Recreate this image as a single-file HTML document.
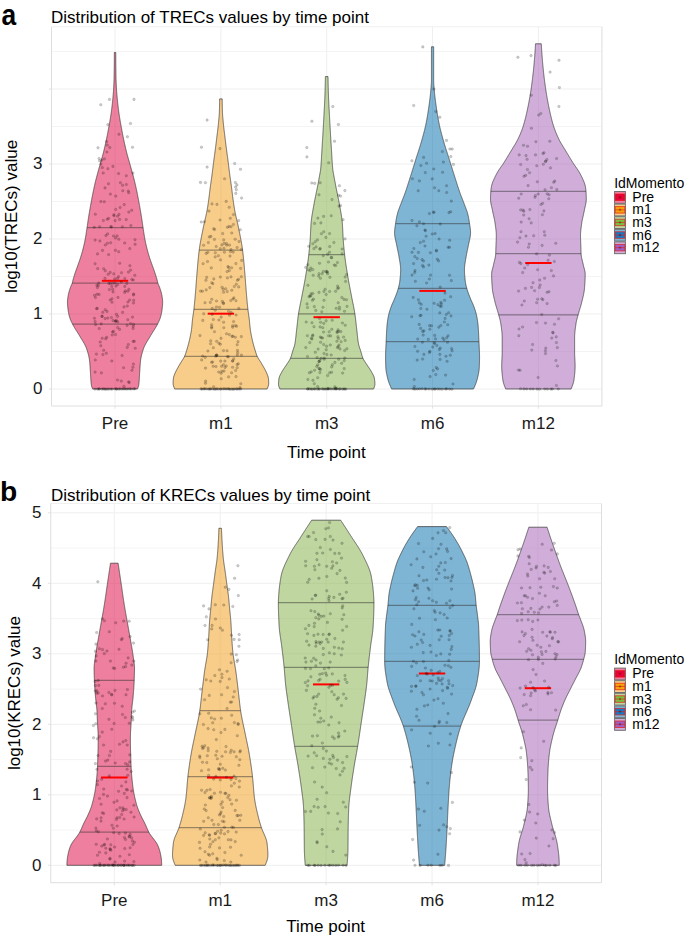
<!DOCTYPE html><html><head><meta charset="utf-8"><style>html,body{margin:0;padding:0;background:#fff;}svg{display:block;font-family:"Liberation Sans",sans-serif;}</style></head><body>
<svg width="685" height="940" viewBox="0 0 685 940">
<rect width="685" height="940" fill="#fff"/>
<line x1="51.55" y1="351.50" x2="601.95" y2="351.50" stroke="#f1f1f1" stroke-width="0.8"/>
<line x1="51.55" y1="276.50" x2="601.95" y2="276.50" stroke="#f1f1f1" stroke-width="0.8"/>
<line x1="51.55" y1="201.50" x2="601.95" y2="201.50" stroke="#f1f1f1" stroke-width="0.8"/>
<line x1="51.55" y1="126.50" x2="601.95" y2="126.50" stroke="#f1f1f1" stroke-width="0.8"/>
<line x1="51.55" y1="51.50" x2="601.95" y2="51.50" stroke="#f1f1f1" stroke-width="0.8"/>
<line x1="51.55" y1="389.00" x2="601.95" y2="389.00" stroke="#efefef" stroke-width="1"/>
<line x1="48.849999999999994" y1="389.00" x2="51.55" y2="389.00" stroke="#e2e2e2" stroke-width="1"/>
<line x1="51.55" y1="314.00" x2="601.95" y2="314.00" stroke="#efefef" stroke-width="1"/>
<line x1="48.849999999999994" y1="314.00" x2="51.55" y2="314.00" stroke="#e2e2e2" stroke-width="1"/>
<line x1="51.55" y1="239.00" x2="601.95" y2="239.00" stroke="#efefef" stroke-width="1"/>
<line x1="48.849999999999994" y1="239.00" x2="51.55" y2="239.00" stroke="#e2e2e2" stroke-width="1"/>
<line x1="51.55" y1="164.00" x2="601.95" y2="164.00" stroke="#efefef" stroke-width="1"/>
<line x1="48.849999999999994" y1="164.00" x2="51.55" y2="164.00" stroke="#e2e2e2" stroke-width="1"/>
<line x1="51.55" y1="89.00" x2="601.95" y2="89.00" stroke="#efefef" stroke-width="1"/>
<line x1="48.849999999999994" y1="89.00" x2="51.55" y2="89.00" stroke="#e2e2e2" stroke-width="1"/>
<line x1="115.05" y1="26.8" x2="115.05" y2="406.0" stroke="#efefef" stroke-width="1"/>
<line x1="115.05" y1="406.0" x2="115.05" y2="408.7" stroke="#e2e2e2" stroke-width="1"/>
<line x1="220.9" y1="26.8" x2="220.9" y2="406.0" stroke="#efefef" stroke-width="1"/>
<line x1="220.9" y1="406.0" x2="220.9" y2="408.7" stroke="#e2e2e2" stroke-width="1"/>
<line x1="326.7" y1="26.8" x2="326.7" y2="406.0" stroke="#efefef" stroke-width="1"/>
<line x1="326.7" y1="406.0" x2="326.7" y2="408.7" stroke="#e2e2e2" stroke-width="1"/>
<line x1="432.55" y1="26.8" x2="432.55" y2="406.0" stroke="#efefef" stroke-width="1"/>
<line x1="432.55" y1="406.0" x2="432.55" y2="408.7" stroke="#e2e2e2" stroke-width="1"/>
<line x1="538.4" y1="26.8" x2="538.4" y2="406.0" stroke="#efefef" stroke-width="1"/>
<line x1="538.4" y1="406.0" x2="538.4" y2="408.7" stroke="#e2e2e2" stroke-width="1"/>
<path d="M114.35,52.50 L115.75,52.50 115.75,53.00 115.75,53.50 115.75,54.00 115.75,54.50 115.75,55.00 115.75,55.50 115.76,55.99 115.76,56.49 115.76,56.99 115.76,57.49 115.76,57.99 115.77,58.49 115.77,58.99 115.77,59.49 115.77,59.99 115.78,60.49 115.78,60.99 115.78,61.49 115.79,61.99 115.79,62.49 115.80,62.98 115.80,63.48 115.80,63.98 115.81,64.48 115.81,64.98 115.82,65.48 115.82,65.98 115.83,66.48 115.83,66.98 115.84,67.48 115.85,67.98 115.85,68.48 115.86,68.98 115.86,69.47 115.87,69.97 115.88,70.47 115.88,70.97 115.89,71.47 115.90,71.97 115.90,72.47 115.91,72.97 115.92,73.47 115.92,73.97 115.93,74.47 115.94,74.97 115.95,75.47 115.95,75.97 115.96,76.46 115.97,76.96 115.99,77.46 116.00,77.96 116.01,78.46 116.03,78.96 116.04,79.46 116.06,79.96 116.08,80.46 116.10,80.96 116.12,81.46 116.14,81.96 116.16,82.46 116.19,82.95 116.21,83.45 116.24,83.95 116.26,84.45 116.29,84.95 116.31,85.45 116.34,85.95 116.37,86.45 116.39,86.95 116.42,87.45 116.45,87.95 116.48,88.45 116.51,88.95 116.54,89.45 116.56,89.94 116.59,90.44 116.63,90.94 116.66,91.44 116.69,91.94 116.73,92.44 116.77,92.94 116.81,93.44 116.85,93.94 116.89,94.44 116.93,94.94 116.97,95.44 117.01,95.94 117.06,96.43 117.10,96.93 117.15,97.43 117.20,97.93 117.24,98.43 117.29,98.93 117.34,99.43 117.39,99.93 117.44,100.43 117.49,100.93 117.54,101.43 117.59,101.93 117.64,102.43 117.69,102.93 117.75,103.42 117.80,103.92 117.85,104.42 117.91,104.92 117.97,105.42 118.02,105.92 118.08,106.42 118.14,106.92 118.20,107.42 118.26,107.92 118.33,108.42 118.39,108.92 118.45,109.42 118.52,109.91 118.58,110.41 118.65,110.91 118.72,111.41 118.79,111.91 118.85,112.41 118.92,112.91 118.99,113.41 119.06,113.91 119.14,114.41 119.21,114.91 119.28,115.41 119.35,115.91 119.43,116.41 119.51,116.90 119.59,117.40 119.67,117.90 119.75,118.40 119.83,118.90 119.91,119.40 120.00,119.90 120.08,120.40 120.17,120.90 120.25,121.40 120.34,121.90 120.43,122.40 120.52,122.90 120.61,123.39 120.70,123.89 120.79,124.39 120.88,124.89 120.97,125.39 121.06,125.89 121.16,126.39 121.25,126.89 121.34,127.39 121.43,127.89 121.52,128.39 121.61,128.89 121.70,129.39 121.80,129.89 121.89,130.38 121.98,130.88 122.08,131.38 122.17,131.88 122.26,132.38 122.36,132.88 122.45,133.38 122.55,133.88 122.65,134.38 122.74,134.88 122.84,135.38 122.94,135.88 123.04,136.38 123.14,136.87 123.24,137.37 123.34,137.87 123.44,138.37 123.55,138.87 123.65,139.37 123.75,139.87 123.86,140.37 123.96,140.87 124.07,141.37 124.18,141.87 124.29,142.37 124.40,142.87 124.51,143.36 124.62,143.86 124.73,144.36 124.84,144.86 124.96,145.36 125.07,145.86 125.19,146.36 125.30,146.86 125.42,147.36 125.54,147.86 125.65,148.36 125.77,148.86 125.89,149.36 126.01,149.86 126.14,150.35 126.26,150.85 126.38,151.35 126.51,151.85 126.63,152.35 126.76,152.85 126.89,153.35 127.01,153.85 127.14,154.35 127.28,154.85 127.41,155.35 127.55,155.85 127.69,156.35 127.83,156.84 127.97,157.34 128.11,157.84 128.26,158.34 128.40,158.84 128.54,159.34 128.69,159.84 128.83,160.34 128.98,160.84 129.12,161.34 129.27,161.84 129.41,162.34 129.56,162.84 129.70,163.34 129.84,163.83 129.98,164.33 130.11,164.83 130.25,165.33 130.39,165.83 130.53,166.33 130.67,166.83 130.81,167.33 130.95,167.83 131.09,168.33 131.23,168.83 131.36,169.33 131.50,169.83 131.64,170.32 131.78,170.82 131.92,171.32 132.06,171.82 132.20,172.32 132.34,172.82 132.48,173.32 132.61,173.82 132.75,174.32 132.89,174.82 133.02,175.32 133.16,175.82 133.29,176.32 133.43,176.82 133.56,177.31 133.69,177.81 133.82,178.31 133.95,178.81 134.08,179.31 134.21,179.81 134.33,180.31 134.46,180.81 134.58,181.31 134.70,181.81 134.82,182.31 134.94,182.81 135.06,183.31 135.17,183.80 135.29,184.30 135.40,184.80 135.52,185.30 135.63,185.80 135.74,186.30 135.85,186.80 135.96,187.30 136.07,187.80 136.17,188.30 136.28,188.80 136.39,189.30 136.49,189.80 136.60,190.30 136.70,190.79 136.80,191.29 136.91,191.79 137.01,192.29 137.11,192.79 137.21,193.29 137.31,193.79 137.41,194.29 137.51,194.79 137.61,195.29 137.70,195.79 137.80,196.29 137.90,196.79 137.99,197.28 138.09,197.78 138.19,198.28 138.28,198.78 138.37,199.28 138.47,199.78 138.56,200.28 138.66,200.78 138.75,201.28 138.84,201.78 138.93,202.28 139.03,202.78 139.12,203.28 139.21,203.78 139.30,204.27 139.39,204.77 139.48,205.27 139.57,205.77 139.66,206.27 139.75,206.77 139.84,207.27 139.93,207.77 140.02,208.27 140.10,208.77 140.19,209.27 140.28,209.77 140.36,210.27 140.45,210.76 140.53,211.26 140.62,211.76 140.70,212.26 140.78,212.76 140.87,213.26 140.95,213.76 141.03,214.26 141.12,214.76 141.20,215.26 141.28,215.76 141.36,216.26 141.44,216.76 141.52,217.26 141.60,217.75 141.68,218.25 141.76,218.75 141.83,219.25 141.91,219.75 141.99,220.25 142.06,220.75 142.14,221.25 142.21,221.75 142.28,222.25 142.35,222.75 142.42,223.25 142.49,223.75 142.57,224.24 142.64,224.74 142.71,225.24 142.78,225.74 142.85,226.24 142.92,226.74 143.00,227.24 143.07,227.74 143.15,228.24 143.22,228.74 143.30,229.24 143.37,229.74 143.45,230.24 143.52,230.74 143.60,231.23 143.67,231.73 143.75,232.23 143.82,232.73 143.90,233.23 143.98,233.73 144.06,234.23 144.14,234.73 144.22,235.23 144.30,235.73 144.38,236.23 144.46,236.73 144.55,237.23 144.64,237.72 144.72,238.22 144.81,238.72 144.90,239.22 145.00,239.72 145.09,240.22 145.19,240.72 145.29,241.22 145.39,241.72 145.50,242.22 145.60,242.72 145.71,243.22 145.82,243.72 145.94,244.22 146.05,244.71 146.17,245.21 146.28,245.71 146.40,246.21 146.52,246.71 146.65,247.21 146.77,247.71 146.89,248.21 147.02,248.71 147.15,249.21 147.27,249.71 147.40,250.21 147.53,250.71 147.67,251.20 147.80,251.70 147.94,252.20 148.08,252.70 148.23,253.20 148.37,253.70 148.52,254.20 148.67,254.70 148.82,255.20 148.97,255.70 149.12,256.20 149.28,256.70 149.44,257.20 149.59,257.70 149.76,258.19 149.92,258.69 150.09,259.19 150.26,259.69 150.43,260.19 150.60,260.69 150.78,261.19 150.96,261.69 151.13,262.19 151.31,262.69 151.49,263.19 151.67,263.69 151.85,264.19 152.02,264.68 152.20,265.18 152.38,265.68 152.56,266.18 152.74,266.68 152.92,267.18 153.11,267.68 153.29,268.18 153.47,268.68 153.66,269.18 153.84,269.68 154.02,270.18 154.19,270.68 154.37,271.18 154.54,271.67 154.71,272.17 154.87,272.67 155.04,273.17 155.20,273.67 155.36,274.17 155.52,274.67 155.68,275.17 155.84,275.67 156.00,276.17 156.15,276.67 156.30,277.17 156.45,277.67 156.60,278.16 156.74,278.66 156.88,279.16 157.01,279.66 157.14,280.16 157.26,280.66 157.37,281.16 157.48,281.66 157.60,282.16 157.72,282.66 157.87,283.16 158.04,283.66 158.24,284.16 158.45,284.66 158.68,285.15 158.91,285.65 159.13,286.15 159.34,286.65 159.53,287.15 159.71,287.65 159.88,288.15 160.06,288.65 160.23,289.15 160.40,289.65 160.56,290.15 160.72,290.65 160.88,291.15 161.03,291.64 161.17,292.14 161.30,292.64 161.43,293.14 161.54,293.64 161.65,294.14 161.74,294.64 161.83,295.14 161.91,295.64 162.00,296.14 162.08,296.64 162.17,297.14 162.25,297.64 162.32,298.14 162.39,298.63 162.45,299.13 162.51,299.63 162.56,300.13 162.60,300.63 162.63,301.13 162.64,301.63 162.65,302.13 162.65,302.63 162.63,303.13 162.61,303.63 162.59,304.13 162.56,304.63 162.52,305.12 162.48,305.62 162.43,306.12 162.38,306.62 162.33,307.12 162.28,307.62 162.22,308.12 162.16,308.62 162.11,309.12 162.05,309.62 161.99,310.12 161.92,310.62 161.84,311.12 161.76,311.61 161.68,312.11 161.58,312.61 161.49,313.11 161.38,313.61 161.27,314.11 161.16,314.61 161.04,315.11 160.92,315.61 160.79,316.11 160.66,316.61 160.52,317.11 160.37,317.61 160.21,318.11 160.03,318.60 159.84,319.10 159.64,319.60 159.43,320.10 159.22,320.60 158.99,321.10 158.76,321.60 158.52,322.10 158.28,322.60 158.04,323.10 157.80,323.60 157.55,324.10 157.30,324.60 157.04,325.09 156.77,325.59 156.50,326.09 156.21,326.59 155.92,327.09 155.62,327.59 155.32,328.09 155.02,328.59 154.71,329.09 154.39,329.59 154.08,330.09 153.76,330.59 153.44,331.09 153.12,331.59 152.81,332.08 152.49,332.58 152.17,333.08 151.86,333.58 151.55,334.08 151.25,334.58 150.95,335.08 150.65,335.58 150.36,336.08 150.07,336.58 149.78,337.08 149.48,337.58 149.18,338.08 148.87,338.57 148.57,339.07 148.26,339.57 147.95,340.07 147.64,340.57 147.33,341.07 147.03,341.57 146.73,342.07 146.44,342.57 146.15,343.07 145.86,343.57 145.58,344.07 145.32,344.57 145.06,345.07 144.81,345.56 144.57,346.06 144.34,346.56 144.12,347.06 143.92,347.56 143.73,348.06 143.56,348.56 143.39,349.06 143.22,349.56 143.06,350.06 142.89,350.56 142.73,351.06 142.58,351.56 142.42,352.05 142.27,352.55 142.13,353.05 141.99,353.55 141.85,354.05 141.72,354.55 141.59,355.05 141.47,355.55 141.35,356.05 141.24,356.55 141.13,357.05 141.03,357.55 140.93,358.05 140.84,358.55 140.76,359.04 140.69,359.54 140.62,360.04 140.56,360.54 140.50,361.04 140.45,361.54 140.40,362.04 140.35,362.54 140.31,363.04 140.27,363.54 140.23,364.04 140.19,364.54 140.15,365.04 140.12,365.53 140.08,366.03 140.05,366.53 140.02,367.03 139.99,367.53 139.96,368.03 139.93,368.53 139.90,369.03 139.87,369.53 139.83,370.03 139.80,370.53 139.77,371.03 139.74,371.53 139.71,372.03 139.67,372.52 139.63,373.02 139.60,373.52 139.57,374.02 139.54,374.52 139.51,375.02 139.48,375.52 139.45,376.02 139.42,376.52 139.40,377.02 139.37,377.52 139.34,378.02 139.31,378.52 139.29,379.01 139.26,379.51 139.22,380.01 139.19,380.51 139.15,381.01 139.12,381.51 139.07,382.01 139.03,382.51 138.98,383.01 138.93,383.51 138.87,384.01 138.81,384.51 138.75,385.01 138.66,385.51 138.54,386.00 138.39,386.50 138.23,387.00 138.04,387.50 137.85,388.00 137.65,388.50 137.45,389.00 L92.65,389.00 92.45,388.50 92.25,388.00 92.06,387.50 91.87,387.00 91.71,386.50 91.56,386.00 91.44,385.51 91.35,385.01 91.29,384.51 91.23,384.01 91.17,383.51 91.12,383.01 91.07,382.51 91.03,382.01 90.98,381.51 90.95,381.01 90.91,380.51 90.88,380.01 90.84,379.51 90.81,379.01 90.79,378.52 90.76,378.02 90.73,377.52 90.70,377.02 90.68,376.52 90.65,376.02 90.62,375.52 90.59,375.02 90.56,374.52 90.53,374.02 90.50,373.52 90.47,373.02 90.43,372.52 90.39,372.03 90.36,371.53 90.33,371.03 90.30,370.53 90.27,370.03 90.23,369.53 90.20,369.03 90.17,368.53 90.14,368.03 90.11,367.53 90.08,367.03 90.05,366.53 90.02,366.03 89.98,365.53 89.95,365.04 89.91,364.54 89.87,364.04 89.83,363.54 89.79,363.04 89.75,362.54 89.70,362.04 89.65,361.54 89.60,361.04 89.54,360.54 89.48,360.04 89.41,359.54 89.34,359.04 89.26,358.55 89.17,358.05 89.07,357.55 88.97,357.05 88.86,356.55 88.75,356.05 88.63,355.55 88.51,355.05 88.38,354.55 88.25,354.05 88.11,353.55 87.97,353.05 87.83,352.55 87.68,352.05 87.52,351.56 87.37,351.06 87.21,350.56 87.04,350.06 86.88,349.56 86.71,349.06 86.54,348.56 86.37,348.06 86.18,347.56 85.98,347.06 85.76,346.56 85.53,346.06 85.29,345.56 85.04,345.07 84.78,344.57 84.52,344.07 84.24,343.57 83.95,343.07 83.66,342.57 83.37,342.07 83.07,341.57 82.77,341.07 82.46,340.57 82.15,340.07 81.84,339.57 81.53,339.07 81.23,338.57 80.92,338.08 80.62,337.58 80.32,337.08 80.03,336.58 79.74,336.08 79.45,335.58 79.15,335.08 78.85,334.58 78.55,334.08 78.24,333.58 77.93,333.08 77.61,332.58 77.29,332.08 76.98,331.59 76.66,331.09 76.34,330.59 76.02,330.09 75.71,329.59 75.39,329.09 75.08,328.59 74.78,328.09 74.48,327.59 74.18,327.09 73.89,326.59 73.60,326.09 73.33,325.59 73.06,325.09 72.80,324.60 72.55,324.10 72.30,323.60 72.06,323.10 71.82,322.60 71.58,322.10 71.34,321.60 71.11,321.10 70.88,320.60 70.67,320.10 70.46,319.60 70.26,319.10 70.07,318.60 69.89,318.11 69.73,317.61 69.58,317.11 69.44,316.61 69.31,316.11 69.18,315.61 69.06,315.11 68.94,314.61 68.83,314.11 68.72,313.61 68.61,313.11 68.52,312.61 68.42,312.11 68.34,311.61 68.26,311.12 68.18,310.62 68.11,310.12 68.05,309.62 67.99,309.12 67.94,308.62 67.88,308.12 67.82,307.62 67.77,307.12 67.72,306.62 67.67,306.12 67.62,305.62 67.58,305.12 67.54,304.63 67.51,304.13 67.49,303.63 67.47,303.13 67.45,302.63 67.45,302.13 67.46,301.63 67.47,301.13 67.50,300.63 67.54,300.13 67.59,299.63 67.65,299.13 67.71,298.63 67.78,298.14 67.85,297.64 67.93,297.14 68.02,296.64 68.10,296.14 68.19,295.64 68.27,295.14 68.36,294.64 68.45,294.14 68.56,293.64 68.67,293.14 68.80,292.64 68.93,292.14 69.07,291.64 69.22,291.15 69.38,290.65 69.54,290.15 69.70,289.65 69.87,289.15 70.04,288.65 70.22,288.15 70.39,287.65 70.57,287.15 70.76,286.65 70.97,286.15 71.19,285.65 71.42,285.15 71.65,284.66 71.86,284.16 72.06,283.66 72.23,283.16 72.38,282.66 72.50,282.16 72.62,281.66 72.73,281.16 72.84,280.66 72.96,280.16 73.09,279.66 73.22,279.16 73.36,278.66 73.50,278.16 73.65,277.67 73.80,277.17 73.95,276.67 74.10,276.17 74.26,275.67 74.42,275.17 74.58,274.67 74.74,274.17 74.90,273.67 75.06,273.17 75.23,272.67 75.39,272.17 75.56,271.67 75.73,271.18 75.91,270.68 76.08,270.18 76.26,269.68 76.44,269.18 76.63,268.68 76.81,268.18 76.99,267.68 77.18,267.18 77.36,266.68 77.54,266.18 77.72,265.68 77.90,265.18 78.08,264.68 78.25,264.19 78.43,263.69 78.61,263.19 78.79,262.69 78.97,262.19 79.14,261.69 79.32,261.19 79.50,260.69 79.67,260.19 79.84,259.69 80.01,259.19 80.18,258.69 80.34,258.19 80.51,257.70 80.66,257.20 80.82,256.70 80.98,256.20 81.13,255.70 81.28,255.20 81.43,254.70 81.58,254.20 81.73,253.70 81.87,253.20 82.02,252.70 82.16,252.20 82.30,251.70 82.43,251.20 82.57,250.71 82.70,250.21 82.83,249.71 82.95,249.21 83.08,248.71 83.21,248.21 83.33,247.71 83.45,247.21 83.58,246.71 83.70,246.21 83.82,245.71 83.93,245.21 84.05,244.71 84.16,244.22 84.28,243.72 84.39,243.22 84.50,242.72 84.60,242.22 84.71,241.72 84.81,241.22 84.91,240.72 85.01,240.22 85.10,239.72 85.20,239.22 85.29,238.72 85.38,238.22 85.46,237.72 85.55,237.23 85.64,236.73 85.72,236.23 85.80,235.73 85.88,235.23 85.96,234.73 86.04,234.23 86.12,233.73 86.20,233.23 86.28,232.73 86.35,232.23 86.43,231.73 86.50,231.23 86.58,230.74 86.65,230.24 86.73,229.74 86.80,229.24 86.88,228.74 86.95,228.24 87.03,227.74 87.10,227.24 87.18,226.74 87.25,226.24 87.32,225.74 87.39,225.24 87.46,224.74 87.53,224.24 87.61,223.75 87.68,223.25 87.75,222.75 87.82,222.25 87.89,221.75 87.96,221.25 88.04,220.75 88.11,220.25 88.19,219.75 88.27,219.25 88.34,218.75 88.42,218.25 88.50,217.75 88.58,217.26 88.66,216.76 88.74,216.26 88.82,215.76 88.90,215.26 88.98,214.76 89.07,214.26 89.15,213.76 89.23,213.26 89.32,212.76 89.40,212.26 89.48,211.76 89.57,211.26 89.65,210.76 89.74,210.27 89.82,209.77 89.91,209.27 90.00,208.77 90.08,208.27 90.17,207.77 90.26,207.27 90.35,206.77 90.44,206.27 90.53,205.77 90.62,205.27 90.71,204.77 90.80,204.27 90.89,203.78 90.98,203.28 91.07,202.78 91.17,202.28 91.26,201.78 91.35,201.28 91.44,200.78 91.54,200.28 91.63,199.78 91.73,199.28 91.82,198.78 91.91,198.28 92.01,197.78 92.11,197.28 92.20,196.79 92.30,196.29 92.40,195.79 92.49,195.29 92.59,194.79 92.69,194.29 92.79,193.79 92.89,193.29 92.99,192.79 93.09,192.29 93.19,191.79 93.30,191.29 93.40,190.79 93.50,190.30 93.61,189.80 93.71,189.30 93.82,188.80 93.93,188.30 94.03,187.80 94.14,187.30 94.25,186.80 94.36,186.30 94.47,185.80 94.58,185.30 94.70,184.80 94.81,184.30 94.93,183.80 95.04,183.31 95.16,182.81 95.28,182.31 95.40,181.81 95.52,181.31 95.64,180.81 95.77,180.31 95.89,179.81 96.02,179.31 96.15,178.81 96.28,178.31 96.41,177.81 96.54,177.31 96.67,176.82 96.81,176.32 96.94,175.82 97.08,175.32 97.21,174.82 97.35,174.32 97.49,173.82 97.62,173.32 97.76,172.82 97.90,172.32 98.04,171.82 98.18,171.32 98.32,170.82 98.46,170.32 98.60,169.83 98.74,169.33 98.87,168.83 99.01,168.33 99.15,167.83 99.29,167.33 99.43,166.83 99.57,166.33 99.71,165.83 99.85,165.33 99.99,164.83 100.12,164.33 100.26,163.83 100.40,163.34 100.54,162.84 100.69,162.34 100.83,161.84 100.98,161.34 101.12,160.84 101.27,160.34 101.41,159.84 101.56,159.34 101.70,158.84 101.84,158.34 101.99,157.84 102.13,157.34 102.27,156.84 102.41,156.35 102.55,155.85 102.69,155.35 102.82,154.85 102.96,154.35 103.09,153.85 103.21,153.35 103.34,152.85 103.47,152.35 103.59,151.85 103.72,151.35 103.84,150.85 103.96,150.35 104.09,149.86 104.21,149.36 104.33,148.86 104.45,148.36 104.56,147.86 104.68,147.36 104.80,146.86 104.91,146.36 105.03,145.86 105.14,145.36 105.26,144.86 105.37,144.36 105.48,143.86 105.59,143.36 105.70,142.87 105.81,142.37 105.92,141.87 106.03,141.37 106.14,140.87 106.24,140.37 106.35,139.87 106.45,139.37 106.55,138.87 106.66,138.37 106.76,137.87 106.86,137.37 106.96,136.87 107.06,136.38 107.16,135.88 107.26,135.38 107.36,134.88 107.45,134.38 107.55,133.88 107.65,133.38 107.74,132.88 107.84,132.38 107.93,131.88 108.02,131.38 108.12,130.88 108.21,130.38 108.30,129.89 108.40,129.39 108.49,128.89 108.58,128.39 108.67,127.89 108.76,127.39 108.85,126.89 108.94,126.39 109.04,125.89 109.13,125.39 109.22,124.89 109.31,124.39 109.40,123.89 109.49,123.39 109.58,122.90 109.67,122.40 109.76,121.90 109.85,121.40 109.93,120.90 110.02,120.40 110.10,119.90 110.19,119.40 110.27,118.90 110.35,118.40 110.43,117.90 110.51,117.40 110.59,116.90 110.67,116.41 110.75,115.91 110.82,115.41 110.89,114.91 110.96,114.41 111.04,113.91 111.11,113.41 111.18,112.91 111.25,112.41 111.31,111.91 111.38,111.41 111.45,110.91 111.52,110.41 111.58,109.91 111.65,109.42 111.71,108.92 111.77,108.42 111.84,107.92 111.90,107.42 111.96,106.92 112.02,106.42 112.08,105.92 112.13,105.42 112.19,104.92 112.25,104.42 112.30,103.92 112.35,103.42 112.41,102.93 112.46,102.43 112.51,101.93 112.56,101.43 112.61,100.93 112.66,100.43 112.71,99.93 112.76,99.43 112.81,98.93 112.86,98.43 112.90,97.93 112.95,97.43 113.00,96.93 113.04,96.43 113.09,95.94 113.13,95.44 113.17,94.94 113.21,94.44 113.25,93.94 113.29,93.44 113.33,92.94 113.37,92.44 113.41,91.94 113.44,91.44 113.47,90.94 113.51,90.44 113.54,89.94 113.56,89.45 113.59,88.95 113.62,88.45 113.65,87.95 113.68,87.45 113.71,86.95 113.73,86.45 113.76,85.95 113.79,85.45 113.81,84.95 113.84,84.45 113.86,83.95 113.89,83.45 113.91,82.95 113.94,82.46 113.96,81.96 113.98,81.46 114.00,80.96 114.02,80.46 114.04,79.96 114.06,79.46 114.07,78.96 114.09,78.46 114.10,77.96 114.11,77.46 114.13,76.96 114.14,76.46 114.15,75.97 114.15,75.47 114.16,74.97 114.17,74.47 114.18,73.97 114.18,73.47 114.19,72.97 114.20,72.47 114.20,71.97 114.21,71.47 114.22,70.97 114.22,70.47 114.23,69.97 114.24,69.47 114.24,68.98 114.25,68.48 114.25,67.98 114.26,67.48 114.27,66.98 114.27,66.48 114.28,65.98 114.28,65.48 114.29,64.98 114.29,64.48 114.30,63.98 114.30,63.48 114.30,62.98 114.31,62.49 114.31,61.99 114.32,61.49 114.32,60.99 114.32,60.49 114.33,59.99 114.33,59.49 114.33,58.99 114.33,58.49 114.34,57.99 114.34,57.49 114.34,56.99 114.34,56.49 114.34,55.99 114.35,55.50 114.35,55.00 114.35,54.50 114.35,54.00 114.35,53.50 114.35,53.00 114.35,52.50 Z" fill="#df003d" fill-opacity="0.5" stroke="#333" stroke-width="0.7"/>
<line x1="87.05" y1="227.6" x2="143.05" y2="227.6" stroke="#333" stroke-opacity="0.48" stroke-width="1.25"/>
<line x1="72.22" y1="283.2" x2="157.88" y2="283.2" stroke="#333" stroke-opacity="0.48" stroke-width="1.25"/>
<line x1="72.55" y1="324.1" x2="157.55" y2="324.1" stroke="#333" stroke-opacity="0.48" stroke-width="1.25"/>
<path d="M219.60,98.90 L222.20,98.90 222.20,99.40 222.20,99.90 222.20,100.40 222.21,100.90 222.21,101.40 222.21,101.90 222.22,102.40 222.23,102.89 222.23,103.39 222.24,103.89 222.25,104.39 222.26,104.89 222.26,105.39 222.27,105.89 222.28,106.39 222.29,106.89 222.31,107.39 222.32,107.89 222.33,108.39 222.34,108.89 222.35,109.39 222.37,109.88 222.38,110.38 222.39,110.88 222.41,111.38 222.42,111.88 222.44,112.38 222.46,112.88 222.49,113.38 222.52,113.88 222.55,114.38 222.58,114.88 222.62,115.38 222.65,115.88 222.69,116.38 222.74,116.88 222.78,117.37 222.82,117.87 222.87,118.37 222.91,118.87 222.96,119.37 223.01,119.87 223.06,120.37 223.11,120.87 223.15,121.37 223.20,121.87 223.25,122.37 223.30,122.87 223.35,123.37 223.40,123.87 223.44,124.36 223.49,124.86 223.54,125.36 223.60,125.86 223.65,126.36 223.70,126.86 223.76,127.36 223.82,127.86 223.88,128.36 223.93,128.86 223.99,129.36 224.05,129.86 224.11,130.36 224.18,130.86 224.24,131.36 224.30,131.85 224.36,132.35 224.42,132.85 224.49,133.35 224.55,133.85 224.61,134.35 224.67,134.85 224.73,135.35 224.80,135.85 224.86,136.35 224.92,136.85 224.98,137.35 225.04,137.85 225.10,138.35 225.16,138.84 225.22,139.34 225.28,139.84 225.34,140.34 225.41,140.84 225.47,141.34 225.53,141.84 225.59,142.34 225.65,142.84 225.72,143.34 225.78,143.84 225.84,144.34 225.90,144.84 225.97,145.34 226.03,145.84 226.09,146.33 226.16,146.83 226.22,147.33 226.29,147.83 226.35,148.33 226.41,148.83 226.48,149.33 226.54,149.83 226.61,150.33 226.67,150.83 226.74,151.33 226.81,151.83 226.87,152.33 226.94,152.83 227.01,153.32 227.07,153.82 227.14,154.32 227.21,154.82 227.28,155.32 227.35,155.82 227.41,156.32 227.48,156.82 227.55,157.32 227.62,157.82 227.69,158.32 227.75,158.82 227.82,159.32 227.89,159.82 227.95,160.32 228.02,160.81 228.08,161.31 228.15,161.81 228.21,162.31 228.28,162.81 228.34,163.31 228.41,163.81 228.47,164.31 228.53,164.81 228.59,165.31 228.65,165.81 228.71,166.31 228.78,166.81 228.84,167.31 228.90,167.80 228.96,168.30 229.02,168.80 229.08,169.30 229.14,169.80 229.20,170.30 229.27,170.80 229.33,171.30 229.39,171.80 229.45,172.30 229.52,172.80 229.58,173.30 229.64,173.80 229.71,174.30 229.77,174.80 229.84,175.29 229.91,175.79 229.97,176.29 230.04,176.79 230.11,177.29 230.18,177.79 230.25,178.29 230.32,178.79 230.40,179.29 230.47,179.79 230.54,180.29 230.61,180.79 230.68,181.29 230.76,181.79 230.83,182.29 230.90,182.78 230.97,183.28 231.04,183.78 231.11,184.28 231.19,184.78 231.26,185.28 231.33,185.78 231.39,186.28 231.46,186.78 231.53,187.28 231.60,187.78 231.66,188.28 231.73,188.78 231.79,189.28 231.85,189.77 231.92,190.27 231.98,190.77 232.04,191.27 232.10,191.77 232.16,192.27 232.22,192.77 232.28,193.27 232.34,193.77 232.40,194.27 232.46,194.77 232.52,195.27 232.58,195.77 232.64,196.27 232.70,196.77 232.76,197.26 232.82,197.76 232.89,198.26 232.95,198.76 233.02,199.26 233.08,199.76 233.15,200.26 233.22,200.76 233.29,201.26 233.36,201.76 233.43,202.26 233.51,202.76 233.58,203.26 233.65,203.76 233.73,204.25 233.80,204.75 233.88,205.25 233.96,205.75 234.03,206.25 234.11,206.75 234.19,207.25 234.27,207.75 234.36,208.25 234.44,208.75 234.53,209.25 234.61,209.75 234.70,210.25 234.79,210.75 234.88,211.25 234.98,211.74 235.07,212.24 235.17,212.74 235.28,213.24 235.38,213.74 235.49,214.24 235.60,214.74 235.71,215.24 235.82,215.74 235.93,216.24 236.05,216.74 236.17,217.24 236.28,217.74 236.40,218.24 236.52,218.73 236.63,219.23 236.75,219.73 236.87,220.23 236.99,220.73 237.10,221.23 237.22,221.73 237.34,222.23 237.45,222.73 237.56,223.23 237.67,223.73 237.78,224.23 237.89,224.73 238.00,225.23 238.10,225.73 238.20,226.22 238.31,226.72 238.41,227.22 238.51,227.72 238.61,228.22 238.71,228.72 238.82,229.22 238.92,229.72 239.02,230.22 239.12,230.72 239.22,231.22 239.33,231.72 239.43,232.22 239.53,232.72 239.63,233.21 239.73,233.71 239.84,234.21 239.94,234.71 240.04,235.21 240.14,235.71 240.24,236.21 240.34,236.71 240.43,237.21 240.53,237.71 240.63,238.21 240.72,238.71 240.82,239.21 240.91,239.71 241.01,240.21 241.10,240.70 241.19,241.20 241.28,241.70 241.37,242.20 241.46,242.70 241.54,243.20 241.63,243.70 241.71,244.20 241.80,244.70 241.88,245.20 241.96,245.70 242.04,246.20 242.11,246.70 242.19,247.20 242.26,247.69 242.33,248.19 242.40,248.69 242.47,249.19 242.53,249.69 242.60,250.19 242.66,250.69 242.72,251.19 242.78,251.69 242.84,252.19 242.90,252.69 242.96,253.19 243.02,253.69 243.07,254.19 243.13,254.69 243.18,255.18 243.24,255.68 243.29,256.18 243.34,256.68 243.39,257.18 243.44,257.68 243.49,258.18 243.54,258.68 243.59,259.18 243.64,259.68 243.69,260.18 243.74,260.68 243.78,261.18 243.83,261.68 243.88,262.17 243.92,262.67 243.97,263.17 244.01,263.67 244.06,264.17 244.10,264.67 244.14,265.17 244.19,265.67 244.23,266.17 244.27,266.67 244.32,267.17 244.36,267.67 244.40,268.17 244.44,268.67 244.49,269.17 244.53,269.66 244.57,270.16 244.61,270.66 244.65,271.16 244.69,271.66 244.74,272.16 244.78,272.66 244.82,273.16 244.86,273.66 244.90,274.16 244.95,274.66 244.99,275.16 245.03,275.66 245.07,276.16 245.11,276.65 245.15,277.15 245.19,277.65 245.22,278.15 245.26,278.65 245.30,279.15 245.34,279.65 245.37,280.15 245.41,280.65 245.45,281.15 245.48,281.65 245.52,282.15 245.55,282.65 245.59,283.15 245.63,283.65 245.66,284.14 245.70,284.64 245.74,285.14 245.77,285.64 245.81,286.14 245.85,286.64 245.89,287.14 245.92,287.64 245.96,288.14 246.00,288.64 246.04,289.14 246.08,289.64 246.12,290.14 246.16,290.64 246.20,291.13 246.24,291.63 246.29,292.13 246.33,292.63 246.37,293.13 246.41,293.63 246.46,294.13 246.50,294.63 246.54,295.13 246.58,295.63 246.63,296.13 246.67,296.63 246.71,297.13 246.76,297.63 246.80,298.13 246.84,298.62 246.89,299.12 246.93,299.62 246.98,300.12 247.02,300.62 247.07,301.12 247.12,301.62 247.16,302.12 247.21,302.62 247.26,303.12 247.31,303.62 247.35,304.12 247.40,304.62 247.45,305.12 247.51,305.61 247.56,306.11 247.61,306.61 247.66,307.11 247.71,307.61 247.77,308.11 247.82,308.61 247.88,309.11 247.94,309.61 248.00,310.11 248.06,310.61 248.12,311.11 248.19,311.61 248.26,312.11 248.33,312.61 248.40,313.10 248.47,313.60 248.54,314.10 248.62,314.60 248.69,315.10 248.76,315.60 248.84,316.10 248.91,316.60 248.98,317.10 249.05,317.60 249.11,318.10 249.18,318.60 249.24,319.10 249.30,319.60 249.36,320.10 249.41,320.59 249.46,321.09 249.51,321.59 249.56,322.09 249.61,322.59 249.65,323.09 249.70,323.59 249.74,324.09 249.79,324.59 249.84,325.09 249.88,325.59 249.93,326.09 249.98,326.59 250.03,327.09 250.08,327.58 250.14,328.08 250.20,328.58 250.26,329.08 250.32,329.58 250.39,330.08 250.47,330.58 250.54,331.08 250.62,331.58 250.70,332.08 250.79,332.58 250.88,333.08 250.97,333.58 251.06,334.08 251.16,334.58 251.26,335.07 251.35,335.57 251.46,336.07 251.56,336.57 251.66,337.07 251.77,337.57 251.88,338.07 251.98,338.57 252.09,339.07 252.20,339.57 252.32,340.07 252.43,340.57 252.55,341.07 252.67,341.57 252.80,342.06 252.92,342.56 253.05,343.06 253.18,343.56 253.32,344.06 253.45,344.56 253.59,345.06 253.73,345.56 253.87,346.06 254.01,346.56 254.16,347.06 254.30,347.56 254.45,348.06 254.60,348.56 254.75,349.06 254.89,349.55 255.04,350.05 255.19,350.55 255.34,351.05 255.50,351.55 255.65,352.05 255.81,352.55 255.97,353.05 256.14,353.55 256.32,354.05 256.50,354.55 256.69,355.05 256.88,355.55 257.09,356.05 257.31,356.54 257.55,357.04 257.81,357.54 258.09,358.04 258.39,358.54 258.69,359.04 259.01,359.54 259.34,360.04 259.67,360.54 260.00,361.04 260.33,361.54 260.65,362.04 260.96,362.54 261.27,363.04 261.56,363.54 261.85,364.03 262.13,364.53 262.42,365.03 262.71,365.53 263.00,366.03 263.29,366.53 263.58,367.03 263.86,367.53 264.15,368.03 264.43,368.53 264.70,369.03 264.97,369.53 265.24,370.03 265.49,370.53 265.74,371.02 265.98,371.52 266.21,372.02 266.44,372.52 266.65,373.02 266.85,373.52 267.05,374.02 267.25,374.52 267.46,375.02 267.65,375.52 267.84,376.02 268.01,376.52 268.15,377.02 268.27,377.52 268.36,378.02 268.42,378.51 268.47,379.01 268.52,379.51 268.56,380.01 268.60,380.51 268.63,381.01 268.66,381.51 268.68,382.01 268.69,382.51 268.70,383.01 268.69,383.51 268.66,384.01 268.60,384.51 268.51,385.01 268.40,385.50 268.26,386.00 268.11,386.50 267.93,387.00 267.74,387.50 267.54,388.00 267.32,388.50 267.10,389.00 L174.70,389.00 174.48,388.50 174.26,388.00 174.06,387.50 173.87,387.00 173.69,386.50 173.54,386.00 173.40,385.50 173.29,385.01 173.20,384.51 173.14,384.01 173.11,383.51 173.10,383.01 173.11,382.51 173.12,382.01 173.14,381.51 173.17,381.01 173.20,380.51 173.24,380.01 173.28,379.51 173.33,379.01 173.38,378.51 173.44,378.02 173.53,377.52 173.65,377.02 173.79,376.52 173.96,376.02 174.15,375.52 174.34,375.02 174.55,374.52 174.75,374.02 174.95,373.52 175.15,373.02 175.36,372.52 175.59,372.02 175.82,371.52 176.06,371.02 176.31,370.53 176.56,370.03 176.83,369.53 177.10,369.03 177.37,368.53 177.65,368.03 177.94,367.53 178.22,367.03 178.51,366.53 178.80,366.03 179.09,365.53 179.38,365.03 179.67,364.53 179.95,364.03 180.24,363.54 180.53,363.04 180.84,362.54 181.15,362.04 181.47,361.54 181.80,361.04 182.13,360.54 182.46,360.04 182.79,359.54 183.11,359.04 183.41,358.54 183.71,358.04 183.99,357.54 184.25,357.04 184.49,356.54 184.71,356.05 184.92,355.55 185.11,355.05 185.30,354.55 185.48,354.05 185.66,353.55 185.83,353.05 185.99,352.55 186.15,352.05 186.30,351.55 186.46,351.05 186.61,350.55 186.76,350.05 186.91,349.55 187.05,349.06 187.20,348.56 187.35,348.06 187.50,347.56 187.64,347.06 187.79,346.56 187.93,346.06 188.07,345.56 188.21,345.06 188.35,344.56 188.48,344.06 188.62,343.56 188.75,343.06 188.88,342.56 189.00,342.06 189.13,341.57 189.25,341.07 189.37,340.57 189.48,340.07 189.60,339.57 189.71,339.07 189.82,338.57 189.92,338.07 190.03,337.57 190.14,337.07 190.24,336.57 190.34,336.07 190.45,335.57 190.54,335.07 190.64,334.58 190.74,334.08 190.83,333.58 190.92,333.08 191.01,332.58 191.10,332.08 191.18,331.58 191.26,331.08 191.33,330.58 191.41,330.08 191.48,329.58 191.54,329.08 191.60,328.58 191.66,328.08 191.72,327.58 191.77,327.09 191.82,326.59 191.87,326.09 191.92,325.59 191.96,325.09 192.01,324.59 192.06,324.09 192.10,323.59 192.15,323.09 192.19,322.59 192.24,322.09 192.29,321.59 192.34,321.09 192.39,320.59 192.44,320.10 192.50,319.60 192.56,319.10 192.62,318.60 192.69,318.10 192.75,317.60 192.82,317.10 192.89,316.60 192.96,316.10 193.04,315.60 193.11,315.10 193.18,314.60 193.26,314.10 193.33,313.60 193.40,313.10 193.47,312.61 193.54,312.11 193.61,311.61 193.68,311.11 193.74,310.61 193.80,310.11 193.86,309.61 193.92,309.11 193.98,308.61 194.03,308.11 194.09,307.61 194.14,307.11 194.19,306.61 194.24,306.11 194.29,305.61 194.35,305.12 194.40,304.62 194.45,304.12 194.49,303.62 194.54,303.12 194.59,302.62 194.64,302.12 194.68,301.62 194.73,301.12 194.78,300.62 194.82,300.12 194.87,299.62 194.91,299.12 194.96,298.62 195.00,298.13 195.04,297.63 195.09,297.13 195.13,296.63 195.17,296.13 195.22,295.63 195.26,295.13 195.30,294.63 195.34,294.13 195.39,293.63 195.43,293.13 195.47,292.63 195.51,292.13 195.56,291.63 195.60,291.13 195.64,290.64 195.68,290.14 195.72,289.64 195.76,289.14 195.80,288.64 195.84,288.14 195.88,287.64 195.91,287.14 195.95,286.64 195.99,286.14 196.03,285.64 196.06,285.14 196.10,284.64 196.14,284.14 196.17,283.65 196.21,283.15 196.25,282.65 196.28,282.15 196.32,281.65 196.35,281.15 196.39,280.65 196.43,280.15 196.46,279.65 196.50,279.15 196.54,278.65 196.58,278.15 196.61,277.65 196.65,277.15 196.69,276.65 196.73,276.16 196.77,275.66 196.81,275.16 196.85,274.66 196.90,274.16 196.94,273.66 196.98,273.16 197.02,272.66 197.06,272.16 197.11,271.66 197.15,271.16 197.19,270.66 197.23,270.16 197.27,269.66 197.31,269.17 197.36,268.67 197.40,268.17 197.44,267.67 197.48,267.17 197.53,266.67 197.57,266.17 197.61,265.67 197.66,265.17 197.70,264.67 197.74,264.17 197.79,263.67 197.83,263.17 197.88,262.67 197.92,262.17 197.97,261.68 198.02,261.18 198.06,260.68 198.11,260.18 198.16,259.68 198.21,259.18 198.26,258.68 198.31,258.18 198.36,257.68 198.41,257.18 198.46,256.68 198.51,256.18 198.56,255.68 198.62,255.18 198.67,254.69 198.73,254.19 198.78,253.69 198.84,253.19 198.90,252.69 198.96,252.19 199.02,251.69 199.08,251.19 199.14,250.69 199.20,250.19 199.27,249.69 199.33,249.19 199.40,248.69 199.47,248.19 199.54,247.69 199.61,247.20 199.69,246.70 199.76,246.20 199.84,245.70 199.92,245.20 200.00,244.70 200.09,244.20 200.17,243.70 200.26,243.20 200.34,242.70 200.43,242.20 200.52,241.70 200.61,241.20 200.70,240.70 200.79,240.21 200.89,239.71 200.98,239.21 201.08,238.71 201.17,238.21 201.27,237.71 201.37,237.21 201.46,236.71 201.56,236.21 201.66,235.71 201.76,235.21 201.86,234.71 201.96,234.21 202.07,233.71 202.17,233.21 202.27,232.72 202.37,232.22 202.47,231.72 202.58,231.22 202.68,230.72 202.78,230.22 202.88,229.72 202.98,229.22 203.09,228.72 203.19,228.22 203.29,227.72 203.39,227.22 203.49,226.72 203.60,226.22 203.70,225.73 203.80,225.23 203.91,224.73 204.02,224.23 204.13,223.73 204.24,223.23 204.35,222.73 204.46,222.23 204.58,221.73 204.70,221.23 204.81,220.73 204.93,220.23 205.05,219.73 205.17,219.23 205.28,218.73 205.40,218.24 205.52,217.74 205.63,217.24 205.75,216.74 205.87,216.24 205.98,215.74 206.09,215.24 206.20,214.74 206.31,214.24 206.42,213.74 206.52,213.24 206.63,212.74 206.73,212.24 206.82,211.74 206.92,211.25 207.01,210.75 207.10,210.25 207.19,209.75 207.27,209.25 207.36,208.75 207.44,208.25 207.53,207.75 207.61,207.25 207.69,206.75 207.77,206.25 207.84,205.75 207.92,205.25 208.00,204.75 208.07,204.25 208.15,203.76 208.22,203.26 208.29,202.76 208.37,202.26 208.44,201.76 208.51,201.26 208.58,200.76 208.65,200.26 208.72,199.76 208.78,199.26 208.85,198.76 208.91,198.26 208.98,197.76 209.04,197.26 209.10,196.77 209.16,196.27 209.22,195.77 209.28,195.27 209.34,194.77 209.40,194.27 209.46,193.77 209.52,193.27 209.58,192.77 209.64,192.27 209.70,191.77 209.76,191.27 209.82,190.77 209.88,190.27 209.95,189.77 210.01,189.28 210.07,188.78 210.14,188.28 210.20,187.78 210.27,187.28 210.34,186.78 210.41,186.28 210.47,185.78 210.54,185.28 210.61,184.78 210.69,184.28 210.76,183.78 210.83,183.28 210.90,182.78 210.97,182.29 211.04,181.79 211.12,181.29 211.19,180.79 211.26,180.29 211.33,179.79 211.40,179.29 211.48,178.79 211.55,178.29 211.62,177.79 211.69,177.29 211.76,176.79 211.83,176.29 211.89,175.79 211.96,175.29 212.03,174.80 212.09,174.30 212.16,173.80 212.22,173.30 212.28,172.80 212.35,172.30 212.41,171.80 212.47,171.30 212.53,170.80 212.60,170.30 212.66,169.80 212.72,169.30 212.78,168.80 212.84,168.30 212.90,167.80 212.96,167.31 213.02,166.81 213.09,166.31 213.15,165.81 213.21,165.31 213.27,164.81 213.33,164.31 213.39,163.81 213.46,163.31 213.52,162.81 213.59,162.31 213.65,161.81 213.72,161.31 213.78,160.81 213.85,160.32 213.91,159.82 213.98,159.32 214.05,158.82 214.11,158.32 214.18,157.82 214.25,157.32 214.32,156.82 214.39,156.32 214.45,155.82 214.52,155.32 214.59,154.82 214.66,154.32 214.73,153.82 214.79,153.32 214.86,152.83 214.93,152.33 214.99,151.83 215.06,151.33 215.13,150.83 215.19,150.33 215.26,149.83 215.32,149.33 215.39,148.83 215.45,148.33 215.51,147.83 215.58,147.33 215.64,146.83 215.71,146.33 215.77,145.84 215.83,145.34 215.90,144.84 215.96,144.34 216.02,143.84 216.08,143.34 216.15,142.84 216.21,142.34 216.27,141.84 216.33,141.34 216.39,140.84 216.46,140.34 216.52,139.84 216.58,139.34 216.64,138.84 216.70,138.35 216.76,137.85 216.82,137.35 216.88,136.85 216.94,136.35 217.00,135.85 217.07,135.35 217.13,134.85 217.19,134.35 217.25,133.85 217.31,133.35 217.38,132.85 217.44,132.35 217.50,131.85 217.56,131.36 217.62,130.86 217.69,130.36 217.75,129.86 217.81,129.36 217.87,128.86 217.92,128.36 217.98,127.86 218.04,127.36 218.10,126.86 218.15,126.36 218.20,125.86 218.26,125.36 218.31,124.86 218.36,124.36 218.40,123.87 218.45,123.37 218.50,122.87 218.55,122.37 218.60,121.87 218.65,121.37 218.69,120.87 218.74,120.37 218.79,119.87 218.84,119.37 218.89,118.87 218.93,118.37 218.98,117.87 219.02,117.37 219.06,116.88 219.11,116.38 219.15,115.88 219.18,115.38 219.22,114.88 219.25,114.38 219.28,113.88 219.31,113.38 219.34,112.88 219.36,112.38 219.38,111.88 219.39,111.38 219.41,110.88 219.42,110.38 219.43,109.88 219.45,109.39 219.46,108.89 219.47,108.39 219.48,107.89 219.49,107.39 219.51,106.89 219.52,106.39 219.53,105.89 219.54,105.39 219.54,104.89 219.55,104.39 219.56,103.89 219.57,103.39 219.57,102.89 219.58,102.40 219.59,101.90 219.59,101.40 219.59,100.90 219.60,100.40 219.60,99.90 219.60,99.40 219.60,98.90 Z" fill="#f19b15" fill-opacity="0.5" stroke="#333" stroke-width="0.7"/>
<line x1="199.20" y1="250.2" x2="242.60" y2="250.2" stroke="#333" stroke-opacity="0.48" stroke-width="1.25"/>
<line x1="193.90" y1="309.3" x2="247.90" y2="309.3" stroke="#333" stroke-opacity="0.48" stroke-width="1.25"/>
<line x1="184.60" y1="356.3" x2="257.20" y2="356.3" stroke="#333" stroke-opacity="0.48" stroke-width="1.25"/>
<path d="M325.40,76.60 L328.00,76.60 328.01,77.10 328.01,77.60 328.02,78.10 328.03,78.60 328.04,79.10 328.05,79.60 328.06,80.10 328.06,80.60 328.07,81.10 328.08,81.60 328.10,82.10 328.11,82.60 328.12,83.10 328.13,83.60 328.14,84.10 328.15,84.60 328.17,85.10 328.18,85.60 328.19,86.10 328.20,86.60 328.22,87.10 328.23,87.60 328.25,88.10 328.26,88.60 328.27,89.10 328.29,89.60 328.30,90.10 328.32,90.60 328.33,91.10 328.35,91.60 328.37,92.10 328.38,92.59 328.40,93.09 328.41,93.59 328.43,94.09 328.45,94.59 328.46,95.09 328.48,95.59 328.50,96.09 328.51,96.59 328.53,97.09 328.55,97.59 328.57,98.09 328.59,98.59 328.61,99.09 328.63,99.59 328.65,100.09 328.68,100.59 328.70,101.09 328.72,101.59 328.75,102.09 328.77,102.59 328.80,103.09 328.82,103.59 328.85,104.09 328.87,104.59 328.90,105.09 328.93,105.59 328.95,106.09 328.98,106.59 329.01,107.09 329.03,107.59 329.06,108.09 329.09,108.59 329.12,109.09 329.14,109.59 329.17,110.09 329.20,110.59 329.23,111.09 329.25,111.59 329.28,112.09 329.31,112.59 329.34,113.09 329.36,113.59 329.39,114.09 329.42,114.59 329.44,115.09 329.47,115.59 329.49,116.09 329.52,116.59 329.55,117.09 329.57,117.59 329.60,118.09 329.63,118.59 329.65,119.09 329.68,119.59 329.71,120.09 329.74,120.59 329.76,121.09 329.79,121.59 329.82,122.09 329.85,122.59 329.87,123.09 329.90,123.58 329.93,124.08 329.96,124.58 329.98,125.08 330.01,125.58 330.04,126.08 330.07,126.58 330.10,127.08 330.12,127.58 330.15,128.08 330.18,128.58 330.21,129.08 330.24,129.58 330.27,130.08 330.30,130.58 330.32,131.08 330.35,131.58 330.38,132.08 330.41,132.58 330.44,133.08 330.47,133.58 330.50,134.08 330.53,134.58 330.56,135.08 330.59,135.58 330.62,136.08 330.64,136.58 330.67,137.08 330.70,137.58 330.73,138.08 330.76,138.58 330.79,139.08 330.82,139.58 330.85,140.08 330.88,140.58 330.91,141.08 330.95,141.58 330.98,142.08 331.01,142.58 331.04,143.08 331.07,143.58 331.10,144.08 331.13,144.58 331.16,145.08 331.19,145.58 331.22,146.08 331.25,146.58 331.28,147.08 331.32,147.58 331.35,148.08 331.38,148.58 331.41,149.08 331.44,149.58 331.47,150.08 331.50,150.58 331.54,151.08 331.57,151.58 331.60,152.08 331.63,152.58 331.65,153.08 331.68,153.58 331.71,154.08 331.74,154.58 331.77,155.07 331.79,155.57 331.82,156.07 331.85,156.57 331.88,157.07 331.91,157.57 331.93,158.07 331.96,158.57 331.99,159.07 332.02,159.57 332.05,160.07 332.08,160.57 332.11,161.07 332.14,161.57 332.17,162.07 332.21,162.57 332.24,163.07 332.28,163.57 332.31,164.07 332.35,164.57 332.39,165.07 332.43,165.57 332.47,166.07 332.51,166.57 332.56,167.07 332.60,167.57 332.65,168.07 332.70,168.57 332.75,169.07 332.81,169.57 332.87,170.07 332.94,170.57 333.02,171.07 333.10,171.57 333.18,172.07 333.27,172.57 333.36,173.07 333.45,173.57 333.54,174.07 333.64,174.57 333.73,175.07 333.83,175.57 333.92,176.07 334.01,176.57 334.10,177.07 334.19,177.57 334.28,178.07 334.37,178.57 334.46,179.07 334.55,179.57 334.64,180.07 334.74,180.57 334.83,181.07 334.92,181.57 335.02,182.07 335.11,182.57 335.20,183.07 335.30,183.57 335.39,184.07 335.49,184.57 335.59,185.07 335.68,185.57 335.78,186.06 335.87,186.56 335.97,187.06 336.07,187.56 336.17,188.06 336.27,188.56 336.37,189.06 336.47,189.56 336.57,190.06 336.67,190.56 336.77,191.06 336.88,191.56 336.98,192.06 337.09,192.56 337.19,193.06 337.29,193.56 337.40,194.06 337.50,194.56 337.61,195.06 337.71,195.56 337.82,196.06 337.92,196.56 338.02,197.06 338.13,197.56 338.23,198.06 338.33,198.56 338.43,199.06 338.53,199.56 338.63,200.06 338.73,200.56 338.83,201.06 338.92,201.56 339.02,202.06 339.11,202.56 339.21,203.06 339.30,203.56 339.39,204.06 339.48,204.56 339.56,205.06 339.65,205.56 339.74,206.06 339.83,206.56 339.92,207.06 340.01,207.56 340.10,208.06 340.19,208.56 340.28,209.06 340.37,209.56 340.46,210.06 340.55,210.56 340.64,211.06 340.73,211.56 340.82,212.06 340.91,212.56 340.99,213.06 341.08,213.56 341.16,214.06 341.25,214.56 341.33,215.06 341.41,215.56 341.49,216.06 341.56,216.56 341.63,217.06 341.71,217.55 341.78,218.05 341.84,218.55 341.91,219.05 341.97,219.55 342.03,220.05 342.09,220.55 342.14,221.05 342.19,221.55 342.24,222.05 342.28,222.55 342.32,223.05 342.36,223.55 342.39,224.05 342.43,224.55 342.46,225.05 342.49,225.55 342.52,226.05 342.55,226.55 342.58,227.05 342.61,227.55 342.63,228.05 342.66,228.55 342.68,229.05 342.71,229.55 342.73,230.05 342.75,230.55 342.78,231.05 342.80,231.55 342.82,232.05 342.84,232.55 342.87,233.05 342.89,233.55 342.91,234.05 342.94,234.55 342.96,235.05 342.99,235.55 343.01,236.05 343.04,236.55 343.07,237.05 343.09,237.55 343.12,238.05 343.16,238.55 343.19,239.05 343.22,239.55 343.26,240.05 343.30,240.55 343.33,241.05 343.37,241.55 343.41,242.05 343.45,242.55 343.49,243.05 343.53,243.55 343.57,244.05 343.61,244.55 343.66,245.05 343.70,245.55 343.75,246.05 343.79,246.55 343.84,247.05 343.88,247.55 343.93,248.05 343.98,248.54 344.03,249.04 344.08,249.54 344.13,250.04 344.18,250.54 344.23,251.04 344.28,251.54 344.33,252.04 344.39,252.54 344.44,253.04 344.49,253.54 344.55,254.04 344.60,254.54 344.66,255.04 344.72,255.54 344.78,256.04 344.84,256.54 344.90,257.04 344.96,257.54 345.02,258.04 345.09,258.54 345.15,259.04 345.22,259.54 345.28,260.04 345.35,260.54 345.42,261.04 345.49,261.54 345.56,262.04 345.63,262.54 345.70,263.04 345.78,263.54 345.85,264.04 345.92,264.54 346.00,265.04 346.07,265.54 346.15,266.04 346.23,266.54 346.30,267.04 346.38,267.54 346.46,268.04 346.54,268.54 346.62,269.04 346.70,269.54 346.78,270.04 346.86,270.54 346.94,271.04 347.02,271.54 347.10,272.04 347.18,272.54 347.26,273.04 347.34,273.54 347.43,274.04 347.51,274.54 347.59,275.04 347.67,275.54 347.76,276.04 347.84,276.54 347.92,277.04 348.01,277.54 348.09,278.04 348.17,278.54 348.26,279.04 348.35,279.54 348.43,280.03 348.52,280.53 348.61,281.03 348.70,281.53 348.79,282.03 348.88,282.53 348.97,283.03 349.07,283.53 349.16,284.03 349.25,284.53 349.35,285.03 349.44,285.53 349.54,286.03 349.63,286.53 349.73,287.03 349.83,287.53 349.92,288.03 350.02,288.53 350.12,289.03 350.21,289.53 350.31,290.03 350.41,290.53 350.51,291.03 350.60,291.53 350.70,292.03 350.80,292.53 350.89,293.03 350.99,293.53 351.09,294.03 351.18,294.53 351.28,295.03 351.38,295.53 351.47,296.03 351.57,296.53 351.66,297.03 351.76,297.53 351.86,298.03 351.96,298.53 352.06,299.03 352.16,299.53 352.26,300.03 352.36,300.53 352.46,301.03 352.57,301.53 352.67,302.03 352.77,302.53 352.88,303.03 352.98,303.53 353.08,304.03 353.19,304.53 353.29,305.03 353.39,305.53 353.49,306.03 353.59,306.53 353.69,307.03 353.79,307.53 353.89,308.03 353.98,308.53 354.08,309.03 354.17,309.53 354.26,310.03 354.35,310.53 354.44,311.02 354.53,311.52 354.61,312.02 354.69,312.52 354.77,313.02 354.84,313.52 354.92,314.02 354.99,314.52 355.06,315.02 355.13,315.52 355.19,316.02 355.26,316.52 355.32,317.02 355.39,317.52 355.45,318.02 355.51,318.52 355.57,319.02 355.63,319.52 355.68,320.02 355.74,320.52 355.80,321.02 355.85,321.52 355.91,322.02 355.96,322.52 356.02,323.02 356.07,323.52 356.13,324.02 356.18,324.52 356.24,325.02 356.29,325.52 356.35,326.02 356.40,326.52 356.46,327.02 356.51,327.52 356.57,328.02 356.63,328.52 356.68,329.02 356.74,329.52 356.80,330.02 356.86,330.52 356.92,331.02 356.98,331.52 357.03,332.02 357.08,332.52 357.14,333.02 357.19,333.52 357.24,334.02 357.29,334.52 357.34,335.02 357.40,335.52 357.45,336.02 357.50,336.52 357.56,337.02 357.61,337.52 357.67,338.02 357.73,338.52 357.79,339.02 357.85,339.52 357.91,340.02 357.98,340.52 358.05,341.02 358.12,341.52 358.20,342.02 358.28,342.51 358.36,343.01 358.45,343.51 358.54,344.01 358.65,344.51 358.77,345.01 358.90,345.51 359.04,346.01 359.19,346.51 359.35,347.01 359.51,347.51 359.68,348.01 359.85,348.51 360.02,349.01 360.18,349.51 360.35,350.01 360.51,350.51 360.66,351.01 360.81,351.51 360.96,352.01 361.10,352.51 361.24,353.01 361.38,353.51 361.52,354.01 361.67,354.51 361.81,355.01 361.96,355.51 362.12,356.01 362.29,356.51 362.46,357.01 362.64,357.51 362.84,358.01 363.05,358.51 363.28,359.01 363.53,359.51 363.81,360.01 364.11,360.51 364.42,361.01 364.74,361.51 365.07,362.01 365.41,362.51 365.75,363.01 366.09,363.51 366.42,364.01 366.74,364.51 367.06,365.01 367.39,365.51 367.73,366.01 368.07,366.51 368.41,367.01 368.76,367.51 369.11,368.01 369.45,368.51 369.78,369.01 370.11,369.51 370.43,370.01 370.74,370.51 371.03,371.01 371.30,371.51 371.57,372.01 371.85,372.51 372.13,373.01 372.41,373.50 372.69,374.00 372.95,374.50 373.21,375.00 373.45,375.50 373.68,376.00 373.88,376.50 374.06,377.00 374.21,377.50 374.33,378.00 374.42,378.50 374.49,379.00 374.55,379.50 374.62,380.00 374.68,380.50 374.73,381.00 374.78,381.50 374.82,382.00 374.85,382.50 374.88,383.00 374.89,383.50 374.90,384.00 374.88,384.50 374.83,385.00 374.74,385.50 374.62,386.00 374.48,386.50 374.32,387.00 374.14,387.50 373.94,388.00 373.72,388.50 373.50,389.00 L279.90,389.00 279.68,388.50 279.46,388.00 279.26,387.50 279.08,387.00 278.92,386.50 278.78,386.00 278.66,385.50 278.57,385.00 278.52,384.50 278.50,384.00 278.51,383.50 278.52,383.00 278.55,382.50 278.58,382.00 278.62,381.50 278.67,381.00 278.72,380.50 278.78,380.00 278.85,379.50 278.91,379.00 278.98,378.50 279.07,378.00 279.19,377.50 279.34,377.00 279.52,376.50 279.72,376.00 279.95,375.50 280.19,375.00 280.45,374.50 280.71,374.00 280.99,373.50 281.27,373.01 281.55,372.51 281.83,372.01 282.10,371.51 282.37,371.01 282.66,370.51 282.97,370.01 283.29,369.51 283.62,369.01 283.95,368.51 284.29,368.01 284.64,367.51 284.99,367.01 285.33,366.51 285.67,366.01 286.01,365.51 286.34,365.01 286.66,364.51 286.98,364.01 287.31,363.51 287.65,363.01 287.99,362.51 288.33,362.01 288.66,361.51 288.98,361.01 289.29,360.51 289.59,360.01 289.87,359.51 290.12,359.01 290.35,358.51 290.56,358.01 290.76,357.51 290.94,357.01 291.11,356.51 291.28,356.01 291.44,355.51 291.59,355.01 291.73,354.51 291.88,354.01 292.02,353.51 292.16,353.01 292.30,352.51 292.44,352.01 292.59,351.51 292.74,351.01 292.89,350.51 293.05,350.01 293.22,349.51 293.38,349.01 293.55,348.51 293.72,348.01 293.89,347.51 294.05,347.01 294.21,346.51 294.36,346.01 294.50,345.51 294.63,345.01 294.75,344.51 294.86,344.01 294.95,343.51 295.04,343.01 295.12,342.51 295.20,342.02 295.28,341.52 295.35,341.02 295.42,340.52 295.49,340.02 295.55,339.52 295.61,339.02 295.67,338.52 295.73,338.02 295.79,337.52 295.84,337.02 295.90,336.52 295.95,336.02 296.00,335.52 296.06,335.02 296.11,334.52 296.16,334.02 296.21,333.52 296.26,333.02 296.32,332.52 296.37,332.02 296.42,331.52 296.48,331.02 296.54,330.52 296.60,330.02 296.66,329.52 296.72,329.02 296.77,328.52 296.83,328.02 296.89,327.52 296.94,327.02 297.00,326.52 297.05,326.02 297.11,325.52 297.16,325.02 297.22,324.52 297.27,324.02 297.33,323.52 297.38,323.02 297.44,322.52 297.49,322.02 297.55,321.52 297.60,321.02 297.66,320.52 297.72,320.02 297.77,319.52 297.83,319.02 297.89,318.52 297.95,318.02 298.01,317.52 298.08,317.02 298.14,316.52 298.21,316.02 298.27,315.52 298.34,315.02 298.41,314.52 298.48,314.02 298.56,313.52 298.63,313.02 298.71,312.52 298.79,312.02 298.87,311.52 298.96,311.02 299.05,310.53 299.14,310.03 299.23,309.53 299.32,309.03 299.42,308.53 299.51,308.03 299.61,307.53 299.71,307.03 299.81,306.53 299.91,306.03 300.01,305.53 300.11,305.03 300.21,304.53 300.32,304.03 300.42,303.53 300.52,303.03 300.63,302.53 300.73,302.03 300.83,301.53 300.94,301.03 301.04,300.53 301.14,300.03 301.24,299.53 301.34,299.03 301.44,298.53 301.54,298.03 301.64,297.53 301.74,297.03 301.83,296.53 301.93,296.03 302.02,295.53 302.12,295.03 302.22,294.53 302.31,294.03 302.41,293.53 302.51,293.03 302.60,292.53 302.70,292.03 302.80,291.53 302.89,291.03 302.99,290.53 303.09,290.03 303.19,289.53 303.28,289.03 303.38,288.53 303.48,288.03 303.57,287.53 303.67,287.03 303.77,286.53 303.86,286.03 303.96,285.53 304.05,285.03 304.15,284.53 304.24,284.03 304.33,283.53 304.43,283.03 304.52,282.53 304.61,282.03 304.70,281.53 304.79,281.03 304.88,280.53 304.97,280.03 305.05,279.54 305.14,279.04 305.23,278.54 305.31,278.04 305.39,277.54 305.48,277.04 305.56,276.54 305.64,276.04 305.73,275.54 305.81,275.04 305.89,274.54 305.97,274.04 306.06,273.54 306.14,273.04 306.22,272.54 306.30,272.04 306.38,271.54 306.46,271.04 306.54,270.54 306.62,270.04 306.70,269.54 306.78,269.04 306.86,268.54 306.94,268.04 307.02,267.54 307.10,267.04 307.17,266.54 307.25,266.04 307.33,265.54 307.40,265.04 307.48,264.54 307.55,264.04 307.62,263.54 307.70,263.04 307.77,262.54 307.84,262.04 307.91,261.54 307.98,261.04 308.05,260.54 308.12,260.04 308.18,259.54 308.25,259.04 308.31,258.54 308.38,258.04 308.44,257.54 308.50,257.04 308.56,256.54 308.62,256.04 308.68,255.54 308.74,255.04 308.80,254.54 308.85,254.04 308.91,253.54 308.96,253.04 309.01,252.54 309.07,252.04 309.12,251.54 309.17,251.04 309.22,250.54 309.27,250.04 309.32,249.54 309.37,249.04 309.42,248.54 309.47,248.05 309.52,247.55 309.56,247.05 309.61,246.55 309.65,246.05 309.70,245.55 309.74,245.05 309.79,244.55 309.83,244.05 309.87,243.55 309.91,243.05 309.95,242.55 309.99,242.05 310.03,241.55 310.07,241.05 310.10,240.55 310.14,240.05 310.18,239.55 310.21,239.05 310.24,238.55 310.28,238.05 310.31,237.55 310.33,237.05 310.36,236.55 310.39,236.05 310.41,235.55 310.44,235.05 310.46,234.55 310.49,234.05 310.51,233.55 310.53,233.05 310.56,232.55 310.58,232.05 310.60,231.55 310.62,231.05 310.65,230.55 310.67,230.05 310.69,229.55 310.72,229.05 310.74,228.55 310.77,228.05 310.79,227.55 310.82,227.05 310.85,226.55 310.88,226.05 310.91,225.55 310.94,225.05 310.97,224.55 311.01,224.05 311.04,223.55 311.08,223.05 311.12,222.55 311.16,222.05 311.21,221.55 311.26,221.05 311.31,220.55 311.37,220.05 311.43,219.55 311.49,219.05 311.56,218.55 311.62,218.05 311.69,217.55 311.77,217.06 311.84,216.56 311.91,216.06 311.99,215.56 312.07,215.06 312.15,214.56 312.24,214.06 312.32,213.56 312.41,213.06 312.49,212.56 312.58,212.06 312.67,211.56 312.76,211.06 312.85,210.56 312.94,210.06 313.03,209.56 313.12,209.06 313.21,208.56 313.30,208.06 313.39,207.56 313.48,207.06 313.57,206.56 313.66,206.06 313.75,205.56 313.84,205.06 313.92,204.56 314.01,204.06 314.10,203.56 314.19,203.06 314.29,202.56 314.38,202.06 314.48,201.56 314.57,201.06 314.67,200.56 314.77,200.06 314.87,199.56 314.97,199.06 315.07,198.56 315.17,198.06 315.27,197.56 315.38,197.06 315.48,196.56 315.58,196.06 315.69,195.56 315.79,195.06 315.90,194.56 316.00,194.06 316.11,193.56 316.21,193.06 316.31,192.56 316.42,192.06 316.52,191.56 316.63,191.06 316.73,190.56 316.83,190.06 316.93,189.56 317.03,189.06 317.13,188.56 317.23,188.06 317.33,187.56 317.43,187.06 317.53,186.56 317.62,186.06 317.72,185.57 317.81,185.07 317.91,184.57 318.01,184.07 318.10,183.57 318.20,183.07 318.29,182.57 318.38,182.07 318.48,181.57 318.57,181.07 318.66,180.57 318.76,180.07 318.85,179.57 318.94,179.07 319.03,178.57 319.12,178.07 319.21,177.57 319.30,177.07 319.39,176.57 319.48,176.07 319.57,175.57 319.67,175.07 319.76,174.57 319.86,174.07 319.95,173.57 320.04,173.07 320.13,172.57 320.22,172.07 320.30,171.57 320.38,171.07 320.46,170.57 320.53,170.07 320.59,169.57 320.65,169.07 320.70,168.57 320.75,168.07 320.80,167.57 320.84,167.07 320.89,166.57 320.93,166.07 320.97,165.57 321.01,165.07 321.05,164.57 321.09,164.07 321.12,163.57 321.16,163.07 321.19,162.57 321.23,162.07 321.26,161.57 321.29,161.07 321.32,160.57 321.35,160.07 321.38,159.57 321.41,159.07 321.44,158.57 321.47,158.07 321.49,157.57 321.52,157.07 321.55,156.57 321.58,156.07 321.61,155.57 321.63,155.07 321.66,154.58 321.69,154.08 321.72,153.58 321.75,153.08 321.77,152.58 321.80,152.08 321.83,151.58 321.86,151.08 321.90,150.58 321.93,150.08 321.96,149.58 321.99,149.08 322.02,148.58 322.05,148.08 322.08,147.58 322.12,147.08 322.15,146.58 322.18,146.08 322.21,145.58 322.24,145.08 322.27,144.58 322.30,144.08 322.33,143.58 322.36,143.08 322.39,142.58 322.42,142.08 322.45,141.58 322.49,141.08 322.52,140.58 322.55,140.08 322.58,139.58 322.61,139.08 322.64,138.58 322.67,138.08 322.70,137.58 322.73,137.08 322.76,136.58 322.78,136.08 322.81,135.58 322.84,135.08 322.87,134.58 322.90,134.08 322.93,133.58 322.96,133.08 322.99,132.58 323.02,132.08 323.05,131.58 323.08,131.08 323.10,130.58 323.13,130.08 323.16,129.58 323.19,129.08 323.22,128.58 323.25,128.08 323.28,127.58 323.30,127.08 323.33,126.58 323.36,126.08 323.39,125.58 323.42,125.08 323.44,124.58 323.47,124.08 323.50,123.58 323.53,123.09 323.55,122.59 323.58,122.09 323.61,121.59 323.64,121.09 323.66,120.59 323.69,120.09 323.72,119.59 323.75,119.09 323.77,118.59 323.80,118.09 323.83,117.59 323.85,117.09 323.88,116.59 323.91,116.09 323.93,115.59 323.96,115.09 323.98,114.59 324.01,114.09 324.04,113.59 324.06,113.09 324.09,112.59 324.12,112.09 324.15,111.59 324.17,111.09 324.20,110.59 324.23,110.09 324.26,109.59 324.28,109.09 324.31,108.59 324.34,108.09 324.37,107.59 324.39,107.09 324.42,106.59 324.45,106.09 324.47,105.59 324.50,105.09 324.53,104.59 324.55,104.09 324.58,103.59 324.60,103.09 324.63,102.59 324.65,102.09 324.68,101.59 324.70,101.09 324.72,100.59 324.75,100.09 324.77,99.59 324.79,99.09 324.81,98.59 324.83,98.09 324.85,97.59 324.87,97.09 324.89,96.59 324.90,96.09 324.92,95.59 324.94,95.09 324.95,94.59 324.97,94.09 324.99,93.59 325.00,93.09 325.02,92.59 325.03,92.10 325.05,91.60 325.07,91.10 325.08,90.60 325.10,90.10 325.11,89.60 325.13,89.10 325.14,88.60 325.15,88.10 325.17,87.60 325.18,87.10 325.20,86.60 325.21,86.10 325.22,85.60 325.23,85.10 325.25,84.60 325.26,84.10 325.27,83.60 325.28,83.10 325.29,82.60 325.30,82.10 325.32,81.60 325.33,81.10 325.34,80.60 325.34,80.10 325.35,79.60 325.36,79.10 325.37,78.60 325.38,78.10 325.39,77.60 325.39,77.10 325.40,76.60 Z" fill="#7fad41" fill-opacity="0.5" stroke="#333" stroke-width="0.7"/>
<line x1="308.80" y1="254.5" x2="344.60" y2="254.5" stroke="#333" stroke-opacity="0.48" stroke-width="1.25"/>
<line x1="298.50" y1="313.9" x2="354.90" y2="313.9" stroke="#333" stroke-opacity="0.48" stroke-width="1.25"/>
<line x1="290.40" y1="358.4" x2="363.00" y2="358.4" stroke="#333" stroke-opacity="0.48" stroke-width="1.25"/>
<path d="M431.45,46.80 L433.65,46.80 433.65,47.30 433.65,47.80 433.65,48.30 433.65,48.80 433.65,49.30 433.65,49.80 433.65,50.30 433.65,50.80 433.65,51.30 433.65,51.80 433.65,52.30 433.65,52.79 433.65,53.29 433.65,53.79 433.65,54.29 433.65,54.79 433.65,55.29 433.65,55.79 433.65,56.29 433.65,56.79 433.65,57.29 433.65,57.79 433.65,58.29 433.65,58.79 433.65,59.29 433.65,59.79 433.65,60.29 433.65,60.79 433.65,61.29 433.65,61.79 433.65,62.29 433.65,62.79 433.65,63.29 433.65,63.79 433.65,64.28 433.65,64.78 433.65,65.28 433.65,65.78 433.65,66.28 433.65,66.78 433.65,67.28 433.65,67.78 433.65,68.28 433.65,68.78 433.65,69.28 433.65,69.78 433.65,70.28 433.65,70.78 433.65,71.28 433.65,71.78 433.65,72.28 433.65,72.78 433.65,73.28 433.65,73.78 433.65,74.28 433.65,74.78 433.65,75.28 433.65,75.77 433.65,76.27 433.65,76.77 433.65,77.27 433.65,77.77 433.65,78.27 433.65,78.77 433.65,79.27 433.65,79.77 433.65,80.27 433.65,80.77 433.66,81.27 433.67,81.77 433.69,82.27 433.71,82.77 433.73,83.27 433.76,83.77 433.79,84.27 433.82,84.77 433.86,85.27 433.90,85.77 433.94,86.27 433.98,86.76 434.02,87.26 434.07,87.76 434.11,88.26 434.15,88.76 434.20,89.26 434.24,89.76 434.29,90.26 434.33,90.76 434.37,91.26 434.42,91.76 434.46,92.26 434.51,92.76 434.55,93.26 434.60,93.76 434.66,94.26 434.71,94.76 434.76,95.26 434.82,95.76 434.87,96.26 434.93,96.76 434.99,97.26 435.05,97.76 435.11,98.25 435.17,98.75 435.23,99.25 435.30,99.75 435.36,100.25 435.43,100.75 435.49,101.25 435.56,101.75 435.63,102.25 435.69,102.75 435.76,103.25 435.83,103.75 435.90,104.25 435.97,104.75 436.04,105.25 436.11,105.75 436.18,106.25 436.26,106.75 436.33,107.25 436.40,107.75 436.47,108.25 436.54,108.75 436.62,109.25 436.69,109.74 436.77,110.24 436.84,110.74 436.92,111.24 436.99,111.74 437.07,112.24 437.15,112.74 437.23,113.24 437.31,113.74 437.39,114.24 437.47,114.74 437.56,115.24 437.64,115.74 437.73,116.24 437.81,116.74 437.90,117.24 437.99,117.74 438.07,118.24 438.16,118.74 438.25,119.24 438.35,119.74 438.44,120.24 438.53,120.74 438.63,121.23 438.72,121.73 438.82,122.23 438.92,122.73 439.02,123.23 439.12,123.73 439.22,124.23 439.32,124.73 439.43,125.23 439.53,125.73 439.64,126.23 439.75,126.73 439.87,127.23 439.98,127.73 440.10,128.23 440.22,128.73 440.34,129.23 440.46,129.73 440.58,130.23 440.71,130.73 440.84,131.23 440.97,131.73 441.10,132.23 441.23,132.72 441.36,133.22 441.49,133.72 441.63,134.22 441.77,134.72 441.90,135.22 442.04,135.72 442.18,136.22 442.32,136.72 442.46,137.22 442.60,137.72 442.74,138.22 442.88,138.72 443.03,139.22 443.17,139.72 443.31,140.22 443.45,140.72 443.60,141.22 443.74,141.72 443.88,142.22 444.03,142.72 444.17,143.22 444.32,143.72 444.47,144.21 444.62,144.71 444.77,145.21 444.92,145.71 445.08,146.21 445.23,146.71 445.39,147.21 445.54,147.71 445.70,148.21 445.86,148.71 446.02,149.21 446.18,149.71 446.34,150.21 446.50,150.71 446.66,151.21 446.82,151.71 446.99,152.21 447.15,152.71 447.31,153.21 447.47,153.71 447.63,154.21 447.79,154.71 447.96,155.20 448.12,155.70 448.28,156.20 448.44,156.70 448.60,157.20 448.76,157.70 448.92,158.20 449.07,158.70 449.23,159.20 449.39,159.70 449.54,160.20 449.70,160.70 449.86,161.20 450.01,161.70 450.17,162.20 450.32,162.70 450.48,163.20 450.63,163.70 450.79,164.20 450.95,164.70 451.10,165.20 451.26,165.70 451.41,166.20 451.57,166.69 451.72,167.19 451.88,167.69 452.03,168.19 452.19,168.69 452.34,169.19 452.50,169.69 452.65,170.19 452.81,170.69 452.97,171.19 453.12,171.69 453.28,172.19 453.44,172.69 453.59,173.19 453.75,173.69 453.91,174.19 454.07,174.69 454.23,175.19 454.39,175.69 454.55,176.19 454.71,176.69 454.86,177.19 455.02,177.69 455.18,178.18 455.34,178.68 455.50,179.18 455.66,179.68 455.81,180.18 455.97,180.68 456.13,181.18 456.29,181.68 456.45,182.18 456.60,182.68 456.76,183.18 456.92,183.68 457.08,184.18 457.24,184.68 457.40,185.18 457.56,185.68 457.73,186.18 457.89,186.68 458.05,187.18 458.22,187.68 458.38,188.18 458.55,188.68 458.71,189.18 458.88,189.67 459.05,190.17 459.22,190.67 459.39,191.17 459.56,191.67 459.74,192.17 459.91,192.67 460.09,193.17 460.27,193.67 460.45,194.17 460.64,194.67 460.83,195.17 461.02,195.67 461.21,196.17 461.41,196.67 461.60,197.17 461.80,197.67 462.00,198.17 462.19,198.67 462.39,199.17 462.58,199.67 462.78,200.17 462.97,200.67 463.16,201.16 463.35,201.66 463.54,202.16 463.72,202.66 463.91,203.16 464.10,203.66 464.29,204.16 464.49,204.66 464.68,205.16 464.88,205.66 465.07,206.16 465.27,206.66 465.46,207.16 465.65,207.66 465.84,208.16 466.03,208.66 466.22,209.16 466.40,209.66 466.57,210.16 466.75,210.66 466.91,211.16 467.08,211.66 467.23,212.16 467.38,212.65 467.53,213.15 467.66,213.65 467.79,214.15 467.91,214.65 468.03,215.15 468.14,215.65 468.25,216.15 468.35,216.65 468.46,217.15 468.56,217.65 468.65,218.15 468.75,218.65 468.84,219.15 468.93,219.65 469.01,220.15 469.09,220.65 469.17,221.15 469.25,221.65 469.33,222.15 469.40,222.65 469.47,223.15 469.54,223.64 469.62,224.14 469.69,224.64 469.77,225.14 469.85,225.64 469.92,226.14 470.00,226.64 470.07,227.14 470.14,227.64 470.20,228.14 470.27,228.64 470.32,229.14 470.38,229.64 470.42,230.14 470.47,230.64 470.50,231.14 470.52,231.64 470.54,232.14 470.55,232.64 470.55,233.14 470.53,233.64 470.50,234.14 470.46,234.64 470.42,235.13 470.36,235.63 470.29,236.13 470.21,236.63 470.13,237.13 470.03,237.63 469.94,238.13 469.84,238.63 469.73,239.13 469.62,239.63 469.51,240.13 469.40,240.63 469.28,241.13 469.17,241.63 469.05,242.13 468.94,242.63 468.83,243.13 468.72,243.63 468.62,244.13 468.52,244.63 468.43,245.13 468.33,245.63 468.24,246.13 468.14,246.62 468.04,247.12 467.94,247.62 467.83,248.12 467.73,248.62 467.63,249.12 467.52,249.62 467.42,250.12 467.31,250.62 467.20,251.12 467.10,251.62 467.00,252.12 466.89,252.62 466.79,253.12 466.69,253.62 466.59,254.12 466.50,254.62 466.41,255.12 466.32,255.62 466.23,256.12 466.14,256.62 466.06,257.12 465.98,257.62 465.90,258.11 465.82,258.61 465.73,259.11 465.65,259.61 465.56,260.11 465.47,260.61 465.38,261.11 465.30,261.61 465.21,262.11 465.13,262.61 465.05,263.11 464.97,263.61 464.89,264.11 464.82,264.61 464.76,265.11 464.70,265.61 464.64,266.11 464.59,266.61 464.55,267.11 464.51,267.61 464.49,268.11 464.46,268.61 464.45,269.11 464.45,269.60 464.45,270.10 464.46,270.60 464.47,271.10 464.49,271.60 464.50,272.10 464.53,272.60 464.55,273.10 464.58,273.60 464.61,274.10 464.65,274.60 464.68,275.10 464.72,275.60 464.77,276.10 464.81,276.60 464.86,277.10 464.90,277.60 464.95,278.10 465.01,278.60 465.06,279.10 465.11,279.60 465.17,280.10 465.22,280.60 465.28,281.09 465.34,281.59 465.40,282.09 465.47,282.59 465.55,283.09 465.65,283.59 465.75,284.09 465.85,284.59 465.97,285.09 466.09,285.59 466.21,286.09 466.34,286.59 466.47,287.09 466.60,287.59 466.73,288.09 466.86,288.59 467.01,289.09 467.15,289.59 467.31,290.09 467.47,290.59 467.63,291.09 467.80,291.59 467.97,292.08 468.15,292.58 468.33,293.08 468.51,293.58 468.70,294.08 468.89,294.58 469.08,295.08 469.28,295.58 469.47,296.08 469.67,296.58 469.87,297.08 470.07,297.58 470.27,298.08 470.48,298.58 470.68,299.08 470.88,299.58 471.08,300.08 471.29,300.58 471.51,301.08 471.74,301.58 471.98,302.08 472.21,302.58 472.45,303.08 472.68,303.57 472.91,304.07 473.12,304.57 473.33,305.07 473.51,305.57 473.70,306.07 473.88,306.57 474.06,307.07 474.24,307.57 474.42,308.07 474.60,308.57 474.77,309.07 474.94,309.57 475.11,310.07 475.27,310.57 475.43,311.07 475.58,311.57 475.73,312.07 475.87,312.57 476.01,313.07 476.14,313.57 476.27,314.07 476.39,314.57 476.50,315.06 476.60,315.56 476.70,316.06 476.80,316.56 476.89,317.06 476.98,317.56 477.07,318.06 477.16,318.56 477.24,319.06 477.32,319.56 477.40,320.06 477.48,320.56 477.55,321.06 477.62,321.56 477.69,322.06 477.76,322.56 477.82,323.06 477.88,323.56 477.94,324.06 477.99,324.56 478.04,325.06 478.09,325.56 478.13,326.06 478.17,326.55 478.21,327.05 478.25,327.55 478.28,328.05 478.32,328.55 478.35,329.05 478.38,329.55 478.41,330.05 478.44,330.55 478.47,331.05 478.50,331.55 478.53,332.05 478.55,332.55 478.58,333.05 478.60,333.55 478.63,334.05 478.65,334.55 478.67,335.05 478.70,335.55 478.72,336.05 478.74,336.55 478.76,337.05 478.78,337.55 478.81,338.04 478.83,338.54 478.85,339.04 478.87,339.54 478.89,340.04 478.91,340.54 478.93,341.04 478.96,341.54 478.98,342.04 479.00,342.54 479.03,343.04 479.05,343.54 479.07,344.04 479.10,344.54 479.12,345.04 479.15,345.54 479.17,346.04 479.20,346.54 479.22,347.04 479.25,347.54 479.27,348.04 479.30,348.54 479.32,349.04 479.34,349.53 479.36,350.03 479.39,350.53 479.41,351.03 479.42,351.53 479.44,352.03 479.46,352.53 479.48,353.03 479.49,353.53 479.50,354.03 479.52,354.53 479.53,355.03 479.53,355.53 479.54,356.03 479.55,356.53 479.55,357.03 479.55,357.53 479.55,358.03 479.55,358.53 479.54,359.03 479.54,359.53 479.53,360.03 479.52,360.52 479.51,361.02 479.50,361.52 479.48,362.02 479.47,362.52 479.45,363.02 479.44,363.52 479.42,364.02 479.40,364.52 479.38,365.02 479.36,365.52 479.34,366.02 479.32,366.52 479.29,367.02 479.27,367.52 479.24,368.02 479.21,368.52 479.17,369.02 479.13,369.52 479.07,370.02 479.01,370.52 478.94,371.02 478.87,371.52 478.79,372.01 478.70,372.51 478.61,373.01 478.51,373.51 478.41,374.01 478.31,374.51 478.20,375.01 478.09,375.51 477.98,376.01 477.87,376.51 477.75,377.01 477.64,377.51 477.52,378.01 477.40,378.51 477.27,379.01 477.14,379.51 477.00,380.01 476.85,380.51 476.70,381.01 476.54,381.51 476.37,382.01 476.19,382.51 476.01,383.01 475.83,383.50 475.63,384.00 475.44,384.50 475.23,385.00 475.02,385.50 474.81,386.00 474.59,386.50 474.37,387.00 474.15,387.50 473.92,388.00 473.69,388.50 473.45,389.00 L391.65,389.00 391.41,388.50 391.18,388.00 390.95,387.50 390.73,387.00 390.51,386.50 390.29,386.00 390.08,385.50 389.87,385.00 389.66,384.50 389.47,384.00 389.27,383.50 389.09,383.01 388.91,382.51 388.73,382.01 388.56,381.51 388.40,381.01 388.25,380.51 388.10,380.01 387.96,379.51 387.83,379.01 387.70,378.51 387.58,378.01 387.46,377.51 387.35,377.01 387.23,376.51 387.12,376.01 387.01,375.51 386.90,375.01 386.79,374.51 386.69,374.01 386.59,373.51 386.49,373.01 386.40,372.51 386.31,372.01 386.23,371.52 386.16,371.02 386.09,370.52 386.03,370.02 385.97,369.52 385.93,369.02 385.89,368.52 385.86,368.02 385.83,367.52 385.81,367.02 385.78,366.52 385.76,366.02 385.74,365.52 385.72,365.02 385.70,364.52 385.68,364.02 385.66,363.52 385.65,363.02 385.63,362.52 385.62,362.02 385.60,361.52 385.59,361.02 385.58,360.52 385.57,360.03 385.56,359.53 385.56,359.03 385.55,358.53 385.55,358.03 385.55,357.53 385.55,357.03 385.55,356.53 385.56,356.03 385.57,355.53 385.57,355.03 385.58,354.53 385.60,354.03 385.61,353.53 385.62,353.03 385.64,352.53 385.66,352.03 385.68,351.53 385.69,351.03 385.71,350.53 385.74,350.03 385.76,349.53 385.78,349.04 385.80,348.54 385.83,348.04 385.85,347.54 385.88,347.04 385.90,346.54 385.93,346.04 385.95,345.54 385.98,345.04 386.00,344.54 386.03,344.04 386.05,343.54 386.07,343.04 386.10,342.54 386.12,342.04 386.14,341.54 386.17,341.04 386.19,340.54 386.21,340.04 386.23,339.54 386.25,339.04 386.27,338.54 386.29,338.04 386.32,337.55 386.34,337.05 386.36,336.55 386.38,336.05 386.40,335.55 386.43,335.05 386.45,334.55 386.47,334.05 386.50,333.55 386.52,333.05 386.55,332.55 386.57,332.05 386.60,331.55 386.63,331.05 386.66,330.55 386.69,330.05 386.72,329.55 386.75,329.05 386.78,328.55 386.82,328.05 386.85,327.55 386.89,327.05 386.93,326.55 386.97,326.06 387.01,325.56 387.06,325.06 387.11,324.56 387.16,324.06 387.22,323.56 387.28,323.06 387.34,322.56 387.41,322.06 387.48,321.56 387.55,321.06 387.62,320.56 387.70,320.06 387.78,319.56 387.86,319.06 387.94,318.56 388.03,318.06 388.12,317.56 388.21,317.06 388.30,316.56 388.40,316.06 388.50,315.56 388.60,315.06 388.71,314.57 388.83,314.07 388.96,313.57 389.09,313.07 389.23,312.57 389.37,312.07 389.52,311.57 389.67,311.07 389.83,310.57 389.99,310.07 390.16,309.57 390.33,309.07 390.50,308.57 390.68,308.07 390.86,307.57 391.04,307.07 391.22,306.57 391.40,306.07 391.59,305.57 391.77,305.07 391.98,304.57 392.19,304.07 392.42,303.57 392.65,303.08 392.89,302.58 393.12,302.08 393.36,301.58 393.59,301.08 393.81,300.58 394.02,300.08 394.22,299.58 394.42,299.08 394.62,298.58 394.83,298.08 395.03,297.58 395.23,297.08 395.43,296.58 395.63,296.08 395.82,295.58 396.02,295.08 396.21,294.58 396.40,294.08 396.59,293.58 396.77,293.08 396.95,292.58 397.13,292.08 397.30,291.59 397.47,291.09 397.63,290.59 397.79,290.09 397.95,289.59 398.09,289.09 398.24,288.59 398.37,288.09 398.50,287.59 398.63,287.09 398.76,286.59 398.89,286.09 399.01,285.59 399.13,285.09 399.25,284.59 399.35,284.09 399.45,283.59 399.55,283.09 399.63,282.59 399.70,282.09 399.76,281.59 399.82,281.09 399.88,280.60 399.93,280.10 399.99,279.60 400.04,279.10 400.09,278.60 400.15,278.10 400.20,277.60 400.24,277.10 400.29,276.60 400.33,276.10 400.38,275.60 400.42,275.10 400.45,274.60 400.49,274.10 400.52,273.60 400.55,273.10 400.57,272.60 400.60,272.10 400.61,271.60 400.63,271.10 400.64,270.60 400.65,270.10 400.65,269.60 400.65,269.11 400.64,268.61 400.61,268.11 400.59,267.61 400.55,267.11 400.51,266.61 400.46,266.11 400.40,265.61 400.34,265.11 400.28,264.61 400.21,264.11 400.13,263.61 400.05,263.11 399.97,262.61 399.89,262.11 399.80,261.61 399.72,261.11 399.63,260.61 399.54,260.11 399.45,259.61 399.37,259.11 399.28,258.61 399.20,258.11 399.12,257.62 399.04,257.12 398.96,256.62 398.87,256.12 398.78,255.62 398.69,255.12 398.60,254.62 398.51,254.12 398.41,253.62 398.31,253.12 398.21,252.62 398.10,252.12 398.00,251.62 397.90,251.12 397.79,250.62 397.68,250.12 397.58,249.62 397.47,249.12 397.37,248.62 397.27,248.12 397.16,247.62 397.06,247.12 396.96,246.62 396.86,246.13 396.77,245.63 396.67,245.13 396.58,244.63 396.48,244.13 396.38,243.63 396.27,243.13 396.16,242.63 396.05,242.13 395.93,241.63 395.82,241.13 395.70,240.63 395.59,240.13 395.48,239.63 395.37,239.13 395.26,238.63 395.16,238.13 395.07,237.63 394.97,237.13 394.89,236.63 394.81,236.13 394.74,235.63 394.68,235.13 394.64,234.64 394.60,234.14 394.57,233.64 394.55,233.14 394.55,232.64 394.56,232.14 394.58,231.64 394.60,231.14 394.63,230.64 394.68,230.14 394.72,229.64 394.78,229.14 394.83,228.64 394.90,228.14 394.96,227.64 395.03,227.14 395.10,226.64 395.18,226.14 395.25,225.64 395.33,225.14 395.41,224.64 395.48,224.14 395.56,223.64 395.63,223.15 395.70,222.65 395.77,222.15 395.85,221.65 395.93,221.15 396.01,220.65 396.09,220.15 396.17,219.65 396.26,219.15 396.35,218.65 396.45,218.15 396.54,217.65 396.64,217.15 396.75,216.65 396.85,216.15 396.96,215.65 397.07,215.15 397.19,214.65 397.31,214.15 397.44,213.65 397.57,213.15 397.72,212.65 397.87,212.16 398.02,211.66 398.19,211.16 398.35,210.66 398.53,210.16 398.70,209.66 398.88,209.16 399.07,208.66 399.26,208.16 399.45,207.66 399.64,207.16 399.83,206.66 400.03,206.16 400.22,205.66 400.42,205.16 400.61,204.66 400.81,204.16 401.00,203.66 401.19,203.16 401.38,202.66 401.56,202.16 401.75,201.66 401.94,201.16 402.13,200.67 402.32,200.17 402.52,199.67 402.71,199.17 402.91,198.67 403.10,198.17 403.30,197.67 403.50,197.17 403.69,196.67 403.89,196.17 404.08,195.67 404.27,195.17 404.46,194.67 404.65,194.17 404.83,193.67 405.01,193.17 405.19,192.67 405.36,192.17 405.54,191.67 405.71,191.17 405.88,190.67 406.05,190.17 406.22,189.67 406.39,189.18 406.55,188.68 406.72,188.18 406.88,187.68 407.05,187.18 407.21,186.68 407.37,186.18 407.54,185.68 407.70,185.18 407.86,184.68 408.02,184.18 408.18,183.68 408.34,183.18 408.50,182.68 408.65,182.18 408.81,181.68 408.97,181.18 409.13,180.68 409.29,180.18 409.44,179.68 409.60,179.18 409.76,178.68 409.92,178.18 410.08,177.69 410.24,177.19 410.39,176.69 410.55,176.19 410.71,175.69 410.87,175.19 411.03,174.69 411.19,174.19 411.35,173.69 411.51,173.19 411.66,172.69 411.82,172.19 411.98,171.69 412.13,171.19 412.29,170.69 412.45,170.19 412.60,169.69 412.76,169.19 412.91,168.69 413.07,168.19 413.22,167.69 413.38,167.19 413.53,166.69 413.69,166.20 413.84,165.70 414.00,165.20 414.15,164.70 414.31,164.20 414.47,163.70 414.62,163.20 414.78,162.70 414.93,162.20 415.09,161.70 415.24,161.20 415.40,160.70 415.56,160.20 415.71,159.70 415.87,159.20 416.03,158.70 416.18,158.20 416.34,157.70 416.50,157.20 416.66,156.70 416.82,156.20 416.98,155.70 417.14,155.20 417.31,154.71 417.47,154.21 417.63,153.71 417.79,153.21 417.95,152.71 418.11,152.21 418.28,151.71 418.44,151.21 418.60,150.71 418.76,150.21 418.92,149.71 419.08,149.21 419.24,148.71 419.40,148.21 419.56,147.71 419.71,147.21 419.87,146.71 420.02,146.21 420.18,145.71 420.33,145.21 420.48,144.71 420.63,144.21 420.78,143.72 420.93,143.22 421.07,142.72 421.22,142.22 421.36,141.72 421.50,141.22 421.65,140.72 421.79,140.22 421.93,139.72 422.07,139.22 422.22,138.72 422.36,138.22 422.50,137.72 422.64,137.22 422.78,136.72 422.92,136.22 423.06,135.72 423.20,135.22 423.33,134.72 423.47,134.22 423.61,133.72 423.74,133.22 423.87,132.72 424.00,132.23 424.13,131.73 424.26,131.23 424.39,130.73 424.52,130.23 424.64,129.73 424.76,129.23 424.88,128.73 425.00,128.23 425.12,127.73 425.23,127.23 425.35,126.73 425.46,126.23 425.57,125.73 425.67,125.23 425.78,124.73 425.88,124.23 425.98,123.73 426.08,123.23 426.18,122.73 426.28,122.23 426.38,121.73 426.47,121.23 426.57,120.74 426.66,120.24 426.75,119.74 426.85,119.24 426.94,118.74 427.03,118.24 427.11,117.74 427.20,117.24 427.29,116.74 427.37,116.24 427.46,115.74 427.54,115.24 427.63,114.74 427.71,114.24 427.79,113.74 427.87,113.24 427.95,112.74 428.03,112.24 428.11,111.74 428.18,111.24 428.26,110.74 428.33,110.24 428.41,109.74 428.48,109.25 428.56,108.75 428.63,108.25 428.70,107.75 428.77,107.25 428.84,106.75 428.92,106.25 428.99,105.75 429.06,105.25 429.13,104.75 429.20,104.25 429.27,103.75 429.34,103.25 429.41,102.75 429.47,102.25 429.54,101.75 429.61,101.25 429.67,100.75 429.74,100.25 429.80,99.75 429.87,99.25 429.93,98.75 429.99,98.25 430.05,97.76 430.11,97.26 430.17,96.76 430.23,96.26 430.28,95.76 430.34,95.26 430.39,94.76 430.44,94.26 430.50,93.76 430.55,93.26 430.59,92.76 430.64,92.26 430.68,91.76 430.73,91.26 430.77,90.76 430.81,90.26 430.86,89.76 430.90,89.26 430.95,88.76 430.99,88.26 431.03,87.76 431.08,87.26 431.12,86.76 431.16,86.27 431.20,85.77 431.24,85.27 431.28,84.77 431.31,84.27 431.34,83.77 431.37,83.27 431.39,82.77 431.41,82.27 431.43,81.77 431.44,81.27 431.45,80.77 431.45,80.27 431.45,79.77 431.45,79.27 431.45,78.77 431.45,78.27 431.45,77.77 431.45,77.27 431.45,76.77 431.45,76.27 431.45,75.77 431.45,75.28 431.45,74.78 431.45,74.28 431.45,73.78 431.45,73.28 431.45,72.78 431.45,72.28 431.45,71.78 431.45,71.28 431.45,70.78 431.45,70.28 431.45,69.78 431.45,69.28 431.45,68.78 431.45,68.28 431.45,67.78 431.45,67.28 431.45,66.78 431.45,66.28 431.45,65.78 431.45,65.28 431.45,64.78 431.45,64.28 431.45,63.79 431.45,63.29 431.45,62.79 431.45,62.29 431.45,61.79 431.45,61.29 431.45,60.79 431.45,60.29 431.45,59.79 431.45,59.29 431.45,58.79 431.45,58.29 431.45,57.79 431.45,57.29 431.45,56.79 431.45,56.29 431.45,55.79 431.45,55.29 431.45,54.79 431.45,54.29 431.45,53.79 431.45,53.29 431.45,52.79 431.45,52.30 431.45,51.80 431.45,51.30 431.45,50.80 431.45,50.30 431.45,49.80 431.45,49.30 431.45,48.80 431.45,48.30 431.45,47.80 431.45,47.30 431.45,46.80 Z" fill="#006ba9" fill-opacity="0.5" stroke="#333" stroke-width="0.7"/>
<line x1="395.58" y1="223.5" x2="469.52" y2="223.5" stroke="#333" stroke-opacity="0.48" stroke-width="1.25"/>
<line x1="398.32" y1="288.3" x2="466.78" y2="288.3" stroke="#333" stroke-opacity="0.48" stroke-width="1.25"/>
<line x1="386.14" y1="341.6" x2="478.96" y2="341.6" stroke="#333" stroke-opacity="0.48" stroke-width="1.25"/>
<path d="M535.50,43.80 L541.30,43.80 541.33,44.30 541.35,44.80 541.38,45.30 541.41,45.80 541.43,46.30 541.46,46.80 541.49,47.30 541.52,47.80 541.55,48.30 541.58,48.80 541.62,49.30 541.65,49.79 541.68,50.29 541.71,50.79 541.75,51.29 541.78,51.79 541.81,52.29 541.85,52.79 541.88,53.29 541.92,53.79 541.96,54.29 541.99,54.79 542.03,55.29 542.07,55.79 542.11,56.29 542.14,56.79 542.18,57.29 542.22,57.79 542.26,58.29 542.30,58.79 542.34,59.29 542.38,59.79 542.43,60.29 542.47,60.79 542.51,61.28 542.55,61.78 542.59,62.28 542.64,62.78 542.68,63.28 542.72,63.78 542.77,64.28 542.81,64.78 542.86,65.28 542.91,65.78 542.95,66.28 543.00,66.78 543.05,67.28 543.10,67.78 543.15,68.28 543.20,68.78 543.25,69.28 543.30,69.78 543.35,70.28 543.40,70.78 543.45,71.28 543.51,71.78 543.56,72.28 543.62,72.77 543.67,73.27 543.73,73.77 543.78,74.27 543.84,74.77 543.90,75.27 543.96,75.77 544.01,76.27 544.07,76.77 544.13,77.27 544.19,77.77 544.25,78.27 544.32,78.77 544.38,79.27 544.44,79.77 544.50,80.27 544.57,80.77 544.63,81.27 544.69,81.77 544.76,82.27 544.82,82.77 544.89,83.27 544.96,83.77 545.02,84.26 545.09,84.76 545.16,85.26 545.23,85.76 545.30,86.26 545.37,86.76 545.44,87.26 545.51,87.76 545.58,88.26 545.65,88.76 545.72,89.26 545.80,89.76 545.87,90.26 545.94,90.76 546.02,91.26 546.10,91.76 546.17,92.26 546.25,92.76 546.33,93.26 546.41,93.76 546.49,94.26 546.58,94.76 546.66,95.26 546.74,95.75 546.83,96.25 546.91,96.75 547.00,97.25 547.09,97.75 547.18,98.25 547.26,98.75 547.35,99.25 547.44,99.75 547.54,100.25 547.63,100.75 547.72,101.25 547.82,101.75 547.91,102.25 548.01,102.75 548.10,103.25 548.20,103.75 548.30,104.25 548.40,104.75 548.50,105.25 548.60,105.75 548.70,106.25 548.80,106.75 548.90,107.24 549.01,107.74 549.11,108.24 549.22,108.74 549.32,109.24 549.43,109.74 549.53,110.24 549.64,110.74 549.75,111.24 549.86,111.74 549.97,112.24 550.08,112.74 550.19,113.24 550.31,113.74 550.42,114.24 550.53,114.74 550.65,115.24 550.76,115.74 550.88,116.24 551.00,116.74 551.12,117.24 551.24,117.74 551.37,118.24 551.49,118.73 551.62,119.23 551.75,119.73 551.88,120.23 552.01,120.73 552.15,121.23 552.28,121.73 552.42,122.23 552.56,122.73 552.71,123.23 552.85,123.73 553.00,124.23 553.15,124.73 553.31,125.23 553.46,125.73 553.62,126.23 553.78,126.73 553.94,127.23 554.11,127.73 554.28,128.23 554.45,128.73 554.63,129.23 554.82,129.73 555.00,130.22 555.19,130.72 555.38,131.22 555.58,131.72 555.78,132.22 555.99,132.72 556.19,133.22 556.40,133.72 556.62,134.22 556.83,134.72 557.05,135.22 557.28,135.72 557.50,136.22 557.73,136.72 557.96,137.22 558.20,137.72 558.44,138.22 558.67,138.72 558.92,139.22 559.16,139.72 559.41,140.22 559.66,140.72 559.92,141.22 560.19,141.71 560.47,142.21 560.75,142.71 561.04,143.21 561.34,143.71 561.63,144.21 561.94,144.71 562.24,145.21 562.55,145.71 562.86,146.21 563.17,146.71 563.48,147.21 563.80,147.71 564.11,148.21 564.41,148.71 564.72,149.21 565.02,149.71 565.32,150.21 565.62,150.71 565.92,151.21 566.22,151.71 566.52,152.21 566.82,152.71 567.12,153.20 567.42,153.70 567.72,154.20 568.02,154.70 568.32,155.20 568.62,155.70 568.92,156.20 569.22,156.70 569.52,157.20 569.83,157.70 570.13,158.20 570.44,158.70 570.74,159.20 571.05,159.70 571.36,160.20 571.67,160.70 571.97,161.20 572.29,161.70 572.60,162.20 572.91,162.70 573.24,163.20 573.57,163.70 573.90,164.20 574.24,164.69 574.59,165.19 574.93,165.69 575.28,166.19 575.63,166.69 575.98,167.19 576.33,167.69 576.68,168.19 577.02,168.69 577.36,169.19 577.70,169.69 578.03,170.19 578.36,170.69 578.68,171.19 578.99,171.69 579.29,172.19 579.58,172.69 579.86,173.19 580.13,173.69 580.39,174.19 580.64,174.69 580.89,175.19 581.14,175.69 581.38,176.18 581.63,176.68 581.88,177.18 582.12,177.68 582.36,178.18 582.60,178.68 582.83,179.18 583.06,179.68 583.28,180.18 583.50,180.68 583.71,181.18 583.91,181.68 584.10,182.18 584.29,182.68 584.47,183.18 584.64,183.68 584.79,184.18 584.94,184.68 585.07,185.18 585.19,185.68 585.30,186.18 585.40,186.68 585.48,187.18 585.56,187.67 585.64,188.17 585.71,188.67 585.77,189.17 585.83,189.67 585.88,190.17 585.93,190.67 585.97,191.17 586.00,191.67 586.04,192.17 586.07,192.67 586.10,193.17 586.13,193.67 586.15,194.17 586.18,194.67 586.20,195.17 586.23,195.67 586.25,196.17 586.26,196.67 586.28,197.17 586.29,197.67 586.30,198.17 586.30,198.67 586.30,199.16 586.28,199.66 586.26,200.16 586.22,200.66 586.17,201.16 586.12,201.66 586.05,202.16 585.97,202.66 585.89,203.16 585.80,203.66 585.71,204.16 585.61,204.66 585.50,205.16 585.39,205.66 585.28,206.16 585.17,206.66 585.05,207.16 584.94,207.66 584.82,208.16 584.71,208.66 584.60,209.16 584.49,209.66 584.39,210.16 584.29,210.65 584.19,211.15 584.09,211.65 583.99,212.15 583.89,212.65 583.78,213.15 583.67,213.65 583.56,214.15 583.45,214.65 583.34,215.15 583.22,215.65 583.11,216.15 582.99,216.65 582.88,217.15 582.76,217.65 582.65,218.15 582.54,218.65 582.44,219.15 582.33,219.65 582.23,220.15 582.13,220.65 582.04,221.15 581.95,221.65 581.87,222.15 581.79,222.64 581.72,223.14 581.65,223.64 581.59,224.14 581.52,224.64 581.45,225.14 581.38,225.64 581.32,226.14 581.25,226.64 581.18,227.14 581.12,227.64 581.05,228.14 580.99,228.64 580.93,229.14 580.88,229.64 580.82,230.14 580.77,230.64 580.72,231.14 580.68,231.64 580.64,232.14 580.60,232.64 580.57,233.14 580.55,233.64 580.53,234.13 580.51,234.63 580.50,235.13 580.50,235.63 580.50,236.13 580.51,236.63 580.51,237.13 580.52,237.63 580.53,238.13 580.54,238.63 580.56,239.13 580.57,239.63 580.59,240.13 580.61,240.63 580.63,241.13 580.65,241.63 580.67,242.13 580.69,242.63 580.71,243.13 580.73,243.63 580.75,244.13 580.78,244.63 580.80,245.13 580.82,245.62 580.84,246.12 580.86,246.62 580.88,247.12 580.89,247.62 580.91,248.12 580.93,248.62 580.94,249.12 580.95,249.62 580.97,250.12 580.98,250.62 580.99,251.12 581.01,251.62 581.02,252.12 581.04,252.62 581.06,253.12 581.09,253.62 581.11,254.12 581.15,254.62 581.20,255.12 581.26,255.62 581.33,256.12 581.41,256.62 581.50,257.11 581.60,257.61 581.70,258.11 581.81,258.61 581.93,259.11 582.04,259.61 582.16,260.11 582.29,260.61 582.41,261.11 582.54,261.61 582.66,262.11 582.78,262.61 582.90,263.11 583.02,263.61 583.13,264.11 583.24,264.61 583.34,265.11 583.45,265.61 583.57,266.11 583.70,266.61 583.83,267.11 583.97,267.61 584.11,268.11 584.24,268.60 584.38,269.10 584.51,269.60 584.64,270.10 584.75,270.60 584.86,271.10 584.96,271.60 585.04,272.10 585.11,272.60 585.16,273.10 585.19,273.60 585.20,274.10 585.20,274.60 585.20,275.10 585.19,275.60 585.18,276.10 585.17,276.60 585.16,277.10 585.14,277.60 585.13,278.10 585.11,278.60 585.09,279.10 585.07,279.60 585.05,280.09 585.02,280.59 585.00,281.09 584.97,281.59 584.94,282.09 584.91,282.59 584.88,283.09 584.85,283.59 584.81,284.09 584.78,284.59 584.74,285.09 584.71,285.59 584.67,286.09 584.63,286.59 584.59,287.09 584.56,287.59 584.52,288.09 584.48,288.59 584.43,289.09 584.38,289.59 584.32,290.09 584.25,290.59 584.18,291.09 584.10,291.58 584.02,292.08 583.93,292.58 583.84,293.08 583.74,293.58 583.65,294.08 583.54,294.58 583.44,295.08 583.33,295.58 583.21,296.08 583.10,296.58 582.98,297.08 582.87,297.58 582.75,298.08 582.63,298.58 582.50,299.08 582.38,299.58 582.26,300.08 582.14,300.58 582.02,301.08 581.90,301.58 581.78,302.08 581.66,302.58 581.54,303.07 581.41,303.57 581.28,304.07 581.14,304.57 581.00,305.07 580.86,305.57 580.71,306.07 580.56,306.57 580.41,307.07 580.26,307.57 580.11,308.07 579.95,308.57 579.80,309.07 579.64,309.57 579.49,310.07 579.33,310.57 579.18,311.07 579.03,311.57 578.88,312.07 578.74,312.57 578.59,313.07 578.45,313.57 578.32,314.07 578.18,314.56 578.05,315.06 577.92,315.56 577.78,316.06 577.64,316.56 577.50,317.06 577.37,317.56 577.23,318.06 577.10,318.56 576.96,319.06 576.83,319.56 576.71,320.06 576.59,320.56 576.48,321.06 576.37,321.56 576.26,322.06 576.17,322.56 576.08,323.06 576.01,323.56 575.93,324.06 575.86,324.56 575.79,325.06 575.72,325.56 575.65,326.05 575.58,326.55 575.51,327.05 575.44,327.55 575.37,328.05 575.30,328.55 575.24,329.05 575.18,329.55 575.12,330.05 575.06,330.55 575.00,331.05 574.95,331.55 574.90,332.05 574.86,332.55 574.81,333.05 574.77,333.55 574.74,334.05 574.70,334.55 574.68,335.05 574.65,335.55 574.63,336.05 574.62,336.55 574.61,337.05 574.60,337.54 574.60,338.04 574.60,338.54 574.60,339.04 574.60,339.54 574.60,340.04 574.60,340.54 574.60,341.04 574.60,341.54 574.60,342.04 574.60,342.54 574.60,343.04 574.60,343.54 574.60,344.04 574.60,344.54 574.60,345.04 574.60,345.54 574.60,346.04 574.60,346.54 574.60,347.04 574.60,347.54 574.60,348.04 574.60,348.54 574.60,349.03 574.60,349.53 574.60,350.03 574.60,350.53 574.60,351.03 574.60,351.53 574.60,352.03 574.60,352.53 574.61,353.03 574.62,353.53 574.63,354.03 574.65,354.53 574.66,355.03 574.68,355.53 574.70,356.03 574.72,356.53 574.75,357.03 574.77,357.53 574.80,358.03 574.83,358.53 574.85,359.03 574.88,359.53 574.90,360.03 574.93,360.52 574.95,361.02 574.98,361.52 575.00,362.02 575.02,362.52 575.04,363.02 575.06,363.52 575.07,364.02 575.08,364.52 575.09,365.02 575.10,365.52 575.10,366.02 575.10,366.52 575.09,367.02 575.08,367.52 575.07,368.02 575.05,368.52 575.03,369.02 575.01,369.52 574.98,370.02 574.95,370.52 574.92,371.02 574.89,371.52 574.85,372.01 574.80,372.51 574.76,373.01 574.71,373.51 574.66,374.01 574.61,374.51 574.56,375.01 574.50,375.51 574.45,376.01 574.39,376.51 574.32,377.01 574.26,377.51 574.20,378.01 574.13,378.51 574.06,379.01 574.00,379.51 573.93,380.01 573.85,380.51 573.77,381.01 573.67,381.51 573.55,382.01 573.43,382.51 573.29,383.01 573.15,383.50 572.99,384.00 572.83,384.50 572.65,385.00 572.48,385.50 572.29,386.00 572.10,386.50 571.91,387.00 571.71,387.50 571.51,388.00 571.30,388.50 571.10,389.00 L505.70,389.00 505.50,388.50 505.29,388.00 505.09,387.50 504.89,387.00 504.70,386.50 504.51,386.00 504.32,385.50 504.15,385.00 503.97,384.50 503.81,384.00 503.65,383.50 503.51,383.01 503.37,382.51 503.25,382.01 503.13,381.51 503.03,381.01 502.95,380.51 502.87,380.01 502.80,379.51 502.74,379.01 502.67,378.51 502.60,378.01 502.54,377.51 502.48,377.01 502.41,376.51 502.35,376.01 502.30,375.51 502.24,375.01 502.19,374.51 502.14,374.01 502.09,373.51 502.04,373.01 502.00,372.51 501.95,372.01 501.91,371.52 501.88,371.02 501.85,370.52 501.82,370.02 501.79,369.52 501.77,369.02 501.75,368.52 501.73,368.02 501.72,367.52 501.71,367.02 501.70,366.52 501.70,366.02 501.70,365.52 501.71,365.02 501.72,364.52 501.73,364.02 501.74,363.52 501.76,363.02 501.78,362.52 501.80,362.02 501.82,361.52 501.85,361.02 501.87,360.52 501.90,360.03 501.92,359.53 501.95,359.03 501.97,358.53 502.00,358.03 502.03,357.53 502.05,357.03 502.08,356.53 502.10,356.03 502.12,355.53 502.14,355.03 502.15,354.53 502.17,354.03 502.18,353.53 502.19,353.03 502.20,352.53 502.20,352.03 502.20,351.53 502.20,351.03 502.20,350.53 502.20,350.03 502.20,349.53 502.20,349.03 502.20,348.54 502.20,348.04 502.20,347.54 502.20,347.04 502.20,346.54 502.20,346.04 502.20,345.54 502.20,345.04 502.20,344.54 502.20,344.04 502.20,343.54 502.20,343.04 502.20,342.54 502.20,342.04 502.20,341.54 502.20,341.04 502.20,340.54 502.20,340.04 502.20,339.54 502.20,339.04 502.20,338.54 502.20,338.04 502.20,337.54 502.19,337.05 502.18,336.55 502.17,336.05 502.15,335.55 502.12,335.05 502.10,334.55 502.06,334.05 502.03,333.55 501.99,333.05 501.94,332.55 501.90,332.05 501.85,331.55 501.80,331.05 501.74,330.55 501.68,330.05 501.62,329.55 501.56,329.05 501.50,328.55 501.43,328.05 501.36,327.55 501.29,327.05 501.22,326.55 501.15,326.05 501.08,325.56 501.01,325.06 500.94,324.56 500.87,324.06 500.79,323.56 500.72,323.06 500.63,322.56 500.54,322.06 500.43,321.56 500.32,321.06 500.21,320.56 500.09,320.06 499.97,319.56 499.84,319.06 499.70,318.56 499.57,318.06 499.43,317.56 499.30,317.06 499.16,316.56 499.02,316.06 498.88,315.56 498.75,315.06 498.62,314.56 498.48,314.07 498.35,313.57 498.21,313.07 498.06,312.57 497.92,312.07 497.77,311.57 497.62,311.07 497.47,310.57 497.31,310.07 497.16,309.57 497.00,309.07 496.85,308.57 496.69,308.07 496.54,307.57 496.39,307.07 496.24,306.57 496.09,306.07 495.94,305.57 495.80,305.07 495.66,304.57 495.52,304.07 495.39,303.57 495.26,303.07 495.14,302.58 495.02,302.08 494.90,301.58 494.78,301.08 494.66,300.58 494.54,300.08 494.42,299.58 494.30,299.08 494.17,298.58 494.05,298.08 493.93,297.58 493.82,297.08 493.70,296.58 493.59,296.08 493.47,295.58 493.36,295.08 493.26,294.58 493.15,294.08 493.06,293.58 492.96,293.08 492.87,292.58 492.78,292.08 492.70,291.58 492.62,291.09 492.55,290.59 492.48,290.09 492.42,289.59 492.37,289.09 492.32,288.59 492.28,288.09 492.24,287.59 492.21,287.09 492.17,286.59 492.13,286.09 492.09,285.59 492.06,285.09 492.02,284.59 491.99,284.09 491.95,283.59 491.92,283.09 491.89,282.59 491.86,282.09 491.83,281.59 491.80,281.09 491.78,280.59 491.75,280.09 491.73,279.60 491.71,279.10 491.69,278.60 491.67,278.10 491.66,277.60 491.64,277.10 491.63,276.60 491.62,276.10 491.61,275.60 491.60,275.10 491.60,274.60 491.60,274.10 491.61,273.60 491.64,273.10 491.69,272.60 491.76,272.10 491.84,271.60 491.94,271.10 492.05,270.60 492.16,270.10 492.29,269.60 492.42,269.10 492.56,268.60 492.69,268.11 492.83,267.61 492.97,267.11 493.10,266.61 493.23,266.11 493.35,265.61 493.46,265.11 493.56,264.61 493.67,264.11 493.78,263.61 493.90,263.11 494.02,262.61 494.14,262.11 494.26,261.61 494.39,261.11 494.51,260.61 494.64,260.11 494.76,259.61 494.87,259.11 494.99,258.61 495.10,258.11 495.20,257.61 495.30,257.11 495.39,256.62 495.47,256.12 495.54,255.62 495.60,255.12 495.65,254.62 495.69,254.12 495.71,253.62 495.74,253.12 495.76,252.62 495.78,252.12 495.79,251.62 495.81,251.12 495.82,250.62 495.83,250.12 495.85,249.62 495.86,249.12 495.87,248.62 495.89,248.12 495.91,247.62 495.92,247.12 495.94,246.62 495.96,246.12 495.98,245.62 496.00,245.13 496.02,244.63 496.05,244.13 496.07,243.63 496.09,243.13 496.11,242.63 496.13,242.13 496.15,241.63 496.17,241.13 496.19,240.63 496.21,240.13 496.23,239.63 496.24,239.13 496.26,238.63 496.27,238.13 496.28,237.63 496.29,237.13 496.29,236.63 496.30,236.13 496.30,235.63 496.30,235.13 496.29,234.63 496.27,234.13 496.25,233.64 496.23,233.14 496.20,232.64 496.16,232.14 496.12,231.64 496.08,231.14 496.03,230.64 495.98,230.14 495.92,229.64 495.87,229.14 495.81,228.64 495.75,228.14 495.68,227.64 495.62,227.14 495.55,226.64 495.48,226.14 495.42,225.64 495.35,225.14 495.28,224.64 495.21,224.14 495.15,223.64 495.08,223.14 495.01,222.64 494.93,222.15 494.85,221.65 494.76,221.15 494.67,220.65 494.57,220.15 494.47,219.65 494.36,219.15 494.26,218.65 494.15,218.15 494.04,217.65 493.92,217.15 493.81,216.65 493.69,216.15 493.58,215.65 493.46,215.15 493.35,214.65 493.24,214.15 493.13,213.65 493.02,213.15 492.91,212.65 492.81,212.15 492.71,211.65 492.61,211.15 492.51,210.65 492.41,210.16 492.31,209.66 492.20,209.16 492.09,208.66 491.98,208.16 491.86,207.66 491.75,207.16 491.63,206.66 491.52,206.16 491.41,205.66 491.30,205.16 491.19,204.66 491.09,204.16 491.00,203.66 490.91,203.16 490.83,202.66 490.75,202.16 490.68,201.66 490.63,201.16 490.58,200.66 490.54,200.16 490.52,199.66 490.50,199.16 490.50,198.67 490.50,198.17 490.51,197.67 490.52,197.17 490.54,196.67 490.55,196.17 490.57,195.67 490.60,195.17 490.62,194.67 490.65,194.17 490.67,193.67 490.70,193.17 490.73,192.67 490.76,192.17 490.80,191.67 490.83,191.17 490.87,190.67 490.92,190.17 490.97,189.67 491.03,189.17 491.09,188.67 491.16,188.17 491.24,187.67 491.32,187.18 491.40,186.68 491.50,186.18 491.61,185.68 491.73,185.18 491.86,184.68 492.01,184.18 492.16,183.68 492.33,183.18 492.51,182.68 492.70,182.18 492.89,181.68 493.09,181.18 493.30,180.68 493.52,180.18 493.74,179.68 493.97,179.18 494.20,178.68 494.44,178.18 494.68,177.68 494.92,177.18 495.17,176.68 495.42,176.18 495.66,175.69 495.91,175.19 496.16,174.69 496.41,174.19 496.67,173.69 496.94,173.19 497.22,172.69 497.51,172.19 497.81,171.69 498.12,171.19 498.44,170.69 498.77,170.19 499.10,169.69 499.44,169.19 499.78,168.69 500.12,168.19 500.47,167.69 500.82,167.19 501.17,166.69 501.52,166.19 501.87,165.69 502.21,165.19 502.56,164.69 502.90,164.20 503.23,163.70 503.56,163.20 503.89,162.70 504.20,162.20 504.51,161.70 504.83,161.20 505.13,160.70 505.44,160.20 505.75,159.70 506.06,159.20 506.36,158.70 506.67,158.20 506.97,157.70 507.28,157.20 507.58,156.70 507.88,156.20 508.18,155.70 508.48,155.20 508.78,154.70 509.08,154.20 509.38,153.70 509.68,153.20 509.98,152.71 510.28,152.21 510.58,151.71 510.88,151.21 511.18,150.71 511.48,150.21 511.78,149.71 512.08,149.21 512.39,148.71 512.69,148.21 513.00,147.71 513.32,147.21 513.63,146.71 513.94,146.21 514.25,145.71 514.56,145.21 514.86,144.71 515.17,144.21 515.46,143.71 515.76,143.21 516.05,142.71 516.33,142.21 516.61,141.71 516.88,141.22 517.14,140.72 517.39,140.22 517.64,139.72 517.88,139.22 518.13,138.72 518.36,138.22 518.60,137.72 518.84,137.22 519.07,136.72 519.30,136.22 519.52,135.72 519.75,135.22 519.97,134.72 520.18,134.22 520.40,133.72 520.61,133.22 520.81,132.72 521.02,132.22 521.22,131.72 521.42,131.22 521.61,130.72 521.80,130.22 521.98,129.73 522.17,129.23 522.35,128.73 522.52,128.23 522.69,127.73 522.86,127.23 523.02,126.73 523.18,126.23 523.34,125.73 523.49,125.23 523.65,124.73 523.80,124.23 523.95,123.73 524.09,123.23 524.24,122.73 524.38,122.23 524.52,121.73 524.65,121.23 524.79,120.73 524.92,120.23 525.05,119.73 525.18,119.23 525.31,118.73 525.43,118.24 525.56,117.74 525.68,117.24 525.80,116.74 525.92,116.24 526.04,115.74 526.15,115.24 526.27,114.74 526.38,114.24 526.49,113.74 526.61,113.24 526.72,112.74 526.83,112.24 526.94,111.74 527.05,111.24 527.16,110.74 527.27,110.24 527.37,109.74 527.48,109.24 527.58,108.74 527.69,108.24 527.79,107.74 527.90,107.24 528.00,106.75 528.10,106.25 528.20,105.75 528.30,105.25 528.40,104.75 528.50,104.25 528.60,103.75 528.70,103.25 528.79,102.75 528.89,102.25 528.98,101.75 529.08,101.25 529.17,100.75 529.26,100.25 529.36,99.75 529.45,99.25 529.54,98.75 529.62,98.25 529.71,97.75 529.80,97.25 529.89,96.75 529.97,96.25 530.06,95.75 530.14,95.26 530.22,94.76 530.31,94.26 530.39,93.76 530.47,93.26 530.55,92.76 530.63,92.26 530.70,91.76 530.78,91.26 530.86,90.76 530.93,90.26 531.00,89.76 531.08,89.26 531.15,88.76 531.22,88.26 531.29,87.76 531.36,87.26 531.43,86.76 531.50,86.26 531.57,85.76 531.64,85.26 531.71,84.76 531.78,84.26 531.84,83.77 531.91,83.27 531.98,82.77 532.04,82.27 532.11,81.77 532.17,81.27 532.23,80.77 532.30,80.27 532.36,79.77 532.42,79.27 532.48,78.77 532.55,78.27 532.61,77.77 532.67,77.27 532.73,76.77 532.79,76.27 532.84,75.77 532.90,75.27 532.96,74.77 533.02,74.27 533.07,73.77 533.13,73.27 533.18,72.77 533.24,72.28 533.29,71.78 533.35,71.28 533.40,70.78 533.45,70.28 533.50,69.78 533.55,69.28 533.60,68.78 533.65,68.28 533.70,67.78 533.75,67.28 533.80,66.78 533.85,66.28 533.89,65.78 533.94,65.28 533.99,64.78 534.03,64.28 534.08,63.78 534.12,63.28 534.16,62.78 534.21,62.28 534.25,61.78 534.29,61.28 534.33,60.79 534.37,60.29 534.42,59.79 534.46,59.29 534.50,58.79 534.54,58.29 534.58,57.79 534.62,57.29 534.66,56.79 534.69,56.29 534.73,55.79 534.77,55.29 534.81,54.79 534.84,54.29 534.88,53.79 534.92,53.29 534.95,52.79 534.99,52.29 535.02,51.79 535.05,51.29 535.09,50.79 535.12,50.29 535.15,49.79 535.18,49.30 535.22,48.80 535.25,48.30 535.28,47.80 535.31,47.30 535.34,46.80 535.37,46.30 535.39,45.80 535.42,45.30 535.45,44.80 535.47,44.30 535.50,43.80 Z" fill="#a35db3" fill-opacity="0.5" stroke="#333" stroke-width="0.7"/>
<line x1="490.81" y1="191.4" x2="585.99" y2="191.4" stroke="#333" stroke-opacity="0.48" stroke-width="1.25"/>
<line x1="495.72" y1="253.5" x2="581.08" y2="253.5" stroke="#333" stroke-opacity="0.48" stroke-width="1.25"/>
<line x1="498.68" y1="314.8" x2="578.12" y2="314.8" stroke="#333" stroke-opacity="0.48" stroke-width="1.25"/>
<line x1="101.85" y1="280.8" x2="128.25" y2="280.8" stroke="#ff0000" stroke-width="2"/>
<line x1="207.70" y1="313.7" x2="234.10" y2="313.7" stroke="#ff0000" stroke-width="2"/>
<line x1="313.50" y1="317.2" x2="339.90" y2="317.2" stroke="#ff0000" stroke-width="2"/>
<line x1="419.35" y1="290.9" x2="445.75" y2="290.9" stroke="#ff0000" stroke-width="2"/>
<line x1="525.20" y1="263.0" x2="551.60" y2="263.0" stroke="#ff0000" stroke-width="2"/>
<g fill="#000" fill-opacity="0.2" stroke="#000" stroke-opacity="0.2" stroke-width="0.55">
<circle cx="128.7" cy="192.7" r="1.3"/>
<circle cx="133.5" cy="303.0" r="1.3"/>
<circle cx="127.9" cy="291.2" r="1.3"/>
<circle cx="118.8" cy="239.3" r="1.3"/>
<circle cx="107.6" cy="233.9" r="1.3"/>
<circle cx="122.6" cy="312.4" r="1.3"/>
<circle cx="96.6" cy="308.7" r="1.3"/>
<circle cx="119.7" cy="263.2" r="1.3"/>
<circle cx="97.4" cy="287.6" r="1.3"/>
<circle cx="94.2" cy="227.3" r="1.3"/>
<circle cx="119.6" cy="219.4" r="1.3"/>
<circle cx="115.3" cy="321.2" r="1.3"/>
<circle cx="122.6" cy="185.3" r="1.3"/>
<circle cx="111.4" cy="226.9" r="1.3"/>
<circle cx="96.9" cy="285.3" r="1.3"/>
<circle cx="120.1" cy="207.5" r="1.3"/>
<circle cx="106.3" cy="353.3" r="1.3"/>
<circle cx="105.0" cy="278.3" r="1.3"/>
<circle cx="115.8" cy="196.1" r="1.3"/>
<circle cx="125.4" cy="290.9" r="1.3"/>
<circle cx="112.9" cy="283.3" r="1.3"/>
<circle cx="95.3" cy="214.2" r="1.3"/>
<circle cx="133.3" cy="280.0" r="1.3"/>
<circle cx="106.7" cy="337.3" r="1.3"/>
<circle cx="102.0" cy="316.4" r="1.3"/>
<circle cx="135.1" cy="244.3" r="1.3"/>
<circle cx="116.4" cy="314.2" r="1.3"/>
<circle cx="128.3" cy="344.6" r="1.3"/>
<circle cx="113.8" cy="273.9" r="1.3"/>
<circle cx="117.8" cy="321.9" r="1.3"/>
<circle cx="101.4" cy="372.9" r="1.3"/>
<circle cx="103.3" cy="220.5" r="1.3"/>
<circle cx="102.2" cy="338.3" r="1.3"/>
<circle cx="117.6" cy="316.4" r="1.3"/>
<circle cx="117.7" cy="284.4" r="1.3"/>
<circle cx="95.3" cy="360.0" r="1.3"/>
<circle cx="98.7" cy="283.0" r="1.3"/>
<circle cx="124.7" cy="243.0" r="1.3"/>
<circle cx="115.7" cy="321.0" r="1.3"/>
<circle cx="133.5" cy="294.9" r="1.3"/>
<circle cx="127.4" cy="136.8" r="1.3"/>
<circle cx="107.8" cy="318.1" r="1.3"/>
<circle cx="121.2" cy="282.1" r="1.3"/>
<circle cx="118.0" cy="297.4" r="1.3"/>
<circle cx="111.8" cy="361.0" r="1.3"/>
<circle cx="128.9" cy="289.2" r="1.3"/>
<circle cx="103.7" cy="268.7" r="1.3"/>
<circle cx="100.8" cy="104.8" r="1.3"/>
<circle cx="120.4" cy="182.8" r="1.3"/>
<circle cx="104.4" cy="158.9" r="1.3"/>
<circle cx="108.6" cy="254.6" r="1.3"/>
<circle cx="126.3" cy="184.5" r="1.3"/>
<circle cx="113.0" cy="320.5" r="1.3"/>
<circle cx="101.8" cy="160.1" r="1.3"/>
<circle cx="126.8" cy="283.4" r="1.3"/>
<circle cx="108.2" cy="274.3" r="1.3"/>
<circle cx="99.1" cy="158.5" r="1.3"/>
<circle cx="115.1" cy="283.0" r="1.3"/>
<circle cx="133.4" cy="364.1" r="1.3"/>
<circle cx="95.6" cy="324.6" r="1.3"/>
<circle cx="114.7" cy="278.9" r="1.3"/>
<circle cx="127.9" cy="302.0" r="1.3"/>
<circle cx="102.3" cy="167.6" r="1.3"/>
<circle cx="100.9" cy="164.1" r="1.3"/>
<circle cx="95.1" cy="240.1" r="1.3"/>
<circle cx="123.6" cy="367.8" r="1.3"/>
<circle cx="110.9" cy="226.7" r="1.3"/>
<circle cx="99.1" cy="294.5" r="1.3"/>
<circle cx="112.0" cy="302.2" r="1.3"/>
<circle cx="117.5" cy="278.4" r="1.3"/>
<circle cx="105.1" cy="318.6" r="1.3"/>
<circle cx="113.0" cy="291.9" r="1.3"/>
<circle cx="114.0" cy="215.8" r="1.3"/>
<circle cx="115.4" cy="250.3" r="1.3"/>
<circle cx="127.8" cy="319.8" r="1.3"/>
<circle cx="129.9" cy="265.7" r="1.3"/>
<circle cx="122.8" cy="190.7" r="1.3"/>
<circle cx="108.5" cy="183.8" r="1.3"/>
<circle cx="119.6" cy="329.4" r="1.3"/>
<circle cx="105.3" cy="270.8" r="1.3"/>
<circle cx="110.4" cy="194.1" r="1.3"/>
<circle cx="126.3" cy="175.8" r="1.3"/>
<circle cx="99.6" cy="226.8" r="1.3"/>
<circle cx="107.4" cy="243.2" r="1.3"/>
<circle cx="105.3" cy="245.0" r="1.3"/>
<circle cx="116.4" cy="320.6" r="1.3"/>
<circle cx="98.3" cy="285.5" r="1.3"/>
<circle cx="134.3" cy="341.3" r="1.3"/>
<circle cx="112.0" cy="298.8" r="1.3"/>
<circle cx="108.9" cy="283.4" r="1.3"/>
<circle cx="95.1" cy="372.1" r="1.3"/>
<circle cx="118.6" cy="276.6" r="1.3"/>
<circle cx="95.1" cy="263.7" r="1.3"/>
<circle cx="130.6" cy="270.1" r="1.3"/>
<circle cx="133.2" cy="326.2" r="1.3"/>
<circle cx="103.7" cy="350.2" r="1.3"/>
<circle cx="129.8" cy="248.6" r="1.3"/>
<circle cx="133.7" cy="300.3" r="1.3"/>
<circle cx="115.7" cy="209.5" r="1.3"/>
<circle cx="99.7" cy="160.9" r="1.3"/>
<circle cx="110.2" cy="272.4" r="1.3"/>
<circle cx="135.0" cy="239.7" r="1.3"/>
<circle cx="105.2" cy="309.7" r="1.3"/>
<circle cx="95.1" cy="321.6" r="1.3"/>
<circle cx="119.0" cy="134.3" r="1.3"/>
<circle cx="95.4" cy="297.5" r="1.3"/>
<circle cx="102.5" cy="250.4" r="1.3"/>
<circle cx="111.7" cy="286.4" r="1.3"/>
<circle cx="132.0" cy="370.3" r="1.3"/>
<circle cx="131.7" cy="210.2" r="1.3"/>
<circle cx="132.9" cy="173.1" r="1.3"/>
<circle cx="124.7" cy="292.4" r="1.3"/>
<circle cx="107.2" cy="145.0" r="1.3"/>
<circle cx="123.9" cy="386.3" r="1.3"/>
<circle cx="127.2" cy="347.4" r="1.3"/>
<circle cx="133.2" cy="341.4" r="1.3"/>
<circle cx="96.4" cy="354.1" r="1.3"/>
<circle cx="124.8" cy="286.4" r="1.3"/>
<circle cx="121.5" cy="272.7" r="1.3"/>
<circle cx="97.1" cy="294.3" r="1.3"/>
<circle cx="94.6" cy="295.2" r="1.3"/>
<circle cx="110.7" cy="242.7" r="1.3"/>
<circle cx="109.8" cy="147.5" r="1.3"/>
<circle cx="107.9" cy="168.7" r="1.3"/>
<circle cx="116.0" cy="286.1" r="1.3"/>
<circle cx="94.4" cy="318.2" r="1.3"/>
<circle cx="130.6" cy="323.6" r="1.3"/>
<circle cx="98.0" cy="147.8" r="1.3"/>
<circle cx="97.2" cy="308.3" r="1.3"/>
<circle cx="99.2" cy="328.6" r="1.3"/>
<circle cx="104.3" cy="201.8" r="1.3"/>
<circle cx="129.2" cy="382.6" r="1.3"/>
<circle cx="105.7" cy="338.8" r="1.3"/>
<circle cx="127.1" cy="325.4" r="1.3"/>
<circle cx="97.7" cy="268.6" r="1.3"/>
<circle cx="118.6" cy="173.6" r="1.3"/>
<circle cx="122.4" cy="226.8" r="1.3"/>
<circle cx="100.8" cy="345.8" r="1.3"/>
<circle cx="132.9" cy="367.3" r="1.3"/>
<circle cx="130.9" cy="225.6" r="1.3"/>
<circle cx="97.5" cy="253.9" r="1.3"/>
<circle cx="106.9" cy="152.0" r="1.3"/>
<circle cx="128.8" cy="212.1" r="1.3"/>
<circle cx="131.8" cy="279.5" r="1.3"/>
<circle cx="115.5" cy="334.5" r="1.3"/>
<circle cx="134.8" cy="275.3" r="1.3"/>
<circle cx="132.5" cy="317.1" r="1.3"/>
<circle cx="121.3" cy="381.1" r="1.3"/>
<circle cx="117.5" cy="380.0" r="1.3"/>
<circle cx="102.9" cy="354.6" r="1.3"/>
<circle cx="133.6" cy="294.0" r="1.3"/>
<circle cx="128.5" cy="272.1" r="1.3"/>
<circle cx="115.5" cy="238.0" r="1.3"/>
<circle cx="105.0" cy="187.9" r="1.3"/>
<circle cx="112.6" cy="332.0" r="1.3"/>
<circle cx="124.8" cy="278.5" r="1.3"/>
<circle cx="118.7" cy="251.7" r="1.3"/>
<circle cx="100.9" cy="201.5" r="1.3"/>
<circle cx="119.0" cy="214.4" r="1.3"/>
<circle cx="130.5" cy="123.5" r="1.3"/>
<circle cx="127.3" cy="306.0" r="1.3"/>
<circle cx="133.6" cy="324.2" r="1.3"/>
<circle cx="107.2" cy="219.3" r="1.3"/>
<circle cx="133.1" cy="328.5" r="1.3"/>
<circle cx="124.0" cy="306.9" r="1.3"/>
<circle cx="117.7" cy="327.5" r="1.3"/>
<circle cx="108.6" cy="218.4" r="1.3"/>
<circle cx="100.2" cy="342.0" r="1.3"/>
<circle cx="99.9" cy="241.0" r="1.3"/>
<circle cx="128.3" cy="191.0" r="1.3"/>
<circle cx="110.2" cy="300.0" r="1.3"/>
<circle cx="117.1" cy="235.9" r="1.3"/>
<circle cx="128.6" cy="381.9" r="1.3"/>
<circle cx="103.2" cy="173.0" r="1.3"/>
<circle cx="107.0" cy="311.4" r="1.3"/>
<circle cx="102.1" cy="316.3" r="1.3"/>
<circle cx="101.2" cy="323.9" r="1.3"/>
<circle cx="132.5" cy="147.3" r="1.3"/>
<circle cx="134.0" cy="99.4" r="1.3"/>
<circle cx="105.9" cy="235.6" r="1.3"/>
<circle cx="109.5" cy="99.4" r="1.3"/>
<circle cx="112.2" cy="335.0" r="1.3"/>
<circle cx="107.9" cy="124.6" r="1.3"/>
<circle cx="124.2" cy="204.6" r="1.3"/>
<circle cx="115.1" cy="220.6" r="1.3"/>
<circle cx="112.9" cy="166.4" r="1.3"/>
<circle cx="110.5" cy="283.5" r="1.3"/>
<circle cx="109.4" cy="289.6" r="1.3"/>
<circle cx="117.6" cy="216.2" r="1.3"/>
<circle cx="111.4" cy="317.5" r="1.3"/>
<circle cx="112.7" cy="289.2" r="1.3"/>
<circle cx="106.6" cy="141.6" r="1.3"/>
<circle cx="113.8" cy="214.8" r="1.3"/>
<circle cx="122.1" cy="355.5" r="1.3"/>
<circle cx="129.6" cy="300.1" r="1.3"/>
<circle cx="113.3" cy="331.4" r="1.3"/>
<circle cx="113.5" cy="236.0" r="1.3"/>
<circle cx="102.8" cy="312.2" r="1.3"/>
<circle cx="135.2" cy="348.2" r="1.3"/>
<circle cx="126.2" cy="219.6" r="1.3"/>
<circle cx="94.9" cy="389.1" r="1.3"/>
<circle cx="97.5" cy="389.1" r="1.3"/>
<circle cx="98.9" cy="389.0" r="1.3"/>
<circle cx="99.5" cy="388.9" r="1.3"/>
<circle cx="102.1" cy="389.1" r="1.3"/>
<circle cx="103.3" cy="388.9" r="1.3"/>
<circle cx="104.8" cy="389.1" r="1.3"/>
<circle cx="105.9" cy="389.2" r="1.3"/>
<circle cx="107.4" cy="389.1" r="1.3"/>
<circle cx="108.9" cy="389.1" r="1.3"/>
<circle cx="110.9" cy="389.0" r="1.3"/>
<circle cx="112.1" cy="389.1" r="1.3"/>
<circle cx="114.9" cy="388.9" r="1.3"/>
<circle cx="116.3" cy="388.9" r="1.3"/>
<circle cx="116.8" cy="389.1" r="1.3"/>
<circle cx="118.7" cy="389.1" r="1.3"/>
<circle cx="120.0" cy="388.9" r="1.3"/>
<circle cx="121.9" cy="389.0" r="1.3"/>
<circle cx="123.4" cy="388.9" r="1.3"/>
<circle cx="124.8" cy="388.9" r="1.3"/>
<circle cx="126.3" cy="389.0" r="1.3"/>
<circle cx="127.9" cy="389.0" r="1.3"/>
<circle cx="129.8" cy="388.8" r="1.3"/>
<circle cx="131.0" cy="389.0" r="1.3"/>
<circle cx="133.5" cy="388.9" r="1.3"/>
<circle cx="134.9" cy="388.8" r="1.3"/>
<circle cx="232.8" cy="360.9" r="1.3"/>
<circle cx="220.5" cy="259.9" r="1.3"/>
<circle cx="215.2" cy="256.9" r="1.3"/>
<circle cx="235.3" cy="337.2" r="1.3"/>
<circle cx="228.6" cy="311.2" r="1.3"/>
<circle cx="205.4" cy="182.7" r="1.3"/>
<circle cx="229.1" cy="226.5" r="1.3"/>
<circle cx="235.6" cy="187.1" r="1.3"/>
<circle cx="218.9" cy="320.0" r="1.3"/>
<circle cx="234.3" cy="286.5" r="1.3"/>
<circle cx="203.7" cy="313.7" r="1.3"/>
<circle cx="236.3" cy="284.2" r="1.3"/>
<circle cx="210.6" cy="343.7" r="1.3"/>
<circle cx="220.3" cy="277.0" r="1.3"/>
<circle cx="213.6" cy="386.8" r="1.3"/>
<circle cx="207.1" cy="120.1" r="1.3"/>
<circle cx="203.1" cy="263.7" r="1.3"/>
<circle cx="204.4" cy="221.8" r="1.3"/>
<circle cx="227.5" cy="356.6" r="1.3"/>
<circle cx="231.8" cy="290.2" r="1.3"/>
<circle cx="235.4" cy="325.6" r="1.3"/>
<circle cx="216.3" cy="355.2" r="1.3"/>
<circle cx="205.5" cy="383.3" r="1.3"/>
<circle cx="218.3" cy="255.7" r="1.3"/>
<circle cx="235.4" cy="182.6" r="1.3"/>
<circle cx="222.2" cy="287.3" r="1.3"/>
<circle cx="213.7" cy="228.7" r="1.3"/>
<circle cx="236.9" cy="184.9" r="1.3"/>
<circle cx="221.7" cy="366.2" r="1.3"/>
<circle cx="233.2" cy="252.1" r="1.3"/>
<circle cx="240.3" cy="229.7" r="1.3"/>
<circle cx="208.4" cy="242.6" r="1.3"/>
<circle cx="229.3" cy="334.6" r="1.3"/>
<circle cx="212.2" cy="314.4" r="1.3"/>
<circle cx="229.5" cy="315.3" r="1.3"/>
<circle cx="219.4" cy="307.2" r="1.3"/>
<circle cx="241.3" cy="249.5" r="1.3"/>
<circle cx="235.2" cy="239.2" r="1.3"/>
<circle cx="203.6" cy="245.2" r="1.3"/>
<circle cx="241.3" cy="276.8" r="1.3"/>
<circle cx="206.2" cy="289.9" r="1.3"/>
<circle cx="211.7" cy="326.9" r="1.3"/>
<circle cx="202.4" cy="291.2" r="1.3"/>
<circle cx="232.6" cy="325.7" r="1.3"/>
<circle cx="232.6" cy="367.3" r="1.3"/>
<circle cx="228.0" cy="266.6" r="1.3"/>
<circle cx="223.9" cy="248.2" r="1.3"/>
<circle cx="205.0" cy="302.7" r="1.3"/>
<circle cx="223.5" cy="350.6" r="1.3"/>
<circle cx="235.6" cy="370.5" r="1.3"/>
<circle cx="223.6" cy="322.2" r="1.3"/>
<circle cx="202.7" cy="356.0" r="1.3"/>
<circle cx="221.1" cy="373.2" r="1.3"/>
<circle cx="212.6" cy="362.1" r="1.3"/>
<circle cx="229.2" cy="207.3" r="1.3"/>
<circle cx="240.8" cy="383.8" r="1.3"/>
<circle cx="224.6" cy="178.8" r="1.3"/>
<circle cx="230.3" cy="218.3" r="1.3"/>
<circle cx="231.6" cy="267.8" r="1.3"/>
<circle cx="205.9" cy="280.3" r="1.3"/>
<circle cx="223.8" cy="327.7" r="1.3"/>
<circle cx="200.5" cy="182.4" r="1.3"/>
<circle cx="221.2" cy="317.1" r="1.3"/>
<circle cx="210.3" cy="302.4" r="1.3"/>
<circle cx="217.0" cy="204.4" r="1.3"/>
<circle cx="241.4" cy="355.1" r="1.3"/>
<circle cx="231.1" cy="226.7" r="1.3"/>
<circle cx="212.2" cy="308.4" r="1.3"/>
<circle cx="211.8" cy="299.2" r="1.3"/>
<circle cx="212.9" cy="283.7" r="1.3"/>
<circle cx="231.1" cy="312.4" r="1.3"/>
<circle cx="211.7" cy="328.0" r="1.3"/>
<circle cx="240.0" cy="387.6" r="1.3"/>
<circle cx="237.5" cy="350.4" r="1.3"/>
<circle cx="231.8" cy="233.0" r="1.3"/>
<circle cx="206.7" cy="277.4" r="1.3"/>
<circle cx="205.2" cy="357.4" r="1.3"/>
<circle cx="232.1" cy="336.4" r="1.3"/>
<circle cx="228.4" cy="356.8" r="1.3"/>
<circle cx="227.1" cy="350.8" r="1.3"/>
<circle cx="230.5" cy="251.7" r="1.3"/>
<circle cx="215.8" cy="356.2" r="1.3"/>
<circle cx="227.1" cy="271.6" r="1.3"/>
<circle cx="219.0" cy="343.2" r="1.3"/>
<circle cx="238.7" cy="286.9" r="1.3"/>
<circle cx="220.7" cy="361.1" r="1.3"/>
<circle cx="201.7" cy="359.9" r="1.3"/>
<circle cx="201.3" cy="222.0" r="1.3"/>
<circle cx="224.9" cy="361.0" r="1.3"/>
<circle cx="223.2" cy="289.4" r="1.3"/>
<circle cx="226.5" cy="243.5" r="1.3"/>
<circle cx="205.6" cy="381.1" r="1.3"/>
<circle cx="237.1" cy="247.5" r="1.3"/>
<circle cx="223.6" cy="292.3" r="1.3"/>
<circle cx="207.5" cy="261.5" r="1.3"/>
<circle cx="225.0" cy="367.5" r="1.3"/>
<circle cx="238.8" cy="308.3" r="1.3"/>
<circle cx="213.3" cy="347.7" r="1.3"/>
<circle cx="223.5" cy="303.6" r="1.3"/>
<circle cx="241.6" cy="198.1" r="1.3"/>
<circle cx="227.4" cy="277.9" r="1.3"/>
<circle cx="237.3" cy="355.0" r="1.3"/>
<circle cx="202.8" cy="320.4" r="1.3"/>
<circle cx="228.7" cy="267.5" r="1.3"/>
<circle cx="233.8" cy="358.7" r="1.3"/>
<circle cx="222.7" cy="233.6" r="1.3"/>
<circle cx="217.0" cy="355.2" r="1.3"/>
<circle cx="227.2" cy="291.5" r="1.3"/>
<circle cx="220.0" cy="220.0" r="1.3"/>
<circle cx="214.5" cy="331.7" r="1.3"/>
<circle cx="221.2" cy="378.7" r="1.3"/>
<circle cx="205.5" cy="368.1" r="1.3"/>
<circle cx="207.1" cy="167.1" r="1.3"/>
<circle cx="216.4" cy="307.0" r="1.3"/>
<circle cx="233.6" cy="321.6" r="1.3"/>
<circle cx="220.0" cy="148.6" r="1.3"/>
<circle cx="223.7" cy="239.9" r="1.3"/>
<circle cx="210.9" cy="236.4" r="1.3"/>
<circle cx="235.9" cy="263.6" r="1.3"/>
<circle cx="210.7" cy="340.8" r="1.3"/>
<circle cx="223.4" cy="303.0" r="1.3"/>
<circle cx="226.5" cy="333.7" r="1.3"/>
<circle cx="216.0" cy="366.6" r="1.3"/>
<circle cx="236.3" cy="189.7" r="1.3"/>
<circle cx="221.9" cy="244.9" r="1.3"/>
<circle cx="224.2" cy="243.4" r="1.3"/>
<circle cx="230.0" cy="256.1" r="1.3"/>
<circle cx="211.6" cy="324.7" r="1.3"/>
<circle cx="216.5" cy="301.0" r="1.3"/>
<circle cx="232.7" cy="327.2" r="1.3"/>
<circle cx="220.2" cy="248.7" r="1.3"/>
<circle cx="211.3" cy="267.9" r="1.3"/>
<circle cx="237.1" cy="364.6" r="1.3"/>
<circle cx="225.7" cy="288.7" r="1.3"/>
<circle cx="233.9" cy="297.9" r="1.3"/>
<circle cx="206.2" cy="253.4" r="1.3"/>
<circle cx="227.4" cy="227.2" r="1.3"/>
<circle cx="229.5" cy="245.1" r="1.3"/>
<circle cx="241.7" cy="260.4" r="1.3"/>
<circle cx="233.5" cy="214.6" r="1.3"/>
<circle cx="233.4" cy="224.5" r="1.3"/>
<circle cx="230.8" cy="300.5" r="1.3"/>
<circle cx="236.0" cy="300.7" r="1.3"/>
<circle cx="237.4" cy="280.3" r="1.3"/>
<circle cx="238.3" cy="363.8" r="1.3"/>
<circle cx="220.3" cy="344.2" r="1.3"/>
<circle cx="221.9" cy="371.2" r="1.3"/>
<circle cx="238.5" cy="279.3" r="1.3"/>
<circle cx="226.8" cy="245.2" r="1.3"/>
<circle cx="231.6" cy="372.8" r="1.3"/>
<circle cx="213.2" cy="366.3" r="1.3"/>
<circle cx="216.7" cy="341.3" r="1.3"/>
<circle cx="215.3" cy="252.8" r="1.3"/>
<circle cx="226.2" cy="201.4" r="1.3"/>
<circle cx="211.6" cy="362.2" r="1.3"/>
<circle cx="233.0" cy="299.0" r="1.3"/>
<circle cx="240.5" cy="169.3" r="1.3"/>
<circle cx="228.6" cy="376.9" r="1.3"/>
<circle cx="229.3" cy="270.6" r="1.3"/>
<circle cx="224.0" cy="371.1" r="1.3"/>
<circle cx="236.1" cy="315.0" r="1.3"/>
<circle cx="209.3" cy="236.9" r="1.3"/>
<circle cx="241.3" cy="336.6" r="1.3"/>
<circle cx="234.7" cy="163.5" r="1.3"/>
<circle cx="213.3" cy="319.5" r="1.3"/>
<circle cx="209.8" cy="287.6" r="1.3"/>
<circle cx="222.4" cy="301.4" r="1.3"/>
<circle cx="207.9" cy="351.0" r="1.3"/>
<circle cx="231.0" cy="276.9" r="1.3"/>
<circle cx="209.0" cy="211.1" r="1.3"/>
<circle cx="232.9" cy="336.2" r="1.3"/>
<circle cx="216.2" cy="246.5" r="1.3"/>
<circle cx="214.4" cy="239.4" r="1.3"/>
<circle cx="216.5" cy="355.0" r="1.3"/>
<circle cx="240.6" cy="268.4" r="1.3"/>
<circle cx="226.2" cy="366.0" r="1.3"/>
<circle cx="211.8" cy="282.8" r="1.3"/>
<circle cx="200.6" cy="291.1" r="1.3"/>
<circle cx="218.7" cy="372.0" r="1.3"/>
<circle cx="237.7" cy="352.8" r="1.3"/>
<circle cx="200.0" cy="335.6" r="1.3"/>
<circle cx="207.8" cy="252.3" r="1.3"/>
<circle cx="223.5" cy="364.7" r="1.3"/>
<circle cx="214.6" cy="229.5" r="1.3"/>
<circle cx="238.7" cy="220.6" r="1.3"/>
<circle cx="215.2" cy="310.2" r="1.3"/>
<circle cx="231.0" cy="249.6" r="1.3"/>
<circle cx="213.8" cy="278.9" r="1.3"/>
<circle cx="238.0" cy="341.7" r="1.3"/>
<circle cx="237.2" cy="344.8" r="1.3"/>
<circle cx="237.2" cy="367.7" r="1.3"/>
<circle cx="232.5" cy="361.0" r="1.3"/>
<circle cx="235.8" cy="193.4" r="1.3"/>
<circle cx="239.0" cy="241.6" r="1.3"/>
<circle cx="224.4" cy="252.2" r="1.3"/>
<circle cx="236.0" cy="376.6" r="1.3"/>
<circle cx="201.5" cy="147.2" r="1.3"/>
<circle cx="236.6" cy="326.3" r="1.3"/>
<circle cx="212.0" cy="203.9" r="1.3"/>
<circle cx="221.0" cy="338.3" r="1.3"/>
<circle cx="201.1" cy="388.9" r="1.3"/>
<circle cx="202.1" cy="389.1" r="1.3"/>
<circle cx="204.0" cy="388.9" r="1.3"/>
<circle cx="205.0" cy="388.8" r="1.3"/>
<circle cx="206.9" cy="389.0" r="1.3"/>
<circle cx="208.9" cy="389.1" r="1.3"/>
<circle cx="209.8" cy="389.0" r="1.3"/>
<circle cx="210.8" cy="388.9" r="1.3"/>
<circle cx="212.8" cy="389.0" r="1.3"/>
<circle cx="214.5" cy="389.2" r="1.3"/>
<circle cx="215.6" cy="389.0" r="1.3"/>
<circle cx="216.8" cy="388.9" r="1.3"/>
<circle cx="218.3" cy="389.1" r="1.3"/>
<circle cx="220.3" cy="389.1" r="1.3"/>
<circle cx="221.1" cy="389.0" r="1.3"/>
<circle cx="223.3" cy="388.9" r="1.3"/>
<circle cx="224.6" cy="388.8" r="1.3"/>
<circle cx="226.2" cy="389.0" r="1.3"/>
<circle cx="227.7" cy="388.8" r="1.3"/>
<circle cx="229.0" cy="388.9" r="1.3"/>
<circle cx="230.1" cy="389.2" r="1.3"/>
<circle cx="231.9" cy="389.1" r="1.3"/>
<circle cx="233.3" cy="389.2" r="1.3"/>
<circle cx="234.4" cy="389.0" r="1.3"/>
<circle cx="236.5" cy="388.9" r="1.3"/>
<circle cx="237.3" cy="389.0" r="1.3"/>
<circle cx="239.2" cy="389.1" r="1.3"/>
<circle cx="240.8" cy="388.9" r="1.3"/>
<circle cx="324.0" cy="300.3" r="1.3"/>
<circle cx="338.7" cy="359.2" r="1.3"/>
<circle cx="331.8" cy="329.3" r="1.3"/>
<circle cx="317.4" cy="239.9" r="1.3"/>
<circle cx="338.7" cy="331.4" r="1.3"/>
<circle cx="313.2" cy="275.3" r="1.3"/>
<circle cx="337.8" cy="336.7" r="1.3"/>
<circle cx="305.8" cy="347.6" r="1.3"/>
<circle cx="310.0" cy="296.0" r="1.3"/>
<circle cx="341.9" cy="297.5" r="1.3"/>
<circle cx="319.8" cy="249.1" r="1.3"/>
<circle cx="339.5" cy="307.1" r="1.3"/>
<circle cx="309.8" cy="342.6" r="1.3"/>
<circle cx="314.6" cy="370.2" r="1.3"/>
<circle cx="311.1" cy="293.8" r="1.3"/>
<circle cx="329.6" cy="233.6" r="1.3"/>
<circle cx="329.2" cy="331.7" r="1.3"/>
<circle cx="334.9" cy="386.8" r="1.3"/>
<circle cx="337.4" cy="262.6" r="1.3"/>
<circle cx="342.1" cy="253.7" r="1.3"/>
<circle cx="320.4" cy="278.3" r="1.3"/>
<circle cx="312.5" cy="335.9" r="1.3"/>
<circle cx="329.5" cy="252.2" r="1.3"/>
<circle cx="313.5" cy="299.0" r="1.3"/>
<circle cx="316.8" cy="366.5" r="1.3"/>
<circle cx="344.8" cy="358.0" r="1.3"/>
<circle cx="319.5" cy="263.3" r="1.3"/>
<circle cx="326.1" cy="320.7" r="1.3"/>
<circle cx="312.8" cy="243.8" r="1.3"/>
<circle cx="344.0" cy="299.4" r="1.3"/>
<circle cx="307.5" cy="307.5" r="1.3"/>
<circle cx="343.1" cy="219.7" r="1.3"/>
<circle cx="308.5" cy="270.0" r="1.3"/>
<circle cx="338.4" cy="124.5" r="1.3"/>
<circle cx="310.8" cy="268.0" r="1.3"/>
<circle cx="325.9" cy="237.4" r="1.3"/>
<circle cx="341.1" cy="341.7" r="1.3"/>
<circle cx="323.0" cy="307.2" r="1.3"/>
<circle cx="330.6" cy="335.9" r="1.3"/>
<circle cx="312.4" cy="300.3" r="1.3"/>
<circle cx="322.8" cy="327.7" r="1.3"/>
<circle cx="332.2" cy="320.2" r="1.3"/>
<circle cx="345.2" cy="340.4" r="1.3"/>
<circle cx="314.0" cy="326.7" r="1.3"/>
<circle cx="310.2" cy="270.6" r="1.3"/>
<circle cx="320.6" cy="342.2" r="1.3"/>
<circle cx="319.0" cy="361.6" r="1.3"/>
<circle cx="327.7" cy="254.3" r="1.3"/>
<circle cx="319.9" cy="372.6" r="1.3"/>
<circle cx="311.8" cy="183.0" r="1.3"/>
<circle cx="335.6" cy="291.3" r="1.3"/>
<circle cx="319.7" cy="368.7" r="1.3"/>
<circle cx="312.0" cy="339.0" r="1.3"/>
<circle cx="346.5" cy="299.8" r="1.3"/>
<circle cx="338.6" cy="195.2" r="1.3"/>
<circle cx="332.0" cy="199.6" r="1.3"/>
<circle cx="342.1" cy="249.0" r="1.3"/>
<circle cx="337.1" cy="331.7" r="1.3"/>
<circle cx="331.7" cy="257.7" r="1.3"/>
<circle cx="306.2" cy="322.0" r="1.3"/>
<circle cx="307.8" cy="264.7" r="1.3"/>
<circle cx="322.6" cy="338.0" r="1.3"/>
<circle cx="332.4" cy="364.8" r="1.3"/>
<circle cx="337.6" cy="286.0" r="1.3"/>
<circle cx="307.0" cy="303.9" r="1.3"/>
<circle cx="334.9" cy="362.4" r="1.3"/>
<circle cx="318.7" cy="276.1" r="1.3"/>
<circle cx="340.0" cy="348.9" r="1.3"/>
<circle cx="317.6" cy="386.6" r="1.3"/>
<circle cx="322.1" cy="273.8" r="1.3"/>
<circle cx="347.0" cy="306.4" r="1.3"/>
<circle cx="310.8" cy="295.9" r="1.3"/>
<circle cx="324.0" cy="353.5" r="1.3"/>
<circle cx="336.9" cy="341.3" r="1.3"/>
<circle cx="319.0" cy="273.7" r="1.3"/>
<circle cx="319.0" cy="194.8" r="1.3"/>
<circle cx="337.1" cy="332.5" r="1.3"/>
<circle cx="328.6" cy="335.8" r="1.3"/>
<circle cx="324.2" cy="359.2" r="1.3"/>
<circle cx="320.1" cy="326.9" r="1.3"/>
<circle cx="305.7" cy="267.4" r="1.3"/>
<circle cx="314.7" cy="183.4" r="1.3"/>
<circle cx="329.9" cy="277.3" r="1.3"/>
<circle cx="323.6" cy="216.4" r="1.3"/>
<circle cx="328.0" cy="388.4" r="1.3"/>
<circle cx="318.1" cy="349.1" r="1.3"/>
<circle cx="334.2" cy="265.1" r="1.3"/>
<circle cx="341.6" cy="363.3" r="1.3"/>
<circle cx="326.1" cy="294.5" r="1.3"/>
<circle cx="309.0" cy="296.8" r="1.3"/>
<circle cx="339.4" cy="185.7" r="1.3"/>
<circle cx="329.6" cy="291.5" r="1.3"/>
<circle cx="315.3" cy="352.3" r="1.3"/>
<circle cx="345.6" cy="281.4" r="1.3"/>
<circle cx="327.7" cy="273.8" r="1.3"/>
<circle cx="323.6" cy="332.1" r="1.3"/>
<circle cx="319.9" cy="360.5" r="1.3"/>
<circle cx="321.4" cy="337.8" r="1.3"/>
<circle cx="342.6" cy="373.1" r="1.3"/>
<circle cx="317.1" cy="357.5" r="1.3"/>
<circle cx="344.2" cy="368.6" r="1.3"/>
<circle cx="312.9" cy="335.0" r="1.3"/>
<circle cx="316.1" cy="246.9" r="1.3"/>
<circle cx="340.9" cy="331.6" r="1.3"/>
<circle cx="333.9" cy="242.5" r="1.3"/>
<circle cx="326.6" cy="346.2" r="1.3"/>
<circle cx="320.9" cy="222.9" r="1.3"/>
<circle cx="331.2" cy="355.0" r="1.3"/>
<circle cx="311.9" cy="121.2" r="1.3"/>
<circle cx="325.1" cy="289.2" r="1.3"/>
<circle cx="313.9" cy="248.6" r="1.3"/>
<circle cx="320.3" cy="337.0" r="1.3"/>
<circle cx="317.9" cy="218.1" r="1.3"/>
<circle cx="338.5" cy="338.6" r="1.3"/>
<circle cx="327.7" cy="375.5" r="1.3"/>
<circle cx="313.0" cy="380.3" r="1.3"/>
<circle cx="309.4" cy="372.8" r="1.3"/>
<circle cx="327.3" cy="271.9" r="1.3"/>
<circle cx="344.2" cy="360.6" r="1.3"/>
<circle cx="312.8" cy="269.6" r="1.3"/>
<circle cx="323.3" cy="255.8" r="1.3"/>
<circle cx="345.1" cy="277.0" r="1.3"/>
<circle cx="344.5" cy="311.2" r="1.3"/>
<circle cx="339.0" cy="345.1" r="1.3"/>
<circle cx="319.5" cy="318.5" r="1.3"/>
<circle cx="321.8" cy="311.8" r="1.3"/>
<circle cx="345.1" cy="238.9" r="1.3"/>
<circle cx="326.2" cy="349.7" r="1.3"/>
<circle cx="338.1" cy="329.8" r="1.3"/>
<circle cx="323.8" cy="231.8" r="1.3"/>
<circle cx="315.2" cy="241.7" r="1.3"/>
<circle cx="340.5" cy="205.5" r="1.3"/>
<circle cx="326.0" cy="271.4" r="1.3"/>
<circle cx="330.3" cy="345.0" r="1.3"/>
<circle cx="315.8" cy="310.4" r="1.3"/>
<circle cx="340.5" cy="196.1" r="1.3"/>
<circle cx="338.1" cy="346.7" r="1.3"/>
<circle cx="331.7" cy="366.9" r="1.3"/>
<circle cx="328.5" cy="262.0" r="1.3"/>
<circle cx="338.2" cy="302.8" r="1.3"/>
<circle cx="329.7" cy="246.6" r="1.3"/>
<circle cx="306.9" cy="156.9" r="1.3"/>
<circle cx="311.2" cy="371.9" r="1.3"/>
<circle cx="331.2" cy="215.8" r="1.3"/>
<circle cx="329.6" cy="372.8" r="1.3"/>
<circle cx="346.7" cy="274.6" r="1.3"/>
<circle cx="307.9" cy="285.3" r="1.3"/>
<circle cx="314.3" cy="306.6" r="1.3"/>
<circle cx="317.7" cy="364.9" r="1.3"/>
<circle cx="308.8" cy="246.3" r="1.3"/>
<circle cx="307.5" cy="356.5" r="1.3"/>
<circle cx="323.9" cy="291.5" r="1.3"/>
<circle cx="321.4" cy="233.7" r="1.3"/>
<circle cx="307.9" cy="379.5" r="1.3"/>
<circle cx="331.6" cy="372.2" r="1.3"/>
<circle cx="334.5" cy="141.2" r="1.3"/>
<circle cx="307.4" cy="335.7" r="1.3"/>
<circle cx="319.0" cy="368.5" r="1.3"/>
<circle cx="320.5" cy="369.6" r="1.3"/>
<circle cx="319.0" cy="292.4" r="1.3"/>
<circle cx="320.2" cy="248.6" r="1.3"/>
<circle cx="314.3" cy="383.7" r="1.3"/>
<circle cx="326.9" cy="271.9" r="1.3"/>
<circle cx="312.8" cy="293.5" r="1.3"/>
<circle cx="311.3" cy="338.2" r="1.3"/>
<circle cx="337.5" cy="347.6" r="1.3"/>
<circle cx="320.6" cy="322.3" r="1.3"/>
<circle cx="321.1" cy="358.4" r="1.3"/>
<circle cx="335.7" cy="265.5" r="1.3"/>
<circle cx="335.8" cy="388.2" r="1.3"/>
<circle cx="343.6" cy="337.1" r="1.3"/>
<circle cx="317.7" cy="377.7" r="1.3"/>
<circle cx="314.6" cy="223.4" r="1.3"/>
<circle cx="323.7" cy="344.5" r="1.3"/>
<circle cx="328.7" cy="162.8" r="1.3"/>
<circle cx="346.9" cy="348.7" r="1.3"/>
<circle cx="331.2" cy="257.4" r="1.3"/>
<circle cx="338.5" cy="288.0" r="1.3"/>
<circle cx="323.3" cy="271.5" r="1.3"/>
<circle cx="312.0" cy="322.8" r="1.3"/>
<circle cx="342.4" cy="323.0" r="1.3"/>
<circle cx="344.9" cy="190.6" r="1.3"/>
<circle cx="323.8" cy="323.4" r="1.3"/>
<circle cx="339.0" cy="206.1" r="1.3"/>
<circle cx="337.6" cy="288.5" r="1.3"/>
<circle cx="320.2" cy="182.7" r="1.3"/>
<circle cx="319.1" cy="361.5" r="1.3"/>
<circle cx="332.8" cy="106.6" r="1.3"/>
<circle cx="345.2" cy="325.3" r="1.3"/>
<circle cx="324.2" cy="358.0" r="1.3"/>
<circle cx="306.8" cy="147.6" r="1.3"/>
<circle cx="339.4" cy="309.2" r="1.3"/>
<circle cx="326.9" cy="354.6" r="1.3"/>
<circle cx="336.2" cy="308.3" r="1.3"/>
<circle cx="344.7" cy="350.5" r="1.3"/>
<circle cx="307.5" cy="389.0" r="1.3"/>
<circle cx="307.9" cy="388.9" r="1.3"/>
<circle cx="309.4" cy="388.9" r="1.3"/>
<circle cx="311.1" cy="389.0" r="1.3"/>
<circle cx="312.3" cy="389.2" r="1.3"/>
<circle cx="314.2" cy="388.9" r="1.3"/>
<circle cx="315.2" cy="389.0" r="1.3"/>
<circle cx="317.5" cy="389.1" r="1.3"/>
<circle cx="318.8" cy="389.0" r="1.3"/>
<circle cx="319.5" cy="389.0" r="1.3"/>
<circle cx="322.1" cy="388.9" r="1.3"/>
<circle cx="323.4" cy="389.1" r="1.3"/>
<circle cx="324.7" cy="389.0" r="1.3"/>
<circle cx="325.9" cy="389.1" r="1.3"/>
<circle cx="327.7" cy="389.0" r="1.3"/>
<circle cx="328.3" cy="389.0" r="1.3"/>
<circle cx="330.1" cy="388.8" r="1.3"/>
<circle cx="331.8" cy="389.0" r="1.3"/>
<circle cx="333.9" cy="388.9" r="1.3"/>
<circle cx="335.2" cy="388.9" r="1.3"/>
<circle cx="336.3" cy="388.9" r="1.3"/>
<circle cx="337.1" cy="388.8" r="1.3"/>
<circle cx="339.2" cy="389.1" r="1.3"/>
<circle cx="340.1" cy="388.9" r="1.3"/>
<circle cx="342.4" cy="389.1" r="1.3"/>
<circle cx="343.8" cy="389.0" r="1.3"/>
<circle cx="344.7" cy="389.0" r="1.3"/>
<circle cx="345.9" cy="389.1" r="1.3"/>
<circle cx="425.4" cy="230.7" r="1.3"/>
<circle cx="440.0" cy="306.1" r="1.3"/>
<circle cx="452.2" cy="149.1" r="1.3"/>
<circle cx="414.7" cy="272.6" r="1.3"/>
<circle cx="426.6" cy="283.0" r="1.3"/>
<circle cx="437.9" cy="304.7" r="1.3"/>
<circle cx="444.6" cy="300.3" r="1.3"/>
<circle cx="449.9" cy="149.0" r="1.3"/>
<circle cx="414.3" cy="386.6" r="1.3"/>
<circle cx="421.0" cy="315.3" r="1.3"/>
<circle cx="451.3" cy="280.6" r="1.3"/>
<circle cx="434.7" cy="335.4" r="1.3"/>
<circle cx="427.0" cy="309.2" r="1.3"/>
<circle cx="447.7" cy="324.8" r="1.3"/>
<circle cx="417.2" cy="360.1" r="1.3"/>
<circle cx="438.8" cy="190.7" r="1.3"/>
<circle cx="445.6" cy="375.1" r="1.3"/>
<circle cx="445.1" cy="318.4" r="1.3"/>
<circle cx="437.5" cy="368.9" r="1.3"/>
<circle cx="449.5" cy="247.3" r="1.3"/>
<circle cx="419.2" cy="324.4" r="1.3"/>
<circle cx="442.4" cy="151.5" r="1.3"/>
<circle cx="447.5" cy="342.3" r="1.3"/>
<circle cx="428.3" cy="339.4" r="1.3"/>
<circle cx="440.3" cy="348.1" r="1.3"/>
<circle cx="420.3" cy="242.5" r="1.3"/>
<circle cx="425.0" cy="230.0" r="1.3"/>
<circle cx="419.4" cy="221.9" r="1.3"/>
<circle cx="418.4" cy="299.7" r="1.3"/>
<circle cx="413.9" cy="248.5" r="1.3"/>
<circle cx="422.8" cy="46.9" r="1.3"/>
<circle cx="423.9" cy="330.9" r="1.3"/>
<circle cx="436.2" cy="367.5" r="1.3"/>
<circle cx="419.3" cy="302.8" r="1.3"/>
<circle cx="442.8" cy="338.1" r="1.3"/>
<circle cx="451.3" cy="201.1" r="1.3"/>
<circle cx="423.5" cy="266.9" r="1.3"/>
<circle cx="428.9" cy="265.1" r="1.3"/>
<circle cx="433.9" cy="89.1" r="1.3"/>
<circle cx="446.6" cy="185.8" r="1.3"/>
<circle cx="439.8" cy="312.9" r="1.3"/>
<circle cx="440.2" cy="287.1" r="1.3"/>
<circle cx="432.2" cy="178.9" r="1.3"/>
<circle cx="441.4" cy="303.7" r="1.3"/>
<circle cx="450.3" cy="355.2" r="1.3"/>
<circle cx="429.4" cy="279.0" r="1.3"/>
<circle cx="415.0" cy="270.6" r="1.3"/>
<circle cx="420.8" cy="308.5" r="1.3"/>
<circle cx="433.8" cy="169.0" r="1.3"/>
<circle cx="444.1" cy="339.8" r="1.3"/>
<circle cx="422.5" cy="265.5" r="1.3"/>
<circle cx="426.6" cy="163.2" r="1.3"/>
<circle cx="429.4" cy="352.4" r="1.3"/>
<circle cx="439.1" cy="239.0" r="1.3"/>
<circle cx="451.0" cy="315.9" r="1.3"/>
<circle cx="416.9" cy="225.8" r="1.3"/>
<circle cx="430.1" cy="376.6" r="1.3"/>
<circle cx="436.4" cy="251.0" r="1.3"/>
<circle cx="412.0" cy="275.1" r="1.3"/>
<circle cx="430.6" cy="275.1" r="1.3"/>
<circle cx="449.7" cy="240.2" r="1.3"/>
<circle cx="450.7" cy="211.8" r="1.3"/>
<circle cx="446.5" cy="140.4" r="1.3"/>
<circle cx="414.2" cy="379.5" r="1.3"/>
<circle cx="453.4" cy="164.4" r="1.3"/>
<circle cx="412.0" cy="252.3" r="1.3"/>
<circle cx="446.7" cy="192.5" r="1.3"/>
<circle cx="411.7" cy="316.7" r="1.3"/>
<circle cx="449.5" cy="275.2" r="1.3"/>
<circle cx="431.5" cy="325.7" r="1.3"/>
<circle cx="418.2" cy="190.7" r="1.3"/>
<circle cx="439.9" cy="354.4" r="1.3"/>
<circle cx="446.3" cy="314.5" r="1.3"/>
<circle cx="439.8" cy="117.2" r="1.3"/>
<circle cx="434.1" cy="303.3" r="1.3"/>
<circle cx="435.1" cy="233.6" r="1.3"/>
<circle cx="422.4" cy="342.3" r="1.3"/>
<circle cx="440.3" cy="224.1" r="1.3"/>
<circle cx="450.7" cy="296.7" r="1.3"/>
<circle cx="422.6" cy="359.1" r="1.3"/>
<circle cx="423.6" cy="157.4" r="1.3"/>
<circle cx="452.1" cy="350.8" r="1.3"/>
<circle cx="448.1" cy="247.3" r="1.3"/>
<circle cx="412.0" cy="220.5" r="1.3"/>
<circle cx="453.0" cy="384.0" r="1.3"/>
<circle cx="438.6" cy="260.9" r="1.3"/>
<circle cx="429.6" cy="325.6" r="1.3"/>
<circle cx="411.9" cy="160.8" r="1.3"/>
<circle cx="412.4" cy="178.7" r="1.3"/>
<circle cx="432.8" cy="347.0" r="1.3"/>
<circle cx="429.4" cy="213.6" r="1.3"/>
<circle cx="433.3" cy="370.5" r="1.3"/>
<circle cx="449.0" cy="212.6" r="1.3"/>
<circle cx="438.8" cy="327.2" r="1.3"/>
<circle cx="435.8" cy="374.6" r="1.3"/>
<circle cx="414.9" cy="346.5" r="1.3"/>
<circle cx="442.6" cy="172.3" r="1.3"/>
<circle cx="413.7" cy="105.5" r="1.3"/>
<circle cx="423.2" cy="335.1" r="1.3"/>
<circle cx="422.0" cy="259.6" r="1.3"/>
<circle cx="451.6" cy="348.6" r="1.3"/>
<circle cx="433.3" cy="212.2" r="1.3"/>
<circle cx="423.9" cy="354.4" r="1.3"/>
<circle cx="432.3" cy="234.0" r="1.3"/>
<circle cx="415.3" cy="281.3" r="1.3"/>
<circle cx="426.1" cy="236.2" r="1.3"/>
<circle cx="421.2" cy="304.3" r="1.3"/>
<circle cx="435.8" cy="111.5" r="1.3"/>
<circle cx="423.5" cy="261.0" r="1.3"/>
<circle cx="417.2" cy="258.5" r="1.3"/>
<circle cx="434.2" cy="342.7" r="1.3"/>
<circle cx="434.5" cy="187.8" r="1.3"/>
<circle cx="436.9" cy="345.5" r="1.3"/>
<circle cx="440.8" cy="302.4" r="1.3"/>
<circle cx="413.6" cy="263.6" r="1.3"/>
<circle cx="445.0" cy="293.1" r="1.3"/>
<circle cx="440.1" cy="359.4" r="1.3"/>
<circle cx="444.4" cy="322.0" r="1.3"/>
<circle cx="446.7" cy="337.7" r="1.3"/>
<circle cx="420.0" cy="315.7" r="1.3"/>
<circle cx="420.7" cy="328.4" r="1.3"/>
<circle cx="434.6" cy="343.6" r="1.3"/>
<circle cx="413.2" cy="297.4" r="1.3"/>
<circle cx="423.5" cy="223.7" r="1.3"/>
<circle cx="441.3" cy="306.4" r="1.3"/>
<circle cx="423.6" cy="241.2" r="1.3"/>
<circle cx="435.5" cy="338.9" r="1.3"/>
<circle cx="450.8" cy="156.6" r="1.3"/>
<circle cx="448.6" cy="312.7" r="1.3"/>
<circle cx="425.0" cy="246.0" r="1.3"/>
<circle cx="429.9" cy="329.2" r="1.3"/>
<circle cx="417.7" cy="339.1" r="1.3"/>
<circle cx="429.9" cy="351.4" r="1.3"/>
<circle cx="434.0" cy="212.2" r="1.3"/>
<circle cx="447.1" cy="361.3" r="1.3"/>
<circle cx="414.9" cy="256.6" r="1.3"/>
<circle cx="436.4" cy="250.3" r="1.3"/>
<circle cx="446.0" cy="356.2" r="1.3"/>
<circle cx="430.4" cy="252.8" r="1.3"/>
<circle cx="417.6" cy="351.3" r="1.3"/>
<circle cx="420.9" cy="165.5" r="1.3"/>
<circle cx="425.3" cy="172.6" r="1.3"/>
<circle cx="448.1" cy="335.8" r="1.3"/>
<circle cx="418.4" cy="252.4" r="1.3"/>
<circle cx="437.3" cy="259.2" r="1.3"/>
<circle cx="419.4" cy="180.9" r="1.3"/>
<circle cx="443.4" cy="162.1" r="1.3"/>
<circle cx="439.3" cy="349.6" r="1.3"/>
<circle cx="440.8" cy="325.5" r="1.3"/>
<circle cx="422.7" cy="331.4" r="1.3"/>
<circle cx="413.3" cy="388.8" r="1.3"/>
<circle cx="414.9" cy="389.2" r="1.3"/>
<circle cx="417.2" cy="389.0" r="1.3"/>
<circle cx="419.5" cy="388.9" r="1.3"/>
<circle cx="422.1" cy="388.8" r="1.3"/>
<circle cx="425.0" cy="388.9" r="1.3"/>
<circle cx="426.2" cy="389.0" r="1.3"/>
<circle cx="429.1" cy="389.0" r="1.3"/>
<circle cx="432.3" cy="389.2" r="1.3"/>
<circle cx="434.3" cy="389.0" r="1.3"/>
<circle cx="435.3" cy="389.1" r="1.3"/>
<circle cx="437.8" cy="389.0" r="1.3"/>
<circle cx="439.9" cy="389.1" r="1.3"/>
<circle cx="442.3" cy="389.2" r="1.3"/>
<circle cx="445.6" cy="389.0" r="1.3"/>
<circle cx="446.6" cy="388.9" r="1.3"/>
<circle cx="449.5" cy="389.1" r="1.3"/>
<circle cx="451.9" cy="389.2" r="1.3"/>
<circle cx="526.0" cy="236.0" r="1.3"/>
<circle cx="542.4" cy="214.7" r="1.3"/>
<circle cx="557.4" cy="366.0" r="1.3"/>
<circle cx="518.6" cy="291.1" r="1.3"/>
<circle cx="531.6" cy="287.4" r="1.3"/>
<circle cx="531.4" cy="128.2" r="1.3"/>
<circle cx="540.2" cy="285.0" r="1.3"/>
<circle cx="541.0" cy="204.5" r="1.3"/>
<circle cx="531.3" cy="95.2" r="1.3"/>
<circle cx="539.4" cy="287.5" r="1.3"/>
<circle cx="554.5" cy="324.3" r="1.3"/>
<circle cx="544.0" cy="152.8" r="1.3"/>
<circle cx="527.7" cy="264.5" r="1.3"/>
<circle cx="536.7" cy="302.7" r="1.3"/>
<circle cx="533.7" cy="235.7" r="1.3"/>
<circle cx="538.1" cy="377.5" r="1.3"/>
<circle cx="536.6" cy="253.9" r="1.3"/>
<circle cx="554.8" cy="181.1" r="1.3"/>
<circle cx="519.0" cy="329.0" r="1.3"/>
<circle cx="559.4" cy="87.6" r="1.3"/>
<circle cx="531.8" cy="350.1" r="1.3"/>
<circle cx="540.8" cy="113.5" r="1.3"/>
<circle cx="538.2" cy="194.0" r="1.3"/>
<circle cx="520.7" cy="209.9" r="1.3"/>
<circle cx="551.4" cy="187.7" r="1.3"/>
<circle cx="553.7" cy="182.2" r="1.3"/>
<circle cx="528.5" cy="247.2" r="1.3"/>
<circle cx="549.4" cy="255.1" r="1.3"/>
<circle cx="531.0" cy="55.6" r="1.3"/>
<circle cx="555.9" cy="360.5" r="1.3"/>
<circle cx="525.7" cy="175.3" r="1.3"/>
<circle cx="554.3" cy="261.5" r="1.3"/>
<circle cx="544.8" cy="235.2" r="1.3"/>
<circle cx="518.7" cy="198.2" r="1.3"/>
<circle cx="538.7" cy="115.1" r="1.3"/>
<circle cx="557.3" cy="347.6" r="1.3"/>
<circle cx="537.6" cy="299.2" r="1.3"/>
<circle cx="543.9" cy="210.9" r="1.3"/>
<circle cx="524.3" cy="301.0" r="1.3"/>
<circle cx="555.8" cy="243.3" r="1.3"/>
<circle cx="541.7" cy="314.5" r="1.3"/>
<circle cx="529.1" cy="218.8" r="1.3"/>
<circle cx="549.1" cy="194.8" r="1.3"/>
<circle cx="552.7" cy="332.3" r="1.3"/>
<circle cx="519.4" cy="262.4" r="1.3"/>
<circle cx="536.5" cy="322.6" r="1.3"/>
<circle cx="525.4" cy="288.4" r="1.3"/>
<circle cx="556.8" cy="189.5" r="1.3"/>
<circle cx="529.9" cy="209.6" r="1.3"/>
<circle cx="545.5" cy="161.5" r="1.3"/>
<circle cx="528.1" cy="185.6" r="1.3"/>
<circle cx="519.9" cy="237.7" r="1.3"/>
<circle cx="536.8" cy="165.8" r="1.3"/>
<circle cx="527.1" cy="159.3" r="1.3"/>
<circle cx="527.5" cy="146.2" r="1.3"/>
<circle cx="518.4" cy="370.1" r="1.3"/>
<circle cx="537.3" cy="181.8" r="1.3"/>
<circle cx="548.8" cy="198.8" r="1.3"/>
<circle cx="544.6" cy="278.2" r="1.3"/>
<circle cx="518.8" cy="335.7" r="1.3"/>
<circle cx="549.0" cy="291.7" r="1.3"/>
<circle cx="545.0" cy="189.7" r="1.3"/>
<circle cx="519.2" cy="154.9" r="1.3"/>
<circle cx="541.8" cy="298.8" r="1.3"/>
<circle cx="542.1" cy="245.4" r="1.3"/>
<circle cx="545.4" cy="350.7" r="1.3"/>
<circle cx="535.5" cy="154.9" r="1.3"/>
<circle cx="517.5" cy="242.1" r="1.3"/>
<circle cx="531.2" cy="222.9" r="1.3"/>
<circle cx="550.1" cy="72.1" r="1.3"/>
<circle cx="544.3" cy="231.8" r="1.3"/>
<circle cx="556.2" cy="336.9" r="1.3"/>
<circle cx="542.9" cy="299.7" r="1.3"/>
<circle cx="553.1" cy="332.9" r="1.3"/>
<circle cx="543.3" cy="164.3" r="1.3"/>
<circle cx="551.8" cy="338.1" r="1.3"/>
<circle cx="547.1" cy="292.2" r="1.3"/>
<circle cx="529.2" cy="244.0" r="1.3"/>
<circle cx="559.0" cy="60.2" r="1.3"/>
<circle cx="522.7" cy="272.6" r="1.3"/>
<circle cx="521.0" cy="231.7" r="1.3"/>
<circle cx="521.9" cy="305.0" r="1.3"/>
<circle cx="522.6" cy="327.0" r="1.3"/>
<circle cx="539.8" cy="280.1" r="1.3"/>
<circle cx="520.9" cy="263.6" r="1.3"/>
<circle cx="553.5" cy="275.9" r="1.3"/>
<circle cx="520.1" cy="370.2" r="1.3"/>
<circle cx="517.9" cy="57.3" r="1.3"/>
<circle cx="547.1" cy="303.6" r="1.3"/>
<circle cx="526.0" cy="155.6" r="1.3"/>
<circle cx="535.9" cy="141.7" r="1.3"/>
<circle cx="545.5" cy="323.1" r="1.3"/>
<circle cx="549.8" cy="141.3" r="1.3"/>
<circle cx="524.0" cy="176.3" r="1.3"/>
<circle cx="529.6" cy="172.7" r="1.3"/>
<circle cx="534.6" cy="290.7" r="1.3"/>
<circle cx="537.6" cy="269.7" r="1.3"/>
<circle cx="545.8" cy="348.1" r="1.3"/>
<circle cx="545.7" cy="161.2" r="1.3"/>
<circle cx="523.8" cy="211.2" r="1.3"/>
<circle cx="543.0" cy="153.5" r="1.3"/>
<circle cx="551.3" cy="270.6" r="1.3"/>
<circle cx="533.0" cy="282.7" r="1.3"/>
<circle cx="556.4" cy="342.6" r="1.3"/>
<circle cx="542.7" cy="203.3" r="1.3"/>
<circle cx="546.9" cy="159.5" r="1.3"/>
<circle cx="521.2" cy="222.1" r="1.3"/>
<circle cx="524.7" cy="268.0" r="1.3"/>
<circle cx="556.4" cy="385.5" r="1.3"/>
<circle cx="523.7" cy="215.0" r="1.3"/>
<circle cx="545.5" cy="353.6" r="1.3"/>
<circle cx="523.1" cy="210.1" r="1.3"/>
<circle cx="558.9" cy="106.5" r="1.3"/>
<circle cx="523.5" cy="145.3" r="1.3"/>
<circle cx="521.2" cy="194.0" r="1.3"/>
<circle cx="527.4" cy="169.5" r="1.3"/>
<circle cx="548.1" cy="260.2" r="1.3"/>
<circle cx="556.6" cy="158.6" r="1.3"/>
<circle cx="532.6" cy="344.5" r="1.3"/>
<circle cx="535.4" cy="195.5" r="1.3"/>
<circle cx="558.6" cy="318.8" r="1.3"/>
<circle cx="547.2" cy="193.9" r="1.3"/>
<circle cx="535.0" cy="197.2" r="1.3"/>
<circle cx="550.5" cy="167.9" r="1.3"/>
<circle cx="520.7" cy="164.5" r="1.3"/>
<circle cx="520.6" cy="388.8" r="1.3"/>
<circle cx="524.0" cy="388.9" r="1.3"/>
<circle cx="526.7" cy="389.0" r="1.3"/>
<circle cx="530.3" cy="389.0" r="1.3"/>
<circle cx="533.1" cy="389.0" r="1.3"/>
<circle cx="537.0" cy="389.1" r="1.3"/>
<circle cx="539.6" cy="389.2" r="1.3"/>
<circle cx="544.8" cy="389.0" r="1.3"/>
<circle cx="547.4" cy="389.1" r="1.3"/>
<circle cx="551.0" cy="389.1" r="1.3"/>
<circle cx="552.5" cy="389.0" r="1.3"/>
<circle cx="558.3" cy="389.0" r="1.3"/>
</g>
<line x1="51.55" y1="26.8" x2="601.95" y2="26.8" stroke="#f0f0f0" stroke-width="1"/>
<path d="M51.55,26.8 L51.55,406.0 L601.95,406.0 L601.95,26.8" fill="none" stroke="#dedede" stroke-width="1"/>
<text x="42.35" y="394.20" font-size="17" text-anchor="end" fill="#1a1a1a">0</text>
<text x="42.35" y="319.20" font-size="17" text-anchor="end" fill="#1a1a1a">1</text>
<text x="42.35" y="244.20" font-size="17" text-anchor="end" fill="#1a1a1a">2</text>
<text x="42.35" y="169.20" font-size="17" text-anchor="end" fill="#1a1a1a">3</text>
<text x="115.05" y="429.30" font-size="17" text-anchor="middle" fill="#1a1a1a">Pre</text>
<text x="220.9" y="429.30" font-size="17" text-anchor="middle" fill="#1a1a1a">m1</text>
<text x="326.7" y="429.30" font-size="17" text-anchor="middle" fill="#1a1a1a">m3</text>
<text x="432.55" y="429.30" font-size="17" text-anchor="middle" fill="#1a1a1a">m6</text>
<text x="538.4" y="429.30" font-size="17" text-anchor="middle" fill="#1a1a1a">m12</text>
<text x="326.4" y="457.90" font-size="17" text-anchor="middle" fill="#000">Time point</text>
<text transform="translate(17,216.4) rotate(-90)" font-size="17" text-anchor="middle" fill="#000">log10(TRECs) value</text>
<text x="50.9" y="22.8" font-size="17" fill="#000">Distribution of TRECs values by time point</text>
<text transform="translate(1.41,24.9) scale(0.264,0.296)" font-size="100" font-weight="bold" fill="#000">a</text>
<text x="614.2" y="187.5" font-size="14" fill="#000">IdMomento</text>
<rect x="614.6" y="191.50" width="10.8" height="11.8" fill="#ef7e9e" stroke="#666" stroke-width="0.9"/>
<rect x="615.2" y="194.00" width="9.6" height="6.5" fill="#e8003c" stroke="#ee1111" stroke-opacity="0.75" stroke-width="0.9"/>
<line x1="615.2" y1="197.25" x2="624.8" y2="197.25" stroke="#ee1111" stroke-opacity="0.75" stroke-width="0.8"/>
<circle cx="620.0" cy="197.20" r="1.2" fill="#000" fill-opacity="0.28"/>
<text x="632.3" y="201.70" font-size="14" fill="#000">Pre</text>
<rect x="614.6" y="204.10" width="10.8" height="11.8" fill="#f8cd8a" stroke="#666" stroke-width="0.9"/>
<rect x="615.2" y="206.60" width="9.6" height="6.5" fill="#f5a30a" stroke="#ee1111" stroke-opacity="0.75" stroke-width="0.9"/>
<line x1="615.2" y1="209.85" x2="624.8" y2="209.85" stroke="#ee1111" stroke-opacity="0.75" stroke-width="0.8"/>
<circle cx="620.0" cy="209.80" r="1.2" fill="#000" fill-opacity="0.28"/>
<text x="632.3" y="214.30" font-size="14" fill="#000">m1</text>
<rect x="614.6" y="216.70" width="10.8" height="11.8" fill="#bfd6a0" stroke="#666" stroke-width="0.9"/>
<rect x="615.2" y="219.20" width="9.6" height="6.5" fill="#7cbf3e" stroke="#ee1111" stroke-opacity="0.75" stroke-width="0.9"/>
<line x1="615.2" y1="222.45" x2="624.8" y2="222.45" stroke="#ee1111" stroke-opacity="0.75" stroke-width="0.8"/>
<circle cx="620.0" cy="222.40" r="1.2" fill="#000" fill-opacity="0.28"/>
<text x="632.3" y="226.90" font-size="14" fill="#000">m3</text>
<rect x="614.6" y="229.30" width="10.8" height="11.8" fill="#7eb5d4" stroke="#666" stroke-width="0.9"/>
<rect x="615.2" y="231.80" width="9.6" height="6.5" fill="#1a78c0" stroke="#ee1111" stroke-opacity="0.75" stroke-width="0.9"/>
<line x1="615.2" y1="235.05" x2="624.8" y2="235.05" stroke="#ee1111" stroke-opacity="0.75" stroke-width="0.8"/>
<circle cx="620.0" cy="235.00" r="1.2" fill="#000" fill-opacity="0.28"/>
<text x="632.3" y="239.50" font-size="14" fill="#000">m6</text>
<rect x="614.6" y="241.90" width="10.8" height="11.8" fill="#d1aed9" stroke="#666" stroke-width="0.9"/>
<rect x="615.2" y="244.40" width="9.6" height="6.5" fill="#a060c0" stroke="#ee1111" stroke-opacity="0.75" stroke-width="0.9"/>
<line x1="615.2" y1="247.65" x2="624.8" y2="247.65" stroke="#ee1111" stroke-opacity="0.75" stroke-width="0.8"/>
<circle cx="620.0" cy="247.60" r="1.2" fill="#000" fill-opacity="0.28"/>
<text x="632.3" y="252.10" font-size="14" fill="#000">m12</text>
<line x1="50.75" y1="830.05" x2="601.5" y2="830.05" stroke="#f1f1f1" stroke-width="0.8"/>
<line x1="50.75" y1="759.55" x2="601.5" y2="759.55" stroke="#f1f1f1" stroke-width="0.8"/>
<line x1="50.75" y1="689.05" x2="601.5" y2="689.05" stroke="#f1f1f1" stroke-width="0.8"/>
<line x1="50.75" y1="618.55" x2="601.5" y2="618.55" stroke="#f1f1f1" stroke-width="0.8"/>
<line x1="50.75" y1="548.05" x2="601.5" y2="548.05" stroke="#f1f1f1" stroke-width="0.8"/>
<line x1="50.75" y1="865.30" x2="601.5" y2="865.30" stroke="#efefef" stroke-width="1"/>
<line x1="48.05" y1="865.30" x2="50.75" y2="865.30" stroke="#e2e2e2" stroke-width="1"/>
<line x1="50.75" y1="794.80" x2="601.5" y2="794.80" stroke="#efefef" stroke-width="1"/>
<line x1="48.05" y1="794.80" x2="50.75" y2="794.80" stroke="#e2e2e2" stroke-width="1"/>
<line x1="50.75" y1="724.30" x2="601.5" y2="724.30" stroke="#efefef" stroke-width="1"/>
<line x1="48.05" y1="724.30" x2="50.75" y2="724.30" stroke="#e2e2e2" stroke-width="1"/>
<line x1="50.75" y1="653.80" x2="601.5" y2="653.80" stroke="#efefef" stroke-width="1"/>
<line x1="48.05" y1="653.80" x2="50.75" y2="653.80" stroke="#e2e2e2" stroke-width="1"/>
<line x1="50.75" y1="583.30" x2="601.5" y2="583.30" stroke="#efefef" stroke-width="1"/>
<line x1="48.05" y1="583.30" x2="50.75" y2="583.30" stroke="#e2e2e2" stroke-width="1"/>
<line x1="50.75" y1="512.80" x2="601.5" y2="512.80" stroke="#efefef" stroke-width="1"/>
<line x1="48.05" y1="512.80" x2="50.75" y2="512.80" stroke="#e2e2e2" stroke-width="1"/>
<line x1="114.3" y1="503.5" x2="114.3" y2="882.7" stroke="#efefef" stroke-width="1"/>
<line x1="114.3" y1="882.7" x2="114.3" y2="885.4000000000001" stroke="#e2e2e2" stroke-width="1"/>
<line x1="220.2" y1="503.5" x2="220.2" y2="882.7" stroke="#efefef" stroke-width="1"/>
<line x1="220.2" y1="882.7" x2="220.2" y2="885.4000000000001" stroke="#e2e2e2" stroke-width="1"/>
<line x1="326.15" y1="503.5" x2="326.15" y2="882.7" stroke="#efefef" stroke-width="1"/>
<line x1="326.15" y1="882.7" x2="326.15" y2="885.4000000000001" stroke="#e2e2e2" stroke-width="1"/>
<line x1="432.05" y1="503.5" x2="432.05" y2="882.7" stroke="#efefef" stroke-width="1"/>
<line x1="432.05" y1="882.7" x2="432.05" y2="885.4000000000001" stroke="#e2e2e2" stroke-width="1"/>
<line x1="537.95" y1="503.5" x2="537.95" y2="882.7" stroke="#efefef" stroke-width="1"/>
<line x1="537.95" y1="882.7" x2="537.95" y2="885.4000000000001" stroke="#e2e2e2" stroke-width="1"/>
<path d="M110.50,563.20 L118.10,563.20 118.18,563.70 118.25,564.20 118.33,564.70 118.40,565.20 118.48,565.70 118.55,566.20 118.63,566.70 118.70,567.19 118.78,567.69 118.85,568.19 118.93,568.69 119.00,569.19 119.08,569.69 119.15,570.19 119.23,570.69 119.30,571.19 119.38,571.69 119.45,572.19 119.53,572.69 119.60,573.19 119.68,573.69 119.75,574.19 119.83,574.68 119.90,575.18 119.98,575.68 120.05,576.18 120.13,576.68 120.20,577.18 120.28,577.68 120.35,578.18 120.43,578.68 120.50,579.18 120.58,579.68 120.65,580.18 120.73,580.68 120.80,581.18 120.87,581.68 120.95,582.17 121.02,582.67 121.10,583.17 121.17,583.67 121.24,584.17 121.31,584.67 121.39,585.17 121.46,585.67 121.53,586.17 121.60,586.67 121.68,587.17 121.75,587.67 121.82,588.17 121.89,588.67 121.97,589.17 122.04,589.66 122.11,590.16 122.18,590.66 122.25,591.16 122.33,591.66 122.40,592.16 122.47,592.66 122.54,593.16 122.61,593.66 122.69,594.16 122.76,594.66 122.83,595.16 122.91,595.66 122.98,596.16 123.05,596.66 123.13,597.16 123.20,597.65 123.27,598.15 123.35,598.65 123.42,599.15 123.50,599.65 123.57,600.15 123.65,600.65 123.72,601.15 123.80,601.65 123.88,602.15 123.95,602.65 124.03,603.15 124.11,603.65 124.19,604.15 124.27,604.65 124.35,605.14 124.43,605.64 124.51,606.14 124.59,606.64 124.67,607.14 124.75,607.64 124.83,608.14 124.92,608.64 125.00,609.14 125.09,609.64 125.17,610.14 125.26,610.64 125.34,611.14 125.43,611.64 125.52,612.14 125.60,612.63 125.69,613.13 125.78,613.63 125.87,614.13 125.96,614.63 126.05,615.13 126.13,615.63 126.22,616.13 126.31,616.63 126.40,617.13 126.49,617.63 126.58,618.13 126.67,618.63 126.77,619.13 126.86,619.63 126.95,620.12 127.04,620.62 127.13,621.12 127.22,621.62 127.31,622.12 127.40,622.62 127.49,623.12 127.58,623.62 127.67,624.12 127.76,624.62 127.85,625.12 127.94,625.62 128.03,626.12 128.12,626.62 128.21,627.12 128.30,627.61 128.39,628.11 128.48,628.61 128.57,629.11 128.65,629.61 128.74,630.11 128.83,630.61 128.92,631.11 129.00,631.61 129.09,632.11 129.17,632.61 129.26,633.11 129.35,633.61 129.44,634.11 129.53,634.61 129.62,635.10 129.70,635.60 129.79,636.10 129.88,636.60 129.97,637.10 130.06,637.60 130.15,638.10 130.24,638.60 130.33,639.10 130.42,639.60 130.51,640.10 130.60,640.60 130.69,641.10 130.78,641.60 130.87,642.10 130.96,642.59 131.05,643.09 131.14,643.59 131.23,644.09 131.32,644.59 131.41,645.09 131.49,645.59 131.58,646.09 131.67,646.59 131.75,647.09 131.84,647.59 131.92,648.09 132.00,648.59 132.09,649.09 132.17,649.59 132.25,650.08 132.33,650.58 132.41,651.08 132.49,651.58 132.57,652.08 132.64,652.58 132.72,653.08 132.79,653.58 132.87,654.08 132.94,654.58 133.01,655.08 133.08,655.58 133.15,656.08 133.22,656.58 133.28,657.08 133.35,657.58 133.42,658.07 133.49,658.57 133.56,659.07 133.64,659.57 133.71,660.07 133.79,660.57 133.86,661.07 133.93,661.57 134.00,662.07 134.07,662.57 134.14,663.07 134.20,663.57 134.26,664.07 134.31,664.57 134.36,665.07 134.40,665.56 134.44,666.06 134.46,666.56 134.48,667.06 134.50,667.56 134.50,668.06 134.50,668.56 134.50,669.06 134.49,669.56 134.49,670.06 134.48,670.56 134.47,671.06 134.46,671.56 134.45,672.06 134.44,672.56 134.43,673.05 134.42,673.55 134.41,674.05 134.39,674.55 134.38,675.05 134.36,675.55 134.35,676.05 134.33,676.55 134.31,677.05 134.30,677.55 134.28,678.05 134.26,678.55 134.24,679.05 134.23,679.55 134.21,680.05 134.19,680.54 134.17,681.04 134.15,681.54 134.13,682.04 134.11,682.54 134.08,683.04 134.06,683.54 134.03,684.04 134.01,684.54 133.98,685.04 133.95,685.54 133.92,686.04 133.89,686.54 133.85,687.04 133.82,687.54 133.79,688.03 133.75,688.53 133.72,689.03 133.68,689.53 133.65,690.03 133.61,690.53 133.58,691.03 133.54,691.53 133.50,692.03 133.46,692.53 133.43,693.03 133.39,693.53 133.35,694.03 133.31,694.53 133.27,695.03 133.23,695.52 133.19,696.02 133.14,696.52 133.10,697.02 133.05,697.52 132.99,698.02 132.94,698.52 132.89,699.02 132.83,699.52 132.77,700.02 132.71,700.52 132.66,701.02 132.60,701.52 132.54,702.02 132.48,702.52 132.42,703.01 132.36,703.51 132.30,704.01 132.24,704.51 132.18,705.01 132.12,705.51 132.07,706.01 132.01,706.51 131.96,707.01 131.91,707.51 131.86,708.01 131.81,708.51 131.76,709.01 131.72,709.51 131.68,710.01 131.64,710.50 131.60,711.00 131.57,711.50 131.54,712.00 131.51,712.50 131.49,713.00 131.47,713.50 131.45,714.00 131.44,714.50 131.42,715.00 131.41,715.50 131.39,716.00 131.38,716.50 131.37,717.00 131.35,717.50 131.34,718.00 131.32,718.49 131.30,718.99 131.29,719.49 131.26,719.99 131.24,720.49 131.22,720.99 131.19,721.49 131.17,721.99 131.14,722.49 131.11,722.99 131.08,723.49 131.06,723.99 131.03,724.49 130.99,724.99 130.96,725.49 130.93,725.98 130.90,726.48 130.87,726.98 130.84,727.48 130.81,727.98 130.78,728.48 130.74,728.98 130.71,729.48 130.69,729.98 130.66,730.48 130.63,730.98 130.60,731.48 130.58,731.98 130.55,732.48 130.53,732.98 130.51,733.47 130.49,733.97 130.47,734.47 130.45,734.97 130.44,735.47 130.43,735.97 130.42,736.47 130.41,736.97 130.40,737.47 130.40,737.97 130.40,738.47 130.40,738.97 130.40,739.47 130.40,739.97 130.41,740.47 130.41,740.96 130.41,741.46 130.42,741.96 130.42,742.46 130.43,742.96 130.43,743.46 130.44,743.96 130.44,744.46 130.45,744.96 130.46,745.46 130.47,745.96 130.48,746.46 130.48,746.96 130.49,747.46 130.50,747.96 130.51,748.45 130.53,748.95 130.54,749.45 130.55,749.95 130.56,750.45 130.57,750.95 130.59,751.45 130.60,751.95 130.61,752.45 130.63,752.95 130.64,753.45 130.66,753.95 130.67,754.45 130.69,754.95 130.70,755.45 130.72,755.94 130.73,756.44 130.75,756.94 130.77,757.44 130.78,757.94 130.80,758.44 130.82,758.94 130.84,759.44 130.85,759.94 130.87,760.44 130.89,760.94 130.91,761.44 130.93,761.94 130.95,762.44 130.96,762.94 130.98,763.43 131.00,763.93 131.02,764.43 131.04,764.93 131.06,765.43 131.08,765.93 131.10,766.43 131.12,766.93 131.14,767.43 131.17,767.93 131.19,768.43 131.22,768.93 131.25,769.43 131.28,769.93 131.31,770.43 131.34,770.92 131.37,771.42 131.40,771.92 131.44,772.42 131.48,772.92 131.51,773.42 131.55,773.92 131.59,774.42 131.63,774.92 131.67,775.42 131.72,775.92 131.76,776.42 131.81,776.92 131.85,777.42 131.90,777.92 131.95,778.42 132.00,778.91 132.05,779.41 132.10,779.91 132.15,780.41 132.20,780.91 132.26,781.41 132.31,781.91 132.37,782.41 132.42,782.91 132.48,783.41 132.54,783.91 132.60,784.41 132.66,784.91 132.72,785.41 132.78,785.91 132.84,786.40 132.90,786.90 132.97,787.40 133.04,787.90 133.11,788.40 133.18,788.90 133.26,789.40 133.34,789.90 133.42,790.40 133.50,790.90 133.59,791.40 133.67,791.90 133.76,792.40 133.86,792.90 133.95,793.40 134.05,793.89 134.15,794.39 134.25,794.89 134.35,795.39 134.46,795.89 134.56,796.39 134.67,796.89 134.79,797.39 134.90,797.89 135.01,798.39 135.13,798.89 135.25,799.39 135.37,799.89 135.49,800.39 135.62,800.89 135.75,801.38 135.88,801.88 136.01,802.38 136.14,802.88 136.27,803.38 136.41,803.88 136.54,804.38 136.68,804.88 136.82,805.38 136.97,805.88 137.12,806.38 137.29,806.88 137.46,807.38 137.63,807.88 137.82,808.38 138.00,808.87 138.20,809.37 138.40,809.87 138.60,810.37 138.81,810.87 139.02,811.37 139.24,811.87 139.45,812.37 139.67,812.87 139.89,813.37 140.12,813.87 140.34,814.37 140.56,814.87 140.78,815.37 141.01,815.87 141.25,816.36 141.49,816.86 141.74,817.36 141.99,817.86 142.25,818.36 142.51,818.86 142.77,819.36 143.03,819.86 143.30,820.36 143.56,820.86 143.82,821.36 144.08,821.86 144.34,822.36 144.59,822.86 144.83,823.36 145.07,823.85 145.30,824.35 145.52,824.85 145.75,825.35 145.96,825.85 146.18,826.35 146.39,826.85 146.60,827.35 146.82,827.85 147.03,828.35 147.25,828.85 147.47,829.35 147.69,829.85 147.92,830.35 148.16,830.85 148.41,831.34 148.66,831.84 148.92,832.34 149.20,832.84 149.50,833.34 149.81,833.84 150.14,834.34 150.48,834.84 150.83,835.34 151.20,835.84 151.57,836.34 151.94,836.84 152.33,837.34 152.71,837.84 153.10,838.34 153.49,838.84 153.87,839.33 154.26,839.83 154.64,840.33 155.01,840.83 155.37,841.33 155.72,841.83 156.07,842.33 156.40,842.83 156.71,843.33 157.01,843.83 157.29,844.33 157.55,844.83 157.79,845.33 158.01,845.83 158.21,846.33 158.41,846.82 158.60,847.32 158.79,847.82 158.96,848.32 159.13,848.82 159.30,849.32 159.45,849.82 159.60,850.32 159.74,850.82 159.88,851.32 160.01,851.82 160.13,852.32 160.24,852.82 160.35,853.32 160.45,853.82 160.55,854.31 160.65,854.81 160.75,855.31 160.84,855.81 160.93,856.31 161.01,856.81 161.10,857.31 161.17,857.81 161.24,858.31 161.31,858.81 161.37,859.31 161.42,859.81 161.46,860.31 161.50,860.81 161.53,861.31 161.56,861.80 161.59,862.30 161.62,862.80 161.65,863.30 161.67,863.80 161.68,864.30 161.70,864.80 161.70,865.30 L66.90,865.30 66.90,864.80 66.92,864.30 66.93,863.80 66.95,863.30 66.98,862.80 67.01,862.30 67.04,861.80 67.07,861.31 67.10,860.81 67.14,860.31 67.18,859.81 67.23,859.31 67.29,858.81 67.36,858.31 67.43,857.81 67.50,857.31 67.59,856.81 67.67,856.31 67.76,855.81 67.85,855.31 67.95,854.81 68.05,854.31 68.15,853.82 68.25,853.32 68.36,852.82 68.47,852.32 68.59,851.82 68.72,851.32 68.86,850.82 69.00,850.32 69.15,849.82 69.30,849.32 69.47,848.82 69.64,848.32 69.81,847.82 70.00,847.32 70.19,846.82 70.39,846.33 70.59,845.83 70.81,845.33 71.05,844.83 71.31,844.33 71.59,843.83 71.89,843.33 72.20,842.83 72.53,842.33 72.88,841.83 73.23,841.33 73.59,840.83 73.96,840.33 74.34,839.83 74.73,839.33 75.11,838.84 75.50,838.34 75.89,837.84 76.27,837.34 76.66,836.84 77.03,836.34 77.40,835.84 77.77,835.34 78.12,834.84 78.46,834.34 78.79,833.84 79.10,833.34 79.40,832.84 79.68,832.34 79.94,831.84 80.19,831.34 80.44,830.85 80.68,830.35 80.91,829.85 81.13,829.35 81.35,828.85 81.57,828.35 81.78,827.85 82.00,827.35 82.21,826.85 82.42,826.35 82.64,825.85 82.85,825.35 83.08,824.85 83.30,824.35 83.53,823.85 83.77,823.36 84.01,822.86 84.26,822.36 84.52,821.86 84.78,821.36 85.04,820.86 85.30,820.36 85.57,819.86 85.83,819.36 86.09,818.86 86.35,818.36 86.61,817.86 86.86,817.36 87.11,816.86 87.35,816.36 87.59,815.87 87.82,815.37 88.04,814.87 88.26,814.37 88.48,813.87 88.71,813.37 88.93,812.87 89.15,812.37 89.36,811.87 89.58,811.37 89.79,810.87 90.00,810.37 90.20,809.87 90.40,809.37 90.60,808.87 90.78,808.38 90.97,807.88 91.14,807.38 91.31,806.88 91.48,806.38 91.63,805.88 91.78,805.38 91.92,804.88 92.06,804.38 92.19,803.88 92.33,803.38 92.46,802.88 92.59,802.38 92.72,801.88 92.85,801.38 92.98,800.89 93.11,800.39 93.23,799.89 93.35,799.39 93.47,798.89 93.59,798.39 93.70,797.89 93.81,797.39 93.93,796.89 94.04,796.39 94.14,795.89 94.25,795.39 94.35,794.89 94.45,794.39 94.55,793.89 94.65,793.40 94.74,792.90 94.84,792.40 94.93,791.90 95.01,791.40 95.10,790.90 95.18,790.40 95.26,789.90 95.34,789.40 95.42,788.90 95.49,788.40 95.56,787.90 95.63,787.40 95.70,786.90 95.76,786.40 95.82,785.91 95.88,785.41 95.94,784.91 96.00,784.41 96.06,783.91 96.12,783.41 96.18,782.91 96.23,782.41 96.29,781.91 96.34,781.41 96.40,780.91 96.45,780.41 96.50,779.91 96.55,779.41 96.60,778.91 96.65,778.42 96.70,777.92 96.75,777.42 96.79,776.92 96.84,776.42 96.88,775.92 96.93,775.42 96.97,774.92 97.01,774.42 97.05,773.92 97.09,773.42 97.12,772.92 97.16,772.42 97.20,771.92 97.23,771.42 97.26,770.92 97.29,770.43 97.32,769.93 97.35,769.43 97.38,768.93 97.41,768.43 97.43,767.93 97.46,767.43 97.48,766.93 97.50,766.43 97.52,765.93 97.54,765.43 97.56,764.93 97.58,764.43 97.60,763.93 97.62,763.43 97.64,762.94 97.65,762.44 97.67,761.94 97.69,761.44 97.71,760.94 97.73,760.44 97.75,759.94 97.76,759.44 97.78,758.94 97.80,758.44 97.82,757.94 97.83,757.44 97.85,756.94 97.87,756.44 97.88,755.94 97.90,755.45 97.91,754.95 97.93,754.45 97.94,753.95 97.96,753.45 97.97,752.95 97.99,752.45 98.00,751.95 98.01,751.45 98.03,750.95 98.04,750.45 98.05,749.95 98.06,749.45 98.07,748.95 98.09,748.45 98.10,747.96 98.11,747.46 98.12,746.96 98.12,746.46 98.13,745.96 98.14,745.46 98.15,744.96 98.16,744.46 98.16,743.96 98.17,743.46 98.17,742.96 98.18,742.46 98.18,741.96 98.19,741.46 98.19,740.96 98.19,740.47 98.20,739.97 98.20,739.47 98.20,738.97 98.20,738.47 98.20,737.97 98.20,737.47 98.19,736.97 98.18,736.47 98.17,735.97 98.16,735.47 98.15,734.97 98.13,734.47 98.11,733.97 98.09,733.47 98.07,732.98 98.05,732.48 98.02,731.98 98.00,731.48 97.97,730.98 97.94,730.48 97.91,729.98 97.89,729.48 97.86,728.98 97.82,728.48 97.79,727.98 97.76,727.48 97.73,726.98 97.70,726.48 97.67,725.98 97.64,725.49 97.61,724.99 97.57,724.49 97.54,723.99 97.52,723.49 97.49,722.99 97.46,722.49 97.43,721.99 97.41,721.49 97.38,720.99 97.36,720.49 97.34,719.99 97.31,719.49 97.30,718.99 97.28,718.49 97.26,718.00 97.25,717.50 97.23,717.00 97.22,716.50 97.21,716.00 97.19,715.50 97.18,715.00 97.16,714.50 97.15,714.00 97.13,713.50 97.11,713.00 97.09,712.50 97.06,712.00 97.03,711.50 97.00,711.00 96.96,710.50 96.92,710.01 96.88,709.51 96.84,709.01 96.79,708.51 96.74,708.01 96.69,707.51 96.64,707.01 96.59,706.51 96.53,706.01 96.48,705.51 96.42,705.01 96.36,704.51 96.30,704.01 96.24,703.51 96.18,703.01 96.12,702.52 96.06,702.02 96.00,701.52 95.94,701.02 95.89,700.52 95.83,700.02 95.77,699.52 95.71,699.02 95.66,698.52 95.61,698.02 95.55,697.52 95.50,697.02 95.46,696.52 95.41,696.02 95.37,695.52 95.33,695.03 95.29,694.53 95.25,694.03 95.21,693.53 95.17,693.03 95.14,692.53 95.10,692.03 95.06,691.53 95.02,691.03 94.99,690.53 94.95,690.03 94.92,689.53 94.88,689.03 94.85,688.53 94.81,688.03 94.78,687.54 94.75,687.04 94.71,686.54 94.68,686.04 94.65,685.54 94.62,685.04 94.59,684.54 94.57,684.04 94.54,683.54 94.52,683.04 94.49,682.54 94.47,682.04 94.45,681.54 94.43,681.04 94.41,680.54 94.39,680.05 94.37,679.55 94.36,679.05 94.34,678.55 94.32,678.05 94.30,677.55 94.29,677.05 94.27,676.55 94.25,676.05 94.24,675.55 94.22,675.05 94.21,674.55 94.19,674.05 94.18,673.55 94.17,673.05 94.16,672.56 94.15,672.06 94.14,671.56 94.13,671.06 94.12,670.56 94.11,670.06 94.11,669.56 94.10,669.06 94.10,668.56 94.10,668.06 94.10,667.56 94.12,667.06 94.14,666.56 94.16,666.06 94.20,665.56 94.24,665.07 94.29,664.57 94.34,664.07 94.40,663.57 94.46,663.07 94.53,662.57 94.60,662.07 94.67,661.57 94.74,661.07 94.81,660.57 94.89,660.07 94.96,659.57 95.04,659.07 95.11,658.57 95.18,658.07 95.25,657.58 95.32,657.08 95.38,656.58 95.45,656.08 95.52,655.58 95.59,655.08 95.66,654.58 95.73,654.08 95.81,653.58 95.88,653.08 95.96,652.58 96.03,652.08 96.11,651.58 96.19,651.08 96.27,650.58 96.35,650.08 96.43,649.59 96.51,649.09 96.60,648.59 96.68,648.09 96.76,647.59 96.85,647.09 96.93,646.59 97.02,646.09 97.11,645.59 97.19,645.09 97.28,644.59 97.37,644.09 97.46,643.59 97.55,643.09 97.64,642.59 97.73,642.10 97.82,641.60 97.91,641.10 98.00,640.60 98.09,640.10 98.18,639.60 98.27,639.10 98.36,638.60 98.45,638.10 98.54,637.60 98.63,637.10 98.72,636.60 98.81,636.10 98.90,635.60 98.98,635.10 99.07,634.61 99.16,634.11 99.25,633.61 99.34,633.11 99.43,632.61 99.51,632.11 99.60,631.61 99.68,631.11 99.77,630.61 99.86,630.11 99.95,629.61 100.03,629.11 100.12,628.61 100.21,628.11 100.30,627.61 100.39,627.12 100.48,626.62 100.57,626.12 100.66,625.62 100.75,625.12 100.84,624.62 100.93,624.12 101.02,623.62 101.11,623.12 101.20,622.62 101.29,622.12 101.38,621.62 101.47,621.12 101.56,620.62 101.65,620.12 101.74,619.63 101.83,619.13 101.93,618.63 102.02,618.13 102.11,617.63 102.20,617.13 102.29,616.63 102.38,616.13 102.47,615.63 102.55,615.13 102.64,614.63 102.73,614.13 102.82,613.63 102.91,613.13 103.00,612.63 103.08,612.14 103.17,611.64 103.26,611.14 103.34,610.64 103.43,610.14 103.51,609.64 103.60,609.14 103.68,608.64 103.77,608.14 103.85,607.64 103.93,607.14 104.01,606.64 104.09,606.14 104.17,605.64 104.25,605.14 104.33,604.65 104.41,604.15 104.49,603.65 104.57,603.15 104.65,602.65 104.72,602.15 104.80,601.65 104.88,601.15 104.95,600.65 105.03,600.15 105.10,599.65 105.18,599.15 105.25,598.65 105.33,598.15 105.40,597.65 105.47,597.16 105.55,596.66 105.62,596.16 105.69,595.66 105.77,595.16 105.84,594.66 105.91,594.16 105.99,593.66 106.06,593.16 106.13,592.66 106.20,592.16 106.27,591.66 106.35,591.16 106.42,590.66 106.49,590.16 106.56,589.66 106.63,589.17 106.71,588.67 106.78,588.17 106.85,587.67 106.92,587.17 107.00,586.67 107.07,586.17 107.14,585.67 107.21,585.17 107.29,584.67 107.36,584.17 107.43,583.67 107.50,583.17 107.58,582.67 107.65,582.17 107.73,581.68 107.80,581.18 107.87,580.68 107.95,580.18 108.02,579.68 108.10,579.18 108.17,578.68 108.25,578.18 108.32,577.68 108.40,577.18 108.47,576.68 108.55,576.18 108.62,575.68 108.70,575.18 108.77,574.68 108.85,574.19 108.92,573.69 109.00,573.19 109.07,572.69 109.15,572.19 109.22,571.69 109.30,571.19 109.37,570.69 109.45,570.19 109.52,569.69 109.60,569.19 109.67,568.69 109.75,568.19 109.82,567.69 109.90,567.19 109.97,566.70 110.05,566.20 110.12,565.70 110.20,565.20 110.27,564.70 110.35,564.20 110.42,563.70 110.50,563.20 Z" fill="#df003d" fill-opacity="0.5" stroke="#333" stroke-width="0.7"/>
<line x1="94.40" y1="680.3" x2="134.20" y2="680.3" stroke="#333" stroke-opacity="0.48" stroke-width="1.25"/>
<line x1="97.50" y1="766.4" x2="131.10" y2="766.4" stroke="#333" stroke-opacity="0.48" stroke-width="1.25"/>
<line x1="79.81" y1="832.1" x2="148.79" y2="832.1" stroke="#333" stroke-opacity="0.48" stroke-width="1.25"/>
<path d="M218.90,528.30 L221.50,528.30 221.51,528.80 221.53,529.30 221.55,529.80 221.56,530.30 221.58,530.80 221.60,531.30 221.62,531.79 221.63,532.29 221.65,532.79 221.67,533.29 221.69,533.79 221.72,534.29 221.74,534.79 221.76,535.29 221.78,535.79 221.81,536.29 221.83,536.79 221.85,537.29 221.88,537.79 221.90,538.29 221.93,538.78 221.95,539.28 221.98,539.78 222.01,540.28 222.03,540.78 222.06,541.28 222.09,541.78 222.11,542.28 222.14,542.78 222.17,543.28 222.20,543.78 222.23,544.28 222.26,544.78 222.29,545.27 222.32,545.77 222.35,546.27 222.38,546.77 222.41,547.27 222.44,547.77 222.47,548.27 222.51,548.77 222.54,549.27 222.58,549.77 222.61,550.27 222.65,550.77 222.69,551.27 222.72,551.77 222.76,552.26 222.80,552.76 222.84,553.26 222.88,553.76 222.93,554.26 222.97,554.76 223.01,555.26 223.06,555.76 223.10,556.26 223.15,556.76 223.20,557.26 223.25,557.76 223.30,558.26 223.35,558.75 223.40,559.25 223.46,559.75 223.52,560.25 223.58,560.75 223.65,561.25 223.71,561.75 223.78,562.25 223.85,562.75 223.93,563.25 224.00,563.75 224.07,564.25 224.15,564.75 224.23,565.25 224.30,565.74 224.38,566.24 224.46,566.74 224.53,567.24 224.61,567.74 224.68,568.24 224.76,568.74 224.83,569.24 224.91,569.74 224.98,570.24 225.05,570.74 225.12,571.24 225.19,571.74 225.25,572.23 225.32,572.73 225.39,573.23 225.46,573.73 225.52,574.23 225.59,574.73 225.66,575.23 225.72,575.73 225.79,576.23 225.85,576.73 225.92,577.23 225.99,577.73 226.05,578.23 226.12,578.73 226.18,579.22 226.25,579.72 226.31,580.22 226.38,580.72 226.45,581.22 226.51,581.72 226.58,582.22 226.64,582.72 226.71,583.22 226.78,583.72 226.84,584.22 226.91,584.72 226.98,585.22 227.05,585.71 227.12,586.21 227.19,586.71 227.26,587.21 227.33,587.71 227.40,588.21 227.47,588.71 227.54,589.21 227.61,589.71 227.68,590.21 227.75,590.71 227.82,591.21 227.89,591.71 227.96,592.21 228.02,592.70 228.09,593.20 228.15,593.70 228.22,594.20 228.28,594.70 228.34,595.20 228.40,595.70 228.46,596.20 228.51,596.70 228.57,597.20 228.62,597.70 228.67,598.20 228.72,598.70 228.77,599.19 228.82,599.69 228.87,600.19 228.92,600.69 228.96,601.19 229.01,601.69 229.05,602.19 229.10,602.69 229.14,603.19 229.19,603.69 229.23,604.19 229.28,604.69 229.32,605.19 229.36,605.69 229.41,606.18 229.45,606.68 229.50,607.18 229.54,607.68 229.59,608.18 229.63,608.68 229.68,609.18 229.73,609.68 229.77,610.18 229.82,610.68 229.87,611.18 229.92,611.68 229.97,612.18 230.02,612.67 230.07,613.17 230.12,613.67 230.17,614.17 230.23,614.67 230.28,615.17 230.33,615.67 230.38,616.17 230.43,616.67 230.47,617.17 230.52,617.67 230.57,618.17 230.61,618.67 230.66,619.17 230.70,619.66 230.74,620.16 230.79,620.66 230.82,621.16 230.86,621.66 230.90,622.16 230.93,622.66 230.96,623.16 231.00,623.66 231.03,624.16 231.05,624.66 231.08,625.16 231.11,625.66 231.14,626.15 231.16,626.65 231.19,627.15 231.21,627.65 231.24,628.15 231.26,628.65 231.29,629.15 231.31,629.65 231.34,630.15 231.36,630.65 231.39,631.15 231.41,631.65 231.44,632.15 231.47,632.65 231.49,633.14 231.52,633.64 231.55,634.14 231.58,634.64 231.61,635.14 231.64,635.64 231.67,636.14 231.70,636.64 231.73,637.14 231.76,637.64 231.79,638.14 231.82,638.64 231.86,639.14 231.89,639.63 231.92,640.13 231.95,640.63 231.98,641.13 232.02,641.63 232.05,642.13 232.08,642.63 232.12,643.13 232.15,643.63 232.18,644.13 232.22,644.63 232.26,645.13 232.29,645.63 232.33,646.13 232.37,646.62 232.41,647.12 232.45,647.62 232.49,648.12 232.53,648.62 232.57,649.12 232.62,649.62 232.66,650.12 232.71,650.62 232.75,651.12 232.80,651.62 232.85,652.12 232.91,652.62 232.96,653.11 233.02,653.61 233.08,654.11 233.15,654.61 233.21,655.11 233.28,655.61 233.35,656.11 233.42,656.61 233.50,657.11 233.58,657.61 233.65,658.11 233.73,658.61 233.81,659.11 233.90,659.61 233.98,660.10 234.06,660.60 234.15,661.10 234.23,661.60 234.32,662.10 234.40,662.60 234.49,663.10 234.58,663.60 234.66,664.10 234.75,664.60 234.84,665.10 234.92,665.60 235.01,666.10 235.09,666.59 235.18,667.09 235.26,667.59 235.34,668.09 235.42,668.59 235.50,669.09 235.58,669.59 235.65,670.09 235.73,670.59 235.80,671.09 235.87,671.59 235.94,672.09 236.01,672.59 236.07,673.09 236.14,673.58 236.21,674.08 236.27,674.58 236.34,675.08 236.40,675.58 236.47,676.08 236.53,676.58 236.59,677.08 236.66,677.58 236.72,678.08 236.78,678.58 236.84,679.08 236.91,679.58 236.97,680.07 237.03,680.57 237.09,681.07 237.15,681.57 237.21,682.07 237.27,682.57 237.33,683.07 237.39,683.57 237.45,684.07 237.51,684.57 237.57,685.07 237.63,685.57 237.69,686.07 237.75,686.57 237.81,687.06 237.87,687.56 237.93,688.06 237.99,688.56 238.05,689.06 238.11,689.56 238.17,690.06 238.23,690.56 238.29,691.06 238.35,691.56 238.41,692.06 238.47,692.56 238.53,693.06 238.58,693.55 238.64,694.05 238.70,694.55 238.75,695.05 238.81,695.55 238.87,696.05 238.92,696.55 238.98,697.05 239.03,697.55 239.09,698.05 239.14,698.55 239.19,699.05 239.25,699.55 239.30,700.05 239.36,700.54 239.41,701.04 239.47,701.54 239.52,702.04 239.58,702.54 239.64,703.04 239.69,703.54 239.75,704.04 239.81,704.54 239.87,705.04 239.93,705.54 239.99,706.04 240.05,706.54 240.11,707.03 240.18,707.53 240.24,708.03 240.31,708.53 240.38,709.03 240.45,709.53 240.52,710.03 240.59,710.53 240.66,711.03 240.74,711.53 240.82,712.03 240.90,712.53 240.98,713.03 241.06,713.53 241.15,714.02 241.23,714.52 241.32,715.02 241.41,715.52 241.50,716.02 241.60,716.52 241.69,717.02 241.79,717.52 241.88,718.02 241.98,718.52 242.08,719.02 242.18,719.52 242.28,720.02 242.38,720.51 242.48,721.01 242.59,721.51 242.69,722.01 242.80,722.51 242.90,723.01 243.01,723.51 243.11,724.01 243.22,724.51 243.33,725.01 243.44,725.51 243.54,726.01 243.65,726.51 243.76,727.01 243.87,727.50 243.98,728.00 244.09,728.50 244.19,729.00 244.30,729.50 244.41,730.00 244.52,730.50 244.62,731.00 244.73,731.50 244.84,732.00 244.94,732.50 245.05,733.00 245.15,733.50 245.25,733.99 245.36,734.49 245.46,734.99 245.56,735.49 245.66,735.99 245.76,736.49 245.86,736.99 245.96,737.49 246.07,737.99 246.17,738.49 246.28,738.99 246.38,739.49 246.49,739.99 246.59,740.49 246.70,740.98 246.80,741.48 246.91,741.98 247.01,742.48 247.12,742.98 247.22,743.48 247.33,743.98 247.43,744.48 247.54,744.98 247.64,745.48 247.75,745.98 247.85,746.48 247.95,746.98 248.05,747.47 248.15,747.97 248.25,748.47 248.35,748.97 248.45,749.47 248.54,749.97 248.64,750.47 248.73,750.97 248.82,751.47 248.92,751.97 249.00,752.47 249.09,752.97 249.18,753.47 249.26,753.97 249.35,754.46 249.43,754.96 249.51,755.46 249.59,755.96 249.68,756.46 249.76,756.96 249.84,757.46 249.92,757.96 250.00,758.46 250.08,758.96 250.16,759.46 250.24,759.96 250.31,760.46 250.39,760.95 250.47,761.45 250.54,761.95 250.62,762.45 250.70,762.95 250.77,763.45 250.84,763.95 250.92,764.45 250.99,764.95 251.06,765.45 251.13,765.95 251.21,766.45 251.28,766.95 251.35,767.45 251.41,767.94 251.48,768.44 251.55,768.94 251.62,769.44 251.68,769.94 251.75,770.44 251.81,770.94 251.88,771.44 251.94,771.94 252.01,772.44 252.07,772.94 252.13,773.44 252.19,773.94 252.25,774.43 252.31,774.93 252.37,775.43 252.42,775.93 252.48,776.43 252.54,776.93 252.59,777.43 252.64,777.93 252.69,778.43 252.74,778.93 252.79,779.43 252.84,779.93 252.89,780.43 252.93,780.93 252.97,781.42 253.02,781.92 253.06,782.42 253.10,782.92 253.14,783.42 253.18,783.92 253.22,784.42 253.26,784.92 253.30,785.42 253.34,785.92 253.38,786.42 253.42,786.92 253.46,787.42 253.50,787.91 253.54,788.41 253.58,788.91 253.62,789.41 253.66,789.91 253.70,790.41 253.74,790.91 253.79,791.41 253.83,791.91 253.88,792.41 253.92,792.91 253.97,793.41 254.02,793.91 254.07,794.41 254.12,794.90 254.17,795.40 254.23,795.90 254.28,796.40 254.34,796.90 254.40,797.40 254.46,797.90 254.53,798.40 254.59,798.90 254.66,799.40 254.73,799.90 254.81,800.40 254.89,800.90 254.97,801.39 255.05,801.89 255.14,802.39 255.22,802.89 255.31,803.39 255.40,803.89 255.50,804.39 255.59,804.89 255.69,805.39 255.79,805.89 255.89,806.39 256.00,806.89 256.10,807.39 256.21,807.89 256.32,808.38 256.42,808.88 256.53,809.38 256.65,809.88 256.76,810.38 256.87,810.88 256.99,811.38 257.10,811.88 257.22,812.38 257.33,812.88 257.45,813.38 257.57,813.88 257.69,814.38 257.81,814.87 257.93,815.37 258.05,815.87 258.17,816.37 258.29,816.87 258.41,817.37 258.54,817.87 258.67,818.37 258.80,818.87 258.94,819.37 259.07,819.87 259.21,820.37 259.35,820.87 259.49,821.37 259.64,821.86 259.78,822.36 259.93,822.86 260.08,823.36 260.23,823.86 260.38,824.36 260.53,824.86 260.69,825.36 260.84,825.86 261.00,826.36 261.16,826.86 261.32,827.36 261.48,827.86 261.66,828.35 261.84,828.85 262.04,829.35 262.24,829.85 262.44,830.35 262.65,830.85 262.87,831.35 263.09,831.85 263.31,832.35 263.53,832.85 263.76,833.35 263.98,833.85 264.21,834.35 264.43,834.85 264.65,835.34 264.86,835.84 265.08,836.34 265.28,836.84 265.48,837.34 265.67,837.84 265.86,838.34 266.03,838.84 266.20,839.34 266.35,839.84 266.49,840.34 266.62,840.84 266.74,841.34 266.84,841.83 266.92,842.33 266.99,842.83 267.05,843.33 267.11,843.83 267.16,844.33 267.22,844.83 267.27,845.33 267.33,845.83 267.38,846.33 267.43,846.83 267.48,847.33 267.52,847.83 267.57,848.33 267.61,848.82 267.65,849.32 267.68,849.82 267.72,850.32 267.75,850.82 267.78,851.32 267.81,851.82 267.83,852.32 267.85,852.82 267.87,853.32 267.88,853.82 267.89,854.32 267.90,854.82 267.90,855.31 267.89,855.81 267.87,856.31 267.82,856.81 267.76,857.31 267.69,857.81 267.59,858.31 267.49,858.81 267.37,859.31 267.23,859.81 267.09,860.31 266.93,860.81 266.77,861.31 266.59,861.81 266.41,862.30 266.22,862.80 266.03,863.30 265.83,863.80 265.62,864.30 265.41,864.80 265.20,865.30 L175.20,865.30 174.99,864.80 174.78,864.30 174.57,863.80 174.37,863.30 174.18,862.80 173.99,862.30 173.81,861.81 173.63,861.31 173.47,860.81 173.31,860.31 173.17,859.81 173.03,859.31 172.91,858.81 172.81,858.31 172.71,857.81 172.64,857.31 172.58,856.81 172.53,856.31 172.51,855.81 172.50,855.31 172.50,854.82 172.51,854.32 172.52,853.82 172.53,853.32 172.55,852.82 172.57,852.32 172.59,851.82 172.62,851.32 172.65,850.82 172.68,850.32 172.72,849.82 172.75,849.32 172.79,848.82 172.83,848.33 172.88,847.83 172.92,847.33 172.97,846.83 173.02,846.33 173.07,845.83 173.13,845.33 173.18,844.83 173.24,844.33 173.29,843.83 173.35,843.33 173.41,842.83 173.48,842.33 173.56,841.83 173.66,841.34 173.78,840.84 173.91,840.34 174.05,839.84 174.20,839.34 174.37,838.84 174.54,838.34 174.73,837.84 174.92,837.34 175.12,836.84 175.32,836.34 175.54,835.84 175.75,835.34 175.97,834.85 176.19,834.35 176.42,833.85 176.64,833.35 176.87,832.85 177.09,832.35 177.31,831.85 177.53,831.35 177.75,830.85 177.96,830.35 178.16,829.85 178.36,829.35 178.56,828.85 178.74,828.35 178.92,827.86 179.08,827.36 179.24,826.86 179.40,826.36 179.56,825.86 179.71,825.36 179.87,824.86 180.02,824.36 180.17,823.86 180.32,823.36 180.47,822.86 180.62,822.36 180.76,821.86 180.91,821.37 181.05,820.87 181.19,820.37 181.33,819.87 181.46,819.37 181.60,818.87 181.73,818.37 181.86,817.87 181.99,817.37 182.11,816.87 182.23,816.37 182.35,815.87 182.47,815.37 182.59,814.87 182.71,814.38 182.83,813.88 182.95,813.38 183.07,812.88 183.18,812.38 183.30,811.88 183.41,811.38 183.53,810.88 183.64,810.38 183.75,809.88 183.87,809.38 183.98,808.88 184.08,808.38 184.19,807.89 184.30,807.39 184.40,806.89 184.51,806.39 184.61,805.89 184.71,805.39 184.81,804.89 184.90,804.39 185.00,803.89 185.09,803.39 185.18,802.89 185.26,802.39 185.35,801.89 185.43,801.39 185.51,800.90 185.59,800.40 185.67,799.90 185.74,799.40 185.81,798.90 185.87,798.40 185.94,797.90 186.00,797.40 186.06,796.90 186.12,796.40 186.17,795.90 186.23,795.40 186.28,794.90 186.33,794.41 186.38,793.91 186.43,793.41 186.48,792.91 186.52,792.41 186.57,791.91 186.61,791.41 186.66,790.91 186.70,790.41 186.74,789.91 186.78,789.41 186.82,788.91 186.86,788.41 186.90,787.91 186.94,787.42 186.98,786.92 187.02,786.42 187.06,785.92 187.10,785.42 187.14,784.92 187.18,784.42 187.22,783.92 187.26,783.42 187.30,782.92 187.34,782.42 187.38,781.92 187.43,781.42 187.47,780.93 187.51,780.43 187.56,779.93 187.61,779.43 187.66,778.93 187.71,778.43 187.76,777.93 187.81,777.43 187.86,776.93 187.92,776.43 187.98,775.93 188.03,775.43 188.09,774.93 188.15,774.43 188.21,773.94 188.27,773.44 188.33,772.94 188.39,772.44 188.46,771.94 188.52,771.44 188.59,770.94 188.65,770.44 188.72,769.94 188.78,769.44 188.85,768.94 188.92,768.44 188.99,767.94 189.05,767.45 189.12,766.95 189.19,766.45 189.27,765.95 189.34,765.45 189.41,764.95 189.48,764.45 189.56,763.95 189.63,763.45 189.70,762.95 189.78,762.45 189.86,761.95 189.93,761.45 190.01,760.95 190.09,760.46 190.16,759.96 190.24,759.46 190.32,758.96 190.40,758.46 190.48,757.96 190.56,757.46 190.64,756.96 190.72,756.46 190.81,755.96 190.89,755.46 190.97,754.96 191.05,754.46 191.14,753.97 191.22,753.47 191.31,752.97 191.40,752.47 191.48,751.97 191.58,751.47 191.67,750.97 191.76,750.47 191.86,749.97 191.95,749.47 192.05,748.97 192.15,748.47 192.25,747.97 192.35,747.47 192.45,746.98 192.55,746.48 192.65,745.98 192.76,745.48 192.86,744.98 192.97,744.48 193.07,743.98 193.18,743.48 193.28,742.98 193.39,742.48 193.49,741.98 193.60,741.48 193.70,740.98 193.81,740.49 193.91,739.99 194.02,739.49 194.12,738.99 194.23,738.49 194.33,737.99 194.44,737.49 194.54,736.99 194.64,736.49 194.74,735.99 194.84,735.49 194.94,734.99 195.04,734.49 195.15,733.99 195.25,733.50 195.35,733.00 195.46,732.50 195.56,732.00 195.67,731.50 195.78,731.00 195.88,730.50 195.99,730.00 196.10,729.50 196.21,729.00 196.31,728.50 196.42,728.00 196.53,727.50 196.64,727.01 196.75,726.51 196.86,726.01 196.96,725.51 197.07,725.01 197.18,724.51 197.29,724.01 197.39,723.51 197.50,723.01 197.60,722.51 197.71,722.01 197.81,721.51 197.92,721.01 198.02,720.51 198.12,720.02 198.22,719.52 198.32,719.02 198.42,718.52 198.52,718.02 198.61,717.52 198.71,717.02 198.80,716.52 198.90,716.02 198.99,715.52 199.08,715.02 199.17,714.52 199.25,714.02 199.34,713.53 199.42,713.03 199.50,712.53 199.58,712.03 199.66,711.53 199.74,711.03 199.81,710.53 199.88,710.03 199.95,709.53 200.02,709.03 200.09,708.53 200.16,708.03 200.22,707.53 200.29,707.03 200.35,706.54 200.41,706.04 200.47,705.54 200.53,705.04 200.59,704.54 200.65,704.04 200.71,703.54 200.76,703.04 200.82,702.54 200.88,702.04 200.93,701.54 200.99,701.04 201.04,700.54 201.10,700.05 201.15,699.55 201.21,699.05 201.26,698.55 201.31,698.05 201.37,697.55 201.42,697.05 201.48,696.55 201.53,696.05 201.59,695.55 201.65,695.05 201.70,694.55 201.76,694.05 201.82,693.55 201.87,693.06 201.93,692.56 201.99,692.06 202.05,691.56 202.11,691.06 202.17,690.56 202.23,690.06 202.29,689.56 202.35,689.06 202.41,688.56 202.47,688.06 202.53,687.56 202.59,687.06 202.65,686.57 202.71,686.07 202.77,685.57 202.83,685.07 202.89,684.57 202.95,684.07 203.01,683.57 203.07,683.07 203.13,682.57 203.19,682.07 203.25,681.57 203.31,681.07 203.37,680.57 203.43,680.07 203.49,679.58 203.56,679.08 203.62,678.58 203.68,678.08 203.74,677.58 203.81,677.08 203.87,676.58 203.93,676.08 204.00,675.58 204.06,675.08 204.13,674.58 204.19,674.08 204.26,673.58 204.33,673.09 204.39,672.59 204.46,672.09 204.53,671.59 204.60,671.09 204.67,670.59 204.75,670.09 204.82,669.59 204.90,669.09 204.98,668.59 205.06,668.09 205.14,667.59 205.22,667.09 205.31,666.59 205.39,666.10 205.48,665.60 205.56,665.10 205.65,664.60 205.74,664.10 205.82,663.60 205.91,663.10 206.00,662.60 206.08,662.10 206.17,661.60 206.25,661.10 206.34,660.60 206.42,660.10 206.50,659.61 206.59,659.11 206.67,658.61 206.75,658.11 206.82,657.61 206.90,657.11 206.98,656.61 207.05,656.11 207.12,655.61 207.19,655.11 207.25,654.61 207.32,654.11 207.38,653.61 207.44,653.11 207.49,652.62 207.55,652.12 207.60,651.62 207.65,651.12 207.69,650.62 207.74,650.12 207.78,649.62 207.83,649.12 207.87,648.62 207.91,648.12 207.95,647.62 207.99,647.12 208.03,646.62 208.07,646.13 208.11,645.63 208.14,645.13 208.18,644.63 208.22,644.13 208.25,643.63 208.28,643.13 208.32,642.63 208.35,642.13 208.38,641.63 208.42,641.13 208.45,640.63 208.48,640.13 208.51,639.63 208.54,639.14 208.58,638.64 208.61,638.14 208.64,637.64 208.67,637.14 208.70,636.64 208.73,636.14 208.76,635.64 208.79,635.14 208.82,634.64 208.85,634.14 208.88,633.64 208.91,633.14 208.93,632.65 208.96,632.15 208.99,631.65 209.01,631.15 209.04,630.65 209.06,630.15 209.09,629.65 209.11,629.15 209.14,628.65 209.16,628.15 209.19,627.65 209.21,627.15 209.24,626.65 209.26,626.15 209.29,625.66 209.32,625.16 209.35,624.66 209.37,624.16 209.40,623.66 209.44,623.16 209.47,622.66 209.50,622.16 209.54,621.66 209.58,621.16 209.61,620.66 209.66,620.16 209.70,619.66 209.74,619.17 209.79,618.67 209.83,618.17 209.88,617.67 209.93,617.17 209.97,616.67 210.02,616.17 210.07,615.67 210.12,615.17 210.17,614.67 210.23,614.17 210.28,613.67 210.33,613.17 210.38,612.67 210.43,612.18 210.48,611.68 210.53,611.18 210.58,610.68 210.63,610.18 210.67,609.68 210.72,609.18 210.77,608.68 210.81,608.18 210.86,607.68 210.90,607.18 210.95,606.68 210.99,606.18 211.04,605.69 211.08,605.19 211.12,604.69 211.17,604.19 211.21,603.69 211.26,603.19 211.30,602.69 211.35,602.19 211.39,601.69 211.44,601.19 211.48,600.69 211.53,600.19 211.58,599.69 211.63,599.19 211.68,598.70 211.73,598.20 211.78,597.70 211.83,597.20 211.89,596.70 211.94,596.20 212.00,595.70 212.06,595.20 212.12,594.70 212.18,594.20 212.25,593.70 212.31,593.20 212.38,592.70 212.44,592.21 212.51,591.71 212.58,591.21 212.65,590.71 212.72,590.21 212.79,589.71 212.86,589.21 212.93,588.71 213.00,588.21 213.07,587.71 213.14,587.21 213.21,586.71 213.28,586.21 213.35,585.71 213.42,585.22 213.49,584.72 213.56,584.22 213.62,583.72 213.69,583.22 213.76,582.72 213.82,582.22 213.89,581.72 213.95,581.22 214.02,580.72 214.09,580.22 214.15,579.72 214.22,579.22 214.28,578.73 214.35,578.23 214.41,577.73 214.48,577.23 214.55,576.73 214.61,576.23 214.68,575.73 214.74,575.23 214.81,574.73 214.88,574.23 214.94,573.73 215.01,573.23 215.08,572.73 215.15,572.23 215.21,571.74 215.28,571.24 215.35,570.74 215.42,570.24 215.49,569.74 215.57,569.24 215.64,568.74 215.72,568.24 215.79,567.74 215.87,567.24 215.94,566.74 216.02,566.24 216.10,565.74 216.17,565.25 216.25,564.75 216.33,564.25 216.40,563.75 216.47,563.25 216.55,562.75 216.62,562.25 216.69,561.75 216.75,561.25 216.82,560.75 216.88,560.25 216.94,559.75 217.00,559.25 217.05,558.75 217.10,558.26 217.15,557.76 217.20,557.26 217.25,556.76 217.30,556.26 217.34,555.76 217.39,555.26 217.43,554.76 217.47,554.26 217.52,553.76 217.56,553.26 217.60,552.76 217.64,552.26 217.68,551.77 217.71,551.27 217.75,550.77 217.79,550.27 217.82,549.77 217.86,549.27 217.89,548.77 217.93,548.27 217.96,547.77 217.99,547.27 218.02,546.77 218.05,546.27 218.08,545.77 218.11,545.27 218.14,544.78 218.17,544.28 218.20,543.78 218.23,543.28 218.26,542.78 218.29,542.28 218.31,541.78 218.34,541.28 218.37,540.78 218.39,540.28 218.42,539.78 218.45,539.28 218.47,538.78 218.50,538.29 218.52,537.79 218.55,537.29 218.57,536.79 218.59,536.29 218.62,535.79 218.64,535.29 218.66,534.79 218.68,534.29 218.71,533.79 218.73,533.29 218.75,532.79 218.77,532.29 218.78,531.79 218.80,531.30 218.82,530.80 218.84,530.30 218.85,529.80 218.87,529.30 218.89,528.80 218.90,528.30 Z" fill="#f19b15" fill-opacity="0.5" stroke="#333" stroke-width="0.7"/>
<line x1="199.80" y1="710.6" x2="240.60" y2="710.6" stroke="#333" stroke-opacity="0.48" stroke-width="1.25"/>
<line x1="187.90" y1="776.6" x2="252.50" y2="776.6" stroke="#333" stroke-opacity="0.48" stroke-width="1.25"/>
<line x1="179.04" y1="827.5" x2="261.36" y2="827.5" stroke="#333" stroke-opacity="0.48" stroke-width="1.25"/>
<path d="M311.65,520.20 L340.65,520.20 340.98,520.70 341.31,521.20 341.64,521.70 341.97,522.20 342.30,522.70 342.62,523.20 342.95,523.70 343.28,524.20 343.61,524.69 343.93,525.19 344.26,525.69 344.59,526.19 344.91,526.69 345.24,527.19 345.56,527.69 345.88,528.19 346.21,528.69 346.53,529.19 346.85,529.69 347.18,530.19 347.50,530.69 347.82,531.19 348.14,531.69 348.46,532.19 348.78,532.69 349.10,533.18 349.42,533.68 349.74,534.18 350.06,534.68 350.38,535.18 350.69,535.68 351.01,536.18 351.34,536.68 351.66,537.18 351.99,537.68 352.31,538.18 352.64,538.68 352.97,539.18 353.31,539.68 353.64,540.18 353.97,540.68 354.30,541.18 354.63,541.68 354.97,542.17 355.30,542.67 355.63,543.17 355.96,543.67 356.29,544.17 356.62,544.67 356.94,545.17 357.27,545.67 357.59,546.17 357.91,546.67 358.23,547.17 358.55,547.67 358.86,548.17 359.17,548.67 359.48,549.17 359.78,549.67 360.08,550.17 360.38,550.66 360.67,551.16 360.96,551.66 361.24,552.16 361.52,552.66 361.79,553.16 362.06,553.66 362.32,554.16 362.58,554.66 362.83,555.16 363.08,555.66 363.32,556.16 363.57,556.66 363.81,557.16 364.06,557.66 364.30,558.16 364.55,558.66 364.79,559.15 365.04,559.65 365.28,560.15 365.52,560.65 365.76,561.15 366.00,561.65 366.24,562.15 366.47,562.65 366.71,563.15 366.94,563.65 367.17,564.15 367.39,564.65 367.61,565.15 367.83,565.65 368.04,566.15 368.25,566.65 368.46,567.15 368.66,567.65 368.86,568.14 369.05,568.64 369.24,569.14 369.42,569.64 369.60,570.14 369.77,570.64 369.94,571.14 370.10,571.64 370.25,572.14 370.39,572.64 370.53,573.14 370.67,573.64 370.79,574.14 370.91,574.64 371.02,575.14 371.12,575.64 371.21,576.14 371.31,576.63 371.40,577.13 371.49,577.63 371.57,578.13 371.66,578.63 371.74,579.13 371.83,579.63 371.91,580.13 371.99,580.63 372.06,581.13 372.14,581.63 372.21,582.13 372.29,582.63 372.36,583.13 372.43,583.63 372.50,584.13 372.56,584.63 372.63,585.12 372.69,585.62 372.75,586.12 372.81,586.62 372.87,587.12 372.93,587.62 372.98,588.12 373.04,588.62 373.09,589.12 373.14,589.62 373.19,590.12 373.23,590.62 373.28,591.12 373.32,591.62 373.37,592.12 373.41,592.62 373.45,593.12 373.49,593.61 373.52,594.11 373.56,594.61 373.59,595.11 373.63,595.61 373.66,596.11 373.69,596.61 373.72,597.11 373.75,597.61 373.78,598.11 373.81,598.61 373.84,599.11 373.86,599.61 373.89,600.11 373.91,600.61 373.92,601.11 373.94,601.61 373.95,602.11 373.95,602.60 373.95,603.10 373.95,603.60 373.95,604.10 373.94,604.60 373.94,605.10 373.93,605.60 373.93,606.10 373.92,606.60 373.91,607.10 373.90,607.60 373.90,608.10 373.89,608.60 373.87,609.10 373.86,609.60 373.85,610.10 373.84,610.60 373.82,611.09 373.81,611.59 373.79,612.09 373.78,612.59 373.76,613.09 373.74,613.59 373.73,614.09 373.71,614.59 373.69,615.09 373.67,615.59 373.65,616.09 373.63,616.59 373.61,617.09 373.59,617.59 373.56,618.09 373.54,618.59 373.52,619.09 373.49,619.58 373.47,620.08 373.45,620.58 373.42,621.08 373.40,621.58 373.37,622.08 373.35,622.58 373.32,623.08 373.30,623.58 373.27,624.08 373.24,624.58 373.22,625.08 373.19,625.58 373.16,626.08 373.13,626.58 373.10,627.08 373.07,627.58 373.03,628.07 372.99,628.57 372.94,629.07 372.90,629.57 372.85,630.07 372.79,630.57 372.74,631.07 372.68,631.57 372.62,632.07 372.56,632.57 372.49,633.07 372.43,633.57 372.36,634.07 372.29,634.57 372.22,635.07 372.15,635.57 372.08,636.07 372.00,636.57 371.93,637.06 371.85,637.56 371.78,638.06 371.70,638.56 371.63,639.06 371.55,639.56 371.47,640.06 371.40,640.56 371.32,641.06 371.25,641.56 371.17,642.06 371.10,642.56 371.03,643.06 370.95,643.56 370.88,644.06 370.81,644.56 370.75,645.06 370.68,645.55 370.62,646.05 370.56,646.55 370.49,647.05 370.43,647.55 370.37,648.05 370.31,648.55 370.25,649.05 370.19,649.55 370.13,650.05 370.07,650.55 370.01,651.05 369.95,651.55 369.88,652.05 369.82,652.55 369.76,653.05 369.70,653.55 369.64,654.04 369.58,654.54 369.52,655.04 369.46,655.54 369.40,656.04 369.34,656.54 369.28,657.04 369.22,657.54 369.16,658.04 369.11,658.54 369.05,659.04 368.99,659.54 368.93,660.04 368.88,660.54 368.82,661.04 368.76,661.54 368.71,662.04 368.65,662.54 368.60,663.03 368.55,663.53 368.49,664.03 368.44,664.53 368.39,665.03 368.34,665.53 368.29,666.03 368.24,666.53 368.19,667.03 368.14,667.53 368.09,668.03 368.04,668.53 368.00,669.03 367.95,669.53 367.91,670.03 367.87,670.53 367.83,671.03 367.79,671.52 367.75,672.02 367.71,672.52 367.67,673.02 367.63,673.52 367.59,674.02 367.55,674.52 367.51,675.02 367.48,675.52 367.44,676.02 367.40,676.52 367.36,677.02 367.32,677.52 367.28,678.02 367.24,678.52 367.20,679.02 367.16,679.52 367.12,680.01 367.08,680.51 367.03,681.01 366.99,681.51 366.94,682.01 366.90,682.51 366.85,683.01 366.80,683.51 366.75,684.01 366.70,684.51 366.64,685.01 366.59,685.51 366.53,686.01 366.47,686.51 366.42,687.01 366.35,687.51 366.29,688.01 366.23,688.50 366.17,689.00 366.10,689.50 366.04,690.00 365.97,690.50 365.91,691.00 365.84,691.50 365.77,692.00 365.70,692.50 365.63,693.00 365.56,693.50 365.49,694.00 365.42,694.50 365.35,695.00 365.28,695.50 365.21,696.00 365.14,696.50 365.07,697.00 364.99,697.49 364.92,697.99 364.85,698.49 364.78,698.99 364.71,699.49 364.64,699.99 364.56,700.49 364.49,700.99 364.42,701.49 364.35,701.99 364.28,702.49 364.21,702.99 364.14,703.49 364.07,703.99 363.99,704.49 363.92,704.99 363.85,705.49 363.77,705.98 363.70,706.48 363.63,706.98 363.55,707.48 363.48,707.98 363.40,708.48 363.33,708.98 363.25,709.48 363.18,709.98 363.10,710.48 363.02,710.98 362.95,711.48 362.87,711.98 362.80,712.48 362.72,712.98 362.64,713.48 362.57,713.98 362.49,714.47 362.41,714.97 362.34,715.47 362.26,715.97 362.18,716.47 362.11,716.97 362.03,717.47 361.95,717.97 361.88,718.47 361.80,718.97 361.73,719.47 361.65,719.97 361.57,720.47 361.50,720.97 361.42,721.47 361.35,721.97 361.27,722.47 361.20,722.96 361.12,723.46 361.05,723.96 360.97,724.46 360.90,724.96 360.82,725.46 360.75,725.96 360.67,726.46 360.60,726.96 360.53,727.46 360.45,727.96 360.38,728.46 360.31,728.96 360.23,729.46 360.16,729.96 360.08,730.46 360.01,730.96 359.94,731.46 359.86,731.95 359.79,732.45 359.72,732.95 359.64,733.45 359.57,733.95 359.49,734.45 359.42,734.95 359.35,735.45 359.27,735.95 359.20,736.45 359.12,736.95 359.05,737.45 358.97,737.95 358.90,738.45 358.82,738.95 358.74,739.45 358.67,739.95 358.59,740.44 358.52,740.94 358.44,741.44 358.36,741.94 358.28,742.44 358.20,742.94 358.13,743.44 358.05,743.94 357.97,744.44 357.89,744.94 357.81,745.44 357.73,745.94 357.64,746.44 357.56,746.94 357.48,747.44 357.39,747.94 357.31,748.44 357.22,748.93 357.14,749.43 357.05,749.93 356.96,750.43 356.87,750.93 356.78,751.43 356.69,751.93 356.60,752.43 356.51,752.93 356.42,753.43 356.33,753.93 356.24,754.43 356.15,754.93 356.06,755.43 355.97,755.93 355.87,756.43 355.78,756.93 355.69,757.43 355.60,757.92 355.51,758.42 355.42,758.92 355.33,759.42 355.24,759.92 355.15,760.42 355.06,760.92 354.97,761.42 354.89,761.92 354.80,762.42 354.71,762.92 354.63,763.42 354.55,763.92 354.46,764.42 354.38,764.92 354.30,765.42 354.22,765.92 354.14,766.41 354.06,766.91 353.97,767.41 353.89,767.91 353.81,768.41 353.73,768.91 353.65,769.41 353.57,769.91 353.49,770.41 353.41,770.91 353.34,771.41 353.26,771.91 353.18,772.41 353.10,772.91 353.02,773.41 352.94,773.91 352.87,774.41 352.79,774.90 352.71,775.40 352.64,775.90 352.56,776.40 352.49,776.90 352.41,777.40 352.34,777.90 352.26,778.40 352.19,778.90 352.11,779.40 352.04,779.90 351.97,780.40 351.90,780.90 351.83,781.40 351.76,781.90 351.69,782.40 351.62,782.90 351.55,783.39 351.48,783.89 351.41,784.39 351.35,784.89 351.28,785.39 351.22,785.89 351.15,786.39 351.09,786.89 351.02,787.39 350.95,787.89 350.89,788.39 350.82,788.89 350.75,789.39 350.69,789.89 350.62,790.39 350.55,790.89 350.48,791.39 350.41,791.89 350.34,792.38 350.28,792.88 350.21,793.38 350.14,793.88 350.07,794.38 350.01,794.88 349.94,795.38 349.88,795.88 349.81,796.38 349.75,796.88 349.69,797.38 349.63,797.88 349.56,798.38 349.51,798.88 349.45,799.38 349.39,799.88 349.34,800.38 349.28,800.87 349.23,801.37 349.18,801.87 349.13,802.37 349.09,802.87 349.04,803.37 349.00,803.87 348.96,804.37 348.92,804.87 348.88,805.37 348.85,805.87 348.82,806.37 348.79,806.87 348.77,807.37 348.74,807.87 348.72,808.37 348.70,808.87 348.68,809.36 348.66,809.86 348.64,810.36 348.62,810.86 348.60,811.36 348.58,811.86 348.56,812.36 348.54,812.86 348.52,813.36 348.51,813.86 348.49,814.36 348.47,814.86 348.46,815.36 348.44,815.86 348.42,816.36 348.41,816.86 348.39,817.36 348.38,817.85 348.37,818.35 348.35,818.85 348.34,819.35 348.33,819.85 348.31,820.35 348.30,820.85 348.29,821.35 348.28,821.85 348.27,822.35 348.26,822.85 348.25,823.35 348.24,823.85 348.23,824.35 348.22,824.85 348.21,825.35 348.20,825.85 348.19,826.35 348.18,826.84 348.17,827.34 348.17,827.84 348.16,828.34 348.15,828.84 348.14,829.34 348.14,829.84 348.13,830.34 348.13,830.84 348.12,831.34 348.11,831.84 348.11,832.34 348.11,832.84 348.10,833.34 348.10,833.84 348.09,834.34 348.09,834.84 348.09,835.33 348.08,835.83 348.08,836.33 348.07,836.83 348.07,837.33 348.07,837.83 348.07,838.33 348.06,838.83 348.06,839.33 348.06,839.83 348.05,840.33 348.05,840.83 348.05,841.33 348.04,841.83 348.04,842.33 348.04,842.83 348.03,843.33 348.03,843.82 348.02,844.32 348.02,844.82 348.01,845.32 348.01,845.82 348.00,846.32 348.00,846.82 347.99,847.32 347.99,847.82 347.98,848.32 347.97,848.82 347.96,849.32 347.96,849.82 347.95,850.32 347.94,850.82 347.93,851.32 347.91,851.82 347.90,852.32 347.88,852.81 347.86,853.31 347.84,853.81 347.81,854.31 347.79,854.81 347.76,855.31 347.74,855.81 347.71,856.31 347.68,856.81 347.65,857.31 347.62,857.81 347.58,858.31 347.55,858.81 347.51,859.31 347.48,859.81 347.44,860.31 347.40,860.81 347.37,861.30 347.33,861.80 347.29,862.30 347.25,862.80 347.21,863.30 347.17,863.80 347.13,864.30 347.09,864.80 347.05,865.30 L305.25,865.30 305.21,864.80 305.17,864.30 305.13,863.80 305.09,863.30 305.05,862.80 305.01,862.30 304.97,861.80 304.93,861.30 304.90,860.81 304.86,860.31 304.82,859.81 304.79,859.31 304.75,858.81 304.72,858.31 304.68,857.81 304.65,857.31 304.62,856.81 304.59,856.31 304.56,855.81 304.54,855.31 304.51,854.81 304.49,854.31 304.46,853.81 304.44,853.31 304.42,852.81 304.40,852.32 304.39,851.82 304.37,851.32 304.36,850.82 304.35,850.32 304.34,849.82 304.34,849.32 304.33,848.82 304.32,848.32 304.31,847.82 304.31,847.32 304.30,846.82 304.30,846.32 304.29,845.82 304.29,845.32 304.28,844.82 304.28,844.32 304.27,843.82 304.27,843.33 304.26,842.83 304.26,842.33 304.26,841.83 304.25,841.33 304.25,840.83 304.25,840.33 304.24,839.83 304.24,839.33 304.24,838.83 304.23,838.33 304.23,837.83 304.23,837.33 304.23,836.83 304.22,836.33 304.22,835.83 304.21,835.33 304.21,834.84 304.21,834.34 304.20,833.84 304.20,833.34 304.19,832.84 304.19,832.34 304.19,831.84 304.18,831.34 304.17,830.84 304.17,830.34 304.16,829.84 304.16,829.34 304.15,828.84 304.14,828.34 304.13,827.84 304.13,827.34 304.12,826.84 304.11,826.35 304.10,825.85 304.09,825.35 304.08,824.85 304.07,824.35 304.06,823.85 304.05,823.35 304.04,822.85 304.03,822.35 304.02,821.85 304.01,821.35 304.00,820.85 303.99,820.35 303.97,819.85 303.96,819.35 303.95,818.85 303.93,818.35 303.92,817.85 303.91,817.36 303.89,816.86 303.88,816.36 303.86,815.86 303.84,815.36 303.83,814.86 303.81,814.36 303.79,813.86 303.78,813.36 303.76,812.86 303.74,812.36 303.72,811.86 303.70,811.36 303.68,810.86 303.66,810.36 303.64,809.86 303.62,809.36 303.60,808.87 303.58,808.37 303.56,807.87 303.53,807.37 303.51,806.87 303.48,806.37 303.45,805.87 303.42,805.37 303.38,804.87 303.34,804.37 303.30,803.87 303.26,803.37 303.21,802.87 303.17,802.37 303.12,801.87 303.07,801.37 303.02,800.87 302.96,800.38 302.91,799.88 302.85,799.38 302.79,798.88 302.74,798.38 302.67,797.88 302.61,797.38 302.55,796.88 302.49,796.38 302.42,795.88 302.36,795.38 302.29,794.88 302.23,794.38 302.16,793.88 302.09,793.38 302.02,792.88 301.96,792.38 301.89,791.89 301.82,791.39 301.75,790.89 301.68,790.39 301.61,789.89 301.55,789.39 301.48,788.89 301.41,788.39 301.35,787.89 301.28,787.39 301.21,786.89 301.15,786.39 301.08,785.89 301.02,785.39 300.95,784.89 300.89,784.39 300.82,783.89 300.75,783.39 300.68,782.90 300.61,782.40 300.54,781.90 300.47,781.40 300.40,780.90 300.33,780.40 300.26,779.90 300.19,779.40 300.11,778.90 300.04,778.40 299.96,777.90 299.89,777.40 299.81,776.90 299.74,776.40 299.66,775.90 299.59,775.40 299.51,774.90 299.43,774.41 299.36,773.91 299.28,773.41 299.20,772.91 299.12,772.41 299.04,771.91 298.96,771.41 298.89,770.91 298.81,770.41 298.73,769.91 298.65,769.41 298.57,768.91 298.49,768.41 298.41,767.91 298.33,767.41 298.24,766.91 298.16,766.41 298.08,765.92 298.00,765.42 297.92,764.92 297.84,764.42 297.75,763.92 297.67,763.42 297.59,762.92 297.50,762.42 297.41,761.92 297.33,761.42 297.24,760.92 297.15,760.42 297.06,759.92 296.97,759.42 296.88,758.92 296.79,758.42 296.70,757.92 296.61,757.43 296.52,756.93 296.43,756.43 296.33,755.93 296.24,755.43 296.15,754.93 296.06,754.43 295.97,753.93 295.88,753.43 295.79,752.93 295.70,752.43 295.61,751.93 295.52,751.43 295.43,750.93 295.34,750.43 295.25,749.93 295.16,749.43 295.08,748.93 294.99,748.44 294.91,747.94 294.82,747.44 294.74,746.94 294.66,746.44 294.57,745.94 294.49,745.44 294.41,744.94 294.33,744.44 294.25,743.94 294.17,743.44 294.10,742.94 294.02,742.44 293.94,741.94 293.86,741.44 293.78,740.94 293.71,740.44 293.63,739.95 293.56,739.45 293.48,738.95 293.40,738.45 293.33,737.95 293.25,737.45 293.18,736.95 293.10,736.45 293.03,735.95 292.95,735.45 292.88,734.95 292.81,734.45 292.73,733.95 292.66,733.45 292.58,732.95 292.51,732.45 292.44,731.95 292.36,731.46 292.29,730.96 292.22,730.46 292.14,729.96 292.07,729.46 291.99,728.96 291.92,728.46 291.85,727.96 291.77,727.46 291.70,726.96 291.63,726.46 291.55,725.96 291.48,725.46 291.40,724.96 291.33,724.46 291.25,723.96 291.18,723.46 291.10,722.96 291.03,722.47 290.95,721.97 290.88,721.47 290.80,720.97 290.73,720.47 290.65,719.97 290.57,719.47 290.50,718.97 290.42,718.47 290.35,717.97 290.27,717.47 290.19,716.97 290.12,716.47 290.04,715.97 289.96,715.47 289.89,714.97 289.81,714.47 289.73,713.98 289.66,713.48 289.58,712.98 289.50,712.48 289.43,711.98 289.35,711.48 289.28,710.98 289.20,710.48 289.12,709.98 289.05,709.48 288.97,708.98 288.90,708.48 288.82,707.98 288.75,707.48 288.67,706.98 288.60,706.48 288.53,705.98 288.45,705.49 288.38,704.99 288.31,704.49 288.23,703.99 288.16,703.49 288.09,702.99 288.02,702.49 287.95,701.99 287.88,701.49 287.81,700.99 287.74,700.49 287.66,699.99 287.59,699.49 287.52,698.99 287.45,698.49 287.38,697.99 287.31,697.49 287.23,697.00 287.16,696.50 287.09,696.00 287.02,695.50 286.95,695.00 286.88,694.50 286.81,694.00 286.74,693.50 286.67,693.00 286.60,692.50 286.53,692.00 286.46,691.50 286.39,691.00 286.33,690.50 286.26,690.00 286.20,689.50 286.13,689.00 286.07,688.50 286.01,688.01 285.95,687.51 285.88,687.01 285.83,686.51 285.77,686.01 285.71,685.51 285.66,685.01 285.60,684.51 285.55,684.01 285.50,683.51 285.45,683.01 285.40,682.51 285.36,682.01 285.31,681.51 285.27,681.01 285.22,680.51 285.18,680.01 285.14,679.52 285.10,679.02 285.06,678.52 285.02,678.02 284.98,677.52 284.94,677.02 284.90,676.52 284.86,676.02 284.82,675.52 284.79,675.02 284.75,674.52 284.71,674.02 284.67,673.52 284.63,673.02 284.59,672.52 284.55,672.02 284.51,671.52 284.47,671.03 284.43,670.53 284.39,670.03 284.35,669.53 284.30,669.03 284.26,668.53 284.21,668.03 284.16,667.53 284.11,667.03 284.06,666.53 284.01,666.03 283.96,665.53 283.91,665.03 283.86,664.53 283.81,664.03 283.75,663.53 283.70,663.03 283.65,662.54 283.59,662.04 283.54,661.54 283.48,661.04 283.42,660.54 283.37,660.04 283.31,659.54 283.25,659.04 283.19,658.54 283.14,658.04 283.08,657.54 283.02,657.04 282.96,656.54 282.90,656.04 282.84,655.54 282.78,655.04 282.72,654.54 282.66,654.04 282.60,653.55 282.54,653.05 282.48,652.55 282.42,652.05 282.35,651.55 282.29,651.05 282.23,650.55 282.17,650.05 282.11,649.55 282.05,649.05 281.99,648.55 281.93,648.05 281.87,647.55 281.81,647.05 281.74,646.55 281.68,646.05 281.62,645.55 281.55,645.06 281.49,644.56 281.42,644.06 281.35,643.56 281.27,643.06 281.20,642.56 281.13,642.06 281.05,641.56 280.98,641.06 280.90,640.56 280.83,640.06 280.75,639.56 280.67,639.06 280.60,638.56 280.52,638.06 280.45,637.56 280.37,637.06 280.30,636.57 280.22,636.07 280.15,635.57 280.08,635.07 280.01,634.57 279.94,634.07 279.87,633.57 279.81,633.07 279.74,632.57 279.68,632.07 279.62,631.57 279.56,631.07 279.51,630.57 279.45,630.07 279.40,629.57 279.36,629.07 279.31,628.57 279.27,628.07 279.23,627.58 279.20,627.08 279.17,626.58 279.14,626.08 279.11,625.58 279.08,625.08 279.06,624.58 279.03,624.08 279.00,623.58 278.98,623.08 278.95,622.58 278.93,622.08 278.90,621.58 278.88,621.08 278.85,620.58 278.83,620.08 278.81,619.58 278.78,619.09 278.76,618.59 278.74,618.09 278.71,617.59 278.69,617.09 278.67,616.59 278.65,616.09 278.63,615.59 278.61,615.09 278.59,614.59 278.57,614.09 278.56,613.59 278.54,613.09 278.52,612.59 278.51,612.09 278.49,611.59 278.48,611.09 278.46,610.60 278.45,610.10 278.44,609.60 278.43,609.10 278.41,608.60 278.40,608.10 278.40,607.60 278.39,607.10 278.38,606.60 278.37,606.10 278.37,605.60 278.36,605.10 278.36,604.60 278.35,604.10 278.35,603.60 278.35,603.10 278.35,602.60 278.35,602.11 278.36,601.61 278.38,601.11 278.39,600.61 278.41,600.11 278.44,599.61 278.46,599.11 278.49,598.61 278.52,598.11 278.55,597.61 278.58,597.11 278.61,596.61 278.64,596.11 278.67,595.61 278.71,595.11 278.74,594.61 278.78,594.11 278.81,593.61 278.85,593.12 278.89,592.62 278.93,592.12 278.98,591.62 279.02,591.12 279.07,590.62 279.11,590.12 279.16,589.62 279.21,589.12 279.26,588.62 279.32,588.12 279.37,587.62 279.43,587.12 279.49,586.62 279.55,586.12 279.61,585.62 279.67,585.12 279.74,584.63 279.80,584.13 279.87,583.63 279.94,583.13 280.01,582.63 280.09,582.13 280.16,581.63 280.24,581.13 280.31,580.63 280.39,580.13 280.47,579.63 280.56,579.13 280.64,578.63 280.73,578.13 280.81,577.63 280.90,577.13 280.99,576.63 281.09,576.14 281.18,575.64 281.28,575.14 281.39,574.64 281.51,574.14 281.63,573.64 281.77,573.14 281.91,572.64 282.05,572.14 282.20,571.64 282.36,571.14 282.53,570.64 282.70,570.14 282.88,569.64 283.06,569.14 283.25,568.64 283.44,568.14 283.64,567.65 283.84,567.15 284.05,566.65 284.26,566.15 284.47,565.65 284.69,565.15 284.91,564.65 285.13,564.15 285.36,563.65 285.59,563.15 285.83,562.65 286.06,562.15 286.30,561.65 286.54,561.15 286.78,560.65 287.02,560.15 287.26,559.65 287.51,559.15 287.75,558.66 288.00,558.16 288.24,557.66 288.49,557.16 288.73,556.66 288.98,556.16 289.22,555.66 289.47,555.16 289.72,554.66 289.98,554.16 290.24,553.66 290.51,553.16 290.78,552.66 291.06,552.16 291.34,551.66 291.63,551.16 291.92,550.66 292.22,550.17 292.52,549.67 292.82,549.17 293.13,548.67 293.44,548.17 293.75,547.67 294.07,547.17 294.39,546.67 294.71,546.17 295.03,545.67 295.36,545.17 295.68,544.67 296.01,544.17 296.34,543.67 296.67,543.17 297.00,542.67 297.33,542.17 297.67,541.68 298.00,541.18 298.33,540.68 298.66,540.18 298.99,539.68 299.33,539.18 299.66,538.68 299.99,538.18 300.31,537.68 300.64,537.18 300.96,536.68 301.29,536.18 301.61,535.68 301.92,535.18 302.24,534.68 302.56,534.18 302.88,533.68 303.20,533.18 303.52,532.69 303.84,532.19 304.16,531.69 304.48,531.19 304.80,530.69 305.12,530.19 305.45,529.69 305.77,529.19 306.09,528.69 306.42,528.19 306.74,527.69 307.06,527.19 307.39,526.69 307.71,526.19 308.04,525.69 308.37,525.19 308.69,524.69 309.02,524.20 309.35,523.70 309.68,523.20 310.00,522.70 310.33,522.20 310.66,521.70 310.99,521.20 311.32,520.70 311.65,520.20 Z" fill="#7fad41" fill-opacity="0.5" stroke="#333" stroke-width="0.7"/>
<line x1="278.35" y1="602.7" x2="373.95" y2="602.7" stroke="#333" stroke-opacity="0.48" stroke-width="1.25"/>
<line x1="284.15" y1="667.4" x2="368.15" y2="667.4" stroke="#333" stroke-opacity="0.48" stroke-width="1.25"/>
<line x1="294.65" y1="746.4" x2="357.65" y2="746.4" stroke="#333" stroke-opacity="0.48" stroke-width="1.25"/>
<path d="M417.65,526.60 L446.45,526.60 446.83,527.10 447.21,527.60 447.59,528.10 447.96,528.60 448.33,529.10 448.70,529.60 449.07,530.10 449.43,530.60 449.79,531.10 450.15,531.60 450.51,532.10 450.86,532.59 451.21,533.09 451.55,533.59 451.90,534.09 452.24,534.59 452.58,535.09 452.91,535.59 453.25,536.09 453.58,536.59 453.90,537.09 454.23,537.59 454.55,538.09 454.87,538.59 455.18,539.09 455.50,539.59 455.81,540.09 456.12,540.59 456.42,541.09 456.72,541.59 457.02,542.09 457.32,542.59 457.61,543.09 457.90,543.58 458.19,544.08 458.48,544.58 458.76,545.08 459.04,545.58 459.32,546.08 459.59,546.58 459.86,547.08 460.13,547.58 460.40,548.08 460.66,548.58 460.92,549.08 461.18,549.58 461.44,550.08 461.69,550.58 461.94,551.08 462.19,551.58 462.44,552.08 462.68,552.58 462.93,553.08 463.17,553.58 463.42,554.08 463.66,554.58 463.90,555.07 464.14,555.57 464.38,556.07 464.61,556.57 464.85,557.07 465.07,557.57 465.30,558.07 465.52,558.57 465.74,559.07 465.96,559.57 466.17,560.07 466.37,560.57 466.57,561.07 466.77,561.57 466.95,562.07 467.14,562.57 467.32,563.07 467.49,563.57 467.66,564.07 467.83,564.57 467.99,565.07 468.15,565.57 468.31,566.07 468.46,566.56 468.61,567.06 468.76,567.56 468.91,568.06 469.05,568.56 469.20,569.06 469.34,569.56 469.48,570.06 469.62,570.56 469.76,571.06 469.90,571.56 470.04,572.06 470.17,572.56 470.31,573.06 470.45,573.56 470.59,574.06 470.72,574.56 470.86,575.06 470.99,575.56 471.13,576.06 471.26,576.56 471.40,577.06 471.53,577.55 471.66,578.05 471.79,578.55 471.91,579.05 472.04,579.55 472.17,580.05 472.29,580.55 472.41,581.05 472.53,581.55 472.65,582.05 472.77,582.55 472.88,583.05 472.99,583.55 473.11,584.05 473.22,584.55 473.33,585.05 473.44,585.55 473.55,586.05 473.66,586.55 473.77,587.05 473.88,587.55 473.99,588.05 474.10,588.55 474.20,589.04 474.31,589.54 474.41,590.04 474.51,590.54 474.60,591.04 474.69,591.54 474.78,592.04 474.86,592.54 474.94,593.04 475.02,593.54 475.09,594.04 475.16,594.54 475.22,595.04 475.27,595.54 475.33,596.04 475.38,596.54 475.43,597.04 475.48,597.54 475.52,598.04 475.57,598.54 475.61,599.04 475.65,599.54 475.69,600.03 475.73,600.53 475.77,601.03 475.82,601.53 475.86,602.03 475.90,602.53 475.94,603.03 475.99,603.53 476.04,604.03 476.09,604.53 476.14,605.03 476.20,605.53 476.26,606.03 476.32,606.53 476.38,607.03 476.45,607.53 476.51,608.03 476.58,608.53 476.65,609.03 476.72,609.53 476.79,610.03 476.86,610.53 476.93,611.03 477.00,611.52 477.07,612.02 477.14,612.52 477.21,613.02 477.28,613.52 477.34,614.02 477.41,614.52 477.47,615.02 477.53,615.52 477.59,616.02 477.65,616.52 477.71,617.02 477.77,617.52 477.83,618.02 477.90,618.52 477.96,619.02 478.02,619.52 478.08,620.02 478.14,620.52 478.20,621.02 478.26,621.52 478.31,622.02 478.36,622.52 478.41,623.01 478.46,623.51 478.50,624.01 478.54,624.51 478.58,625.01 478.61,625.51 478.64,626.01 478.66,626.51 478.68,627.01 478.70,627.51 478.72,628.01 478.74,628.51 478.76,629.01 478.78,629.51 478.80,630.01 478.82,630.51 478.84,631.01 478.86,631.51 478.88,632.01 478.89,632.51 478.91,633.01 478.93,633.51 478.95,634.00 478.96,634.50 478.98,635.00 479.00,635.50 479.01,636.00 479.03,636.50 479.05,637.00 479.06,637.50 479.08,638.00 479.09,638.50 479.11,639.00 479.12,639.50 479.14,640.00 479.15,640.50 479.16,641.00 479.18,641.50 479.19,642.00 479.20,642.50 479.22,643.00 479.23,643.50 479.24,644.00 479.25,644.50 479.26,645.00 479.27,645.49 479.28,645.99 479.29,646.49 479.30,646.99 479.31,647.49 479.32,647.99 479.33,648.49 479.34,648.99 479.35,649.49 479.36,649.99 479.37,650.49 479.37,650.99 479.38,651.49 479.39,651.99 479.39,652.49 479.40,652.99 479.41,653.49 479.41,653.99 479.42,654.49 479.42,654.99 479.43,655.49 479.43,655.99 479.43,656.48 479.44,656.98 479.44,657.48 479.44,657.98 479.44,658.48 479.45,658.98 479.45,659.48 479.45,659.98 479.45,660.48 479.45,660.98 479.45,661.48 479.45,661.98 479.44,662.48 479.43,662.98 479.41,663.48 479.39,663.98 479.37,664.48 479.34,664.98 479.31,665.48 479.28,665.98 479.24,666.48 479.20,666.98 479.16,667.48 479.11,667.97 479.06,668.47 479.01,668.97 478.96,669.47 478.90,669.97 478.84,670.47 478.78,670.97 478.72,671.47 478.65,671.97 478.58,672.47 478.51,672.97 478.44,673.47 478.37,673.97 478.29,674.47 478.22,674.97 478.14,675.47 478.06,675.97 477.98,676.47 477.90,676.97 477.82,677.47 477.74,677.97 477.65,678.47 477.57,678.97 477.48,679.46 477.40,679.96 477.31,680.46 477.23,680.96 477.14,681.46 477.06,681.96 476.97,682.46 476.87,682.96 476.77,683.46 476.66,683.96 476.55,684.46 476.43,684.96 476.31,685.46 476.18,685.96 476.04,686.46 475.90,686.96 475.76,687.46 475.61,687.96 475.46,688.46 475.30,688.96 475.14,689.46 474.97,689.96 474.81,690.45 474.64,690.95 474.47,691.45 474.29,691.95 474.11,692.45 473.93,692.95 473.75,693.45 473.57,693.95 473.39,694.45 473.20,694.95 473.02,695.45 472.83,695.95 472.64,696.45 472.45,696.95 472.27,697.45 472.08,697.95 471.89,698.45 471.71,698.95 471.52,699.45 471.34,699.95 471.16,700.45 470.98,700.95 470.80,701.45 470.62,701.94 470.43,702.44 470.24,702.94 470.05,703.44 469.86,703.94 469.66,704.44 469.46,704.94 469.26,705.44 469.06,705.94 468.85,706.44 468.64,706.94 468.43,707.44 468.22,707.94 468.01,708.44 467.80,708.94 467.58,709.44 467.36,709.94 467.15,710.44 466.93,710.94 466.71,711.44 466.49,711.94 466.27,712.44 466.05,712.93 465.83,713.43 465.61,713.93 465.39,714.43 465.18,714.93 464.96,715.43 464.74,715.93 464.53,716.43 464.31,716.93 464.10,717.43 463.89,717.93 463.68,718.43 463.47,718.93 463.26,719.43 463.06,719.93 462.86,720.43 462.66,720.93 462.46,721.43 462.27,721.93 462.08,722.43 461.89,722.93 461.71,723.43 461.53,723.93 461.35,724.42 461.18,724.92 461.01,725.42 460.84,725.92 460.68,726.42 460.52,726.92 460.36,727.42 460.20,727.92 460.05,728.42 459.90,728.92 459.74,729.42 459.59,729.92 459.44,730.42 459.30,730.92 459.15,731.42 459.01,731.92 458.86,732.42 458.72,732.92 458.58,733.42 458.44,733.92 458.31,734.42 458.17,734.92 458.03,735.42 457.90,735.91 457.77,736.41 457.64,736.91 457.51,737.41 457.38,737.91 457.25,738.41 457.13,738.91 457.00,739.41 456.88,739.91 456.75,740.41 456.63,740.91 456.51,741.41 456.39,741.91 456.27,742.41 456.16,742.91 456.04,743.41 455.93,743.91 455.81,744.41 455.70,744.91 455.58,745.41 455.47,745.91 455.36,746.41 455.24,746.90 455.13,747.40 455.02,747.90 454.91,748.40 454.80,748.90 454.69,749.40 454.58,749.90 454.47,750.40 454.36,750.90 454.25,751.40 454.15,751.90 454.04,752.40 453.94,752.90 453.83,753.40 453.73,753.90 453.63,754.40 453.53,754.90 453.43,755.40 453.33,755.90 453.23,756.40 453.14,756.90 453.04,757.40 452.95,757.90 452.86,758.39 452.76,758.89 452.67,759.39 452.59,759.89 452.50,760.39 452.41,760.89 452.33,761.39 452.24,761.89 452.16,762.39 452.08,762.89 452.01,763.39 451.93,763.89 451.85,764.39 451.78,764.89 451.71,765.39 451.64,765.89 451.57,766.39 451.50,766.89 451.43,767.39 451.36,767.89 451.29,768.39 451.23,768.89 451.16,769.38 451.09,769.88 451.03,770.38 450.97,770.88 450.90,771.38 450.84,771.88 450.78,772.38 450.72,772.88 450.66,773.38 450.60,773.88 450.54,774.38 450.48,774.88 450.42,775.38 450.36,775.88 450.31,776.38 450.25,776.88 450.20,777.38 450.14,777.88 450.09,778.38 450.04,778.88 449.99,779.38 449.94,779.88 449.89,780.38 449.84,780.87 449.79,781.37 449.74,781.87 449.70,782.37 449.65,782.87 449.61,783.37 449.56,783.87 449.52,784.37 449.48,784.87 449.43,785.37 449.39,785.87 449.35,786.37 449.31,786.87 449.27,787.37 449.24,787.87 449.20,788.37 449.16,788.87 449.13,789.37 449.09,789.87 449.06,790.37 449.02,790.87 448.99,791.37 448.95,791.87 448.92,792.36 448.89,792.86 448.86,793.36 448.82,793.86 448.79,794.36 448.76,794.86 448.73,795.36 448.70,795.86 448.67,796.36 448.64,796.86 448.61,797.36 448.58,797.86 448.56,798.36 448.53,798.86 448.50,799.36 448.47,799.86 448.44,800.36 448.42,800.86 448.39,801.36 448.36,801.86 448.33,802.36 448.31,802.86 448.28,803.35 448.25,803.85 448.23,804.35 448.20,804.85 448.17,805.35 448.15,805.85 448.12,806.35 448.10,806.85 448.07,807.35 448.04,807.85 448.02,808.35 447.99,808.85 447.96,809.35 447.94,809.85 447.91,810.35 447.89,810.85 447.87,811.35 447.84,811.85 447.82,812.35 447.79,812.85 447.77,813.35 447.75,813.85 447.72,814.35 447.70,814.84 447.68,815.34 447.66,815.84 447.63,816.34 447.61,816.84 447.59,817.34 447.57,817.84 447.54,818.34 447.52,818.84 447.50,819.34 447.48,819.84 447.45,820.34 447.43,820.84 447.41,821.34 447.39,821.84 447.36,822.34 447.34,822.84 447.32,823.34 447.30,823.84 447.27,824.34 447.25,824.84 447.23,825.34 447.20,825.83 447.18,826.33 447.15,826.83 447.13,827.33 447.10,827.83 447.08,828.33 447.05,828.83 447.03,829.33 447.00,829.83 446.98,830.33 446.95,830.83 446.93,831.33 446.90,831.83 446.87,832.33 446.85,832.83 446.82,833.33 446.80,833.83 446.77,834.33 446.74,834.83 446.72,835.33 446.69,835.83 446.66,836.33 446.64,836.83 446.61,837.32 446.58,837.82 446.56,838.32 446.53,838.82 446.50,839.32 446.48,839.82 446.45,840.32 446.42,840.82 446.39,841.32 446.36,841.82 446.34,842.32 446.31,842.82 446.28,843.32 446.25,843.82 446.22,844.32 446.19,844.82 446.16,845.32 446.13,845.82 446.10,846.32 446.07,846.82 446.04,847.32 446.00,847.82 445.97,848.32 445.94,848.81 445.91,849.31 445.88,849.81 445.84,850.31 445.81,850.81 445.77,851.31 445.74,851.81 445.70,852.31 445.67,852.81 445.63,853.31 445.60,853.81 445.56,854.31 445.52,854.81 445.48,855.31 445.45,855.81 445.41,856.31 445.37,856.81 445.33,857.31 445.29,857.81 445.25,858.31 445.21,858.81 445.17,859.31 445.12,859.80 445.08,860.30 445.04,860.80 445.00,861.30 444.96,861.80 444.91,862.30 444.87,862.80 444.83,863.30 444.78,863.80 444.74,864.30 444.69,864.80 444.65,865.30 L419.45,865.30 419.41,864.80 419.36,864.30 419.32,863.80 419.27,863.30 419.23,862.80 419.19,862.30 419.14,861.80 419.10,861.30 419.06,860.80 419.02,860.30 418.98,859.80 418.93,859.31 418.89,858.81 418.85,858.31 418.81,857.81 418.77,857.31 418.73,856.81 418.69,856.31 418.65,855.81 418.62,855.31 418.58,854.81 418.54,854.31 418.50,853.81 418.47,853.31 418.43,852.81 418.40,852.31 418.36,851.81 418.33,851.31 418.29,850.81 418.26,850.31 418.22,849.81 418.19,849.31 418.16,848.81 418.13,848.32 418.10,847.82 418.06,847.32 418.03,846.82 418.00,846.32 417.97,845.82 417.94,845.32 417.91,844.82 417.88,844.32 417.85,843.82 417.82,843.32 417.79,842.82 417.76,842.32 417.74,841.82 417.71,841.32 417.68,840.82 417.65,840.32 417.62,839.82 417.60,839.32 417.57,838.82 417.54,838.32 417.52,837.82 417.49,837.32 417.46,836.83 417.44,836.33 417.41,835.83 417.38,835.33 417.36,834.83 417.33,834.33 417.30,833.83 417.28,833.33 417.25,832.83 417.23,832.33 417.20,831.83 417.17,831.33 417.15,830.83 417.12,830.33 417.10,829.83 417.07,829.33 417.05,828.83 417.02,828.33 417.00,827.83 416.97,827.33 416.95,826.83 416.92,826.33 416.90,825.83 416.87,825.34 416.85,824.84 416.83,824.34 416.80,823.84 416.78,823.34 416.76,822.84 416.74,822.34 416.71,821.84 416.69,821.34 416.67,820.84 416.65,820.34 416.62,819.84 416.60,819.34 416.58,818.84 416.56,818.34 416.53,817.84 416.51,817.34 416.49,816.84 416.47,816.34 416.44,815.84 416.42,815.34 416.40,814.84 416.38,814.35 416.35,813.85 416.33,813.35 416.31,812.85 416.28,812.35 416.26,811.85 416.23,811.35 416.21,810.85 416.19,810.35 416.16,809.85 416.14,809.35 416.11,808.85 416.08,808.35 416.06,807.85 416.03,807.35 416.00,806.85 415.98,806.35 415.95,805.85 415.93,805.35 415.90,804.85 415.87,804.35 415.85,803.85 415.82,803.35 415.79,802.86 415.77,802.36 415.74,801.86 415.71,801.36 415.68,800.86 415.66,800.36 415.63,799.86 415.60,799.36 415.57,798.86 415.54,798.36 415.52,797.86 415.49,797.36 415.46,796.86 415.43,796.36 415.40,795.86 415.37,795.36 415.34,794.86 415.31,794.36 415.28,793.86 415.24,793.36 415.21,792.86 415.18,792.36 415.15,791.87 415.11,791.37 415.08,790.87 415.04,790.37 415.01,789.87 414.97,789.37 414.94,788.87 414.90,788.37 414.86,787.87 414.83,787.37 414.79,786.87 414.75,786.37 414.71,785.87 414.67,785.37 414.62,784.87 414.58,784.37 414.54,783.87 414.49,783.37 414.45,782.87 414.40,782.37 414.36,781.87 414.31,781.37 414.26,780.87 414.21,780.38 414.16,779.88 414.11,779.38 414.06,778.88 414.01,778.38 413.96,777.88 413.90,777.38 413.85,776.88 413.79,776.38 413.74,775.88 413.68,775.38 413.62,774.88 413.56,774.38 413.50,773.88 413.44,773.38 413.38,772.88 413.32,772.38 413.26,771.88 413.20,771.38 413.13,770.88 413.07,770.38 413.01,769.88 412.94,769.38 412.87,768.89 412.81,768.39 412.74,767.89 412.67,767.39 412.60,766.89 412.53,766.39 412.46,765.89 412.39,765.39 412.32,764.89 412.25,764.39 412.17,763.89 412.09,763.39 412.02,762.89 411.94,762.39 411.86,761.89 411.77,761.39 411.69,760.89 411.60,760.39 411.51,759.89 411.43,759.39 411.34,758.89 411.24,758.39 411.15,757.90 411.06,757.40 410.96,756.90 410.87,756.40 410.77,755.90 410.67,755.40 410.57,754.90 410.47,754.40 410.37,753.90 410.27,753.40 410.16,752.90 410.06,752.40 409.95,751.90 409.85,751.40 409.74,750.90 409.63,750.40 409.52,749.90 409.41,749.40 409.30,748.90 409.19,748.40 409.08,747.90 408.97,747.40 408.86,746.90 408.74,746.41 408.63,745.91 408.52,745.41 408.40,744.91 408.29,744.41 408.17,743.91 408.06,743.41 407.94,742.91 407.83,742.41 407.71,741.91 407.59,741.41 407.47,740.91 407.35,740.41 407.22,739.91 407.10,739.41 406.97,738.91 406.85,738.41 406.72,737.91 406.59,737.41 406.46,736.91 406.33,736.41 406.20,735.91 406.07,735.42 405.93,734.92 405.79,734.42 405.66,733.92 405.52,733.42 405.38,732.92 405.24,732.42 405.09,731.92 404.95,731.42 404.80,730.92 404.66,730.42 404.51,729.92 404.36,729.42 404.20,728.92 404.05,728.42 403.90,727.92 403.74,727.42 403.58,726.92 403.42,726.42 403.26,725.92 403.09,725.42 402.92,724.92 402.75,724.42 402.57,723.93 402.39,723.43 402.21,722.93 402.02,722.43 401.83,721.93 401.64,721.43 401.44,720.93 401.24,720.43 401.04,719.93 400.84,719.43 400.63,718.93 400.42,718.43 400.21,717.93 400.00,717.43 399.79,716.93 399.57,716.43 399.36,715.93 399.14,715.43 398.92,714.93 398.71,714.43 398.49,713.93 398.27,713.43 398.05,712.93 397.83,712.44 397.61,711.94 397.39,711.44 397.17,710.94 396.95,710.44 396.74,709.94 396.52,709.44 396.30,708.94 396.09,708.44 395.88,707.94 395.67,707.44 395.46,706.94 395.25,706.44 395.04,705.94 394.84,705.44 394.64,704.94 394.44,704.44 394.24,703.94 394.05,703.44 393.86,702.94 393.67,702.44 393.48,701.94 393.30,701.45 393.12,700.95 392.94,700.45 392.76,699.95 392.58,699.45 392.39,698.95 392.21,698.45 392.02,697.95 391.83,697.45 391.65,696.95 391.46,696.45 391.27,695.95 391.08,695.45 390.90,694.95 390.71,694.45 390.53,693.95 390.35,693.45 390.17,692.95 389.99,692.45 389.81,691.95 389.63,691.45 389.46,690.95 389.29,690.45 389.13,689.96 388.96,689.46 388.80,688.96 388.64,688.46 388.49,687.96 388.34,687.46 388.20,686.96 388.06,686.46 387.92,685.96 387.79,685.46 387.67,684.96 387.55,684.46 387.44,683.96 387.33,683.46 387.23,682.96 387.13,682.46 387.04,681.96 386.96,681.46 386.87,680.96 386.79,680.46 386.70,679.96 386.62,679.46 386.53,678.97 386.45,678.47 386.36,677.97 386.28,677.47 386.20,676.97 386.12,676.47 386.04,675.97 385.96,675.47 385.88,674.97 385.81,674.47 385.73,673.97 385.66,673.47 385.59,672.97 385.52,672.47 385.45,671.97 385.38,671.47 385.32,670.97 385.26,670.47 385.20,669.97 385.14,669.47 385.09,668.97 385.04,668.47 384.99,667.97 384.94,667.48 384.90,666.98 384.86,666.48 384.82,665.98 384.79,665.48 384.76,664.98 384.73,664.48 384.71,663.98 384.69,663.48 384.67,662.98 384.66,662.48 384.65,661.98 384.65,661.48 384.65,660.98 384.65,660.48 384.65,659.98 384.65,659.48 384.65,658.98 384.66,658.48 384.66,657.98 384.66,657.48 384.66,656.98 384.67,656.48 384.67,655.99 384.67,655.49 384.68,654.99 384.68,654.49 384.69,653.99 384.69,653.49 384.70,652.99 384.71,652.49 384.71,651.99 384.72,651.49 384.73,650.99 384.73,650.49 384.74,649.99 384.75,649.49 384.76,648.99 384.77,648.49 384.78,647.99 384.79,647.49 384.80,646.99 384.81,646.49 384.82,645.99 384.83,645.49 384.84,645.00 384.85,644.50 384.86,644.00 384.87,643.50 384.88,643.00 384.90,642.50 384.91,642.00 384.92,641.50 384.94,641.00 384.95,640.50 384.96,640.00 384.98,639.50 384.99,639.00 385.01,638.50 385.02,638.00 385.04,637.50 385.05,637.00 385.07,636.50 385.09,636.00 385.10,635.50 385.12,635.00 385.14,634.50 385.15,634.00 385.17,633.51 385.19,633.01 385.21,632.51 385.22,632.01 385.24,631.51 385.26,631.01 385.28,630.51 385.30,630.01 385.32,629.51 385.34,629.01 385.36,628.51 385.38,628.01 385.40,627.51 385.42,627.01 385.44,626.51 385.46,626.01 385.49,625.51 385.52,625.01 385.56,624.51 385.60,624.01 385.64,623.51 385.69,623.01 385.74,622.52 385.79,622.02 385.84,621.52 385.90,621.02 385.96,620.52 386.02,620.02 386.08,619.52 386.14,619.02 386.20,618.52 386.27,618.02 386.33,617.52 386.39,617.02 386.45,616.52 386.51,616.02 386.57,615.52 386.63,615.02 386.69,614.52 386.76,614.02 386.82,613.52 386.89,613.02 386.96,612.52 387.03,612.02 387.10,611.52 387.17,611.03 387.24,610.53 387.31,610.03 387.38,609.53 387.45,609.03 387.52,608.53 387.59,608.03 387.65,607.53 387.72,607.03 387.78,606.53 387.84,606.03 387.90,605.53 387.96,605.03 388.01,604.53 388.06,604.03 388.11,603.53 388.16,603.03 388.20,602.53 388.24,602.03 388.28,601.53 388.33,601.03 388.37,600.53 388.41,600.03 388.45,599.54 388.49,599.04 388.53,598.54 388.58,598.04 388.62,597.54 388.67,597.04 388.72,596.54 388.77,596.04 388.83,595.54 388.88,595.04 388.94,594.54 389.01,594.04 389.08,593.54 389.16,593.04 389.24,592.54 389.32,592.04 389.41,591.54 389.50,591.04 389.59,590.54 389.69,590.04 389.79,589.54 389.90,589.04 390.00,588.55 390.11,588.05 390.22,587.55 390.33,587.05 390.44,586.55 390.55,586.05 390.66,585.55 390.77,585.05 390.88,584.55 390.99,584.05 391.11,583.55 391.22,583.05 391.33,582.55 391.45,582.05 391.57,581.55 391.69,581.05 391.81,580.55 391.93,580.05 392.06,579.55 392.19,579.05 392.31,578.55 392.44,578.05 392.57,577.55 392.70,577.06 392.84,576.56 392.97,576.06 393.11,575.56 393.24,575.06 393.38,574.56 393.51,574.06 393.65,573.56 393.79,573.06 393.93,572.56 394.06,572.06 394.20,571.56 394.34,571.06 394.48,570.56 394.62,570.06 394.76,569.56 394.90,569.06 395.05,568.56 395.19,568.06 395.34,567.56 395.49,567.06 395.64,566.56 395.79,566.07 395.95,565.57 396.11,565.07 396.27,564.57 396.44,564.07 396.61,563.57 396.78,563.07 396.96,562.57 397.15,562.07 397.33,561.57 397.53,561.07 397.73,560.57 397.93,560.07 398.14,559.57 398.36,559.07 398.58,558.57 398.80,558.07 399.03,557.57 399.25,557.07 399.49,556.57 399.72,556.07 399.96,555.57 400.20,555.07 400.44,554.58 400.68,554.08 400.93,553.58 401.17,553.08 401.42,552.58 401.66,552.08 401.91,551.58 402.16,551.08 402.41,550.58 402.66,550.08 402.92,549.58 403.18,549.08 403.44,548.58 403.70,548.08 403.97,547.58 404.24,547.08 404.51,546.58 404.78,546.08 405.06,545.58 405.34,545.08 405.62,544.58 405.91,544.08 406.20,543.58 406.49,543.09 406.78,542.59 407.08,542.09 407.38,541.59 407.68,541.09 407.98,540.59 408.29,540.09 408.60,539.59 408.92,539.09 409.23,538.59 409.55,538.09 409.87,537.59 410.20,537.09 410.52,536.59 410.85,536.09 411.19,535.59 411.52,535.09 411.86,534.59 412.20,534.09 412.55,533.59 412.89,533.09 413.24,532.59 413.59,532.10 413.95,531.60 414.31,531.10 414.67,530.60 415.03,530.10 415.40,529.60 415.77,529.10 416.14,528.60 416.51,528.10 416.89,527.60 417.27,527.10 417.65,526.60 Z" fill="#006ba9" fill-opacity="0.5" stroke="#333" stroke-width="0.7"/>
<line x1="387.93" y1="605.3" x2="476.17" y2="605.3" stroke="#333" stroke-opacity="0.48" stroke-width="1.25"/>
<line x1="384.65" y1="661.3" x2="479.45" y2="661.3" stroke="#333" stroke-opacity="0.48" stroke-width="1.25"/>
<line x1="403.35" y1="726.2" x2="460.75" y2="726.2" stroke="#333" stroke-opacity="0.48" stroke-width="1.25"/>
<path d="M528.85,527.20 L547.05,527.20 547.21,527.70 547.37,528.20 547.54,528.70 547.70,529.20 547.86,529.70 548.03,530.20 548.19,530.70 548.35,531.20 548.52,531.69 548.68,532.19 548.85,532.69 549.01,533.19 549.18,533.69 549.34,534.19 549.51,534.69 549.68,535.19 549.84,535.69 550.01,536.19 550.18,536.69 550.35,537.19 550.51,537.69 550.68,538.19 550.85,538.69 551.02,539.19 551.19,539.69 551.36,540.18 551.53,540.68 551.70,541.18 551.87,541.68 552.04,542.18 552.21,542.68 552.38,543.18 552.56,543.68 552.73,544.18 552.90,544.68 553.07,545.18 553.25,545.68 553.42,546.18 553.59,546.68 553.77,547.18 553.94,547.68 554.12,548.18 554.29,548.67 554.47,549.17 554.64,549.67 554.82,550.17 554.99,550.67 555.17,551.17 555.34,551.67 555.52,552.17 555.70,552.67 555.87,553.17 556.05,553.67 556.23,554.17 556.41,554.67 556.59,555.17 556.77,555.67 556.94,556.17 557.12,556.67 557.30,557.16 557.48,557.66 557.67,558.16 557.85,558.66 558.03,559.16 558.21,559.66 558.39,560.16 558.58,560.66 558.76,561.16 558.94,561.66 559.13,562.16 559.31,562.66 559.50,563.16 559.68,563.66 559.87,564.16 560.06,564.66 560.24,565.16 560.43,565.65 560.62,566.15 560.81,566.65 561.00,567.15 561.20,567.65 561.39,568.15 561.58,568.65 561.78,569.15 561.98,569.65 562.17,570.15 562.37,570.65 562.57,571.15 562.77,571.65 562.97,572.15 563.17,572.65 563.37,573.15 563.57,573.65 563.77,574.14 563.97,574.64 564.18,575.14 564.38,575.64 564.58,576.14 564.78,576.64 564.98,577.14 565.19,577.64 565.39,578.14 565.59,578.64 565.79,579.14 565.99,579.64 566.19,580.14 566.39,580.64 566.59,581.14 566.79,581.64 566.99,582.14 567.18,582.63 567.38,583.13 567.58,583.63 567.77,584.13 567.96,584.63 568.16,585.13 568.35,585.63 568.54,586.13 568.73,586.63 568.92,587.13 569.11,587.63 569.30,588.13 569.49,588.63 569.67,589.13 569.86,589.63 570.05,590.13 570.24,590.62 570.43,591.12 570.61,591.62 570.80,592.12 570.99,592.62 571.17,593.12 571.36,593.62 571.55,594.12 571.73,594.62 571.92,595.12 572.10,595.62 572.29,596.12 572.47,596.62 572.65,597.12 572.83,597.62 573.02,598.12 573.20,598.62 573.38,599.11 573.56,599.61 573.74,600.11 573.92,600.61 574.10,601.11 574.28,601.61 574.45,602.11 574.63,602.61 574.81,603.11 574.98,603.61 575.16,604.11 575.33,604.61 575.51,605.11 575.68,605.61 575.85,606.11 576.02,606.61 576.19,607.11 576.35,607.60 576.52,608.10 576.68,608.60 576.84,609.10 577.00,609.60 577.16,610.10 577.31,610.60 577.47,611.10 577.64,611.60 577.80,612.10 577.96,612.60 578.13,613.10 578.30,613.60 578.47,614.10 578.65,614.60 578.83,615.10 579.02,615.60 579.22,616.09 579.42,616.59 579.62,617.09 579.82,617.59 580.02,618.09 580.22,618.59 580.41,619.09 580.60,619.59 580.78,620.09 580.96,620.59 581.15,621.09 581.34,621.59 581.53,622.09 581.72,622.59 581.91,623.09 582.10,623.59 582.28,624.09 582.47,624.58 582.65,625.08 582.83,625.58 583.00,626.08 583.17,626.58 583.34,627.08 583.49,627.58 583.64,628.08 583.78,628.58 583.91,629.08 584.03,629.58 584.15,630.08 584.25,630.58 584.34,631.08 584.43,631.58 584.53,632.08 584.62,632.58 584.71,633.07 584.81,633.57 584.89,634.07 584.98,634.57 585.06,635.07 585.14,635.57 585.22,636.07 585.29,636.57 585.36,637.07 585.42,637.57 585.47,638.07 585.52,638.57 585.56,639.07 585.60,639.57 585.62,640.07 585.64,640.57 585.65,641.07 585.65,641.56 585.65,642.06 585.64,642.56 585.64,643.06 585.63,643.56 585.62,644.06 585.61,644.56 585.59,645.06 585.58,645.56 585.56,646.06 585.54,646.56 585.52,647.06 585.50,647.56 585.47,648.06 585.45,648.56 585.42,649.06 585.40,649.56 585.37,650.05 585.34,650.55 585.31,651.05 585.27,651.55 585.24,652.05 585.19,652.55 585.13,653.05 585.06,653.55 584.97,654.05 584.87,654.55 584.76,655.05 584.65,655.55 584.52,656.05 584.40,656.55 584.27,657.05 584.14,657.55 584.00,658.05 583.87,658.54 583.74,659.04 583.61,659.54 583.49,660.04 583.36,660.54 583.23,661.04 583.09,661.54 582.95,662.04 582.81,662.54 582.67,663.04 582.52,663.54 582.37,664.04 582.21,664.54 582.05,665.04 581.89,665.54 581.72,666.04 581.55,666.54 581.37,667.03 581.19,667.53 581.00,668.03 580.80,668.53 580.60,669.03 580.38,669.53 580.15,670.03 579.92,670.53 579.68,671.03 579.43,671.53 579.18,672.03 578.92,672.53 578.66,673.03 578.40,673.53 578.13,674.03 577.86,674.53 577.59,675.03 577.32,675.52 577.05,676.02 576.78,676.52 576.52,677.02 576.25,677.52 575.99,678.02 575.74,678.52 575.49,679.02 575.23,679.52 574.98,680.02 574.73,680.52 574.47,681.02 574.22,681.52 573.96,682.02 573.70,682.52 573.45,683.02 573.19,683.52 572.94,684.01 572.68,684.51 572.43,685.01 572.17,685.51 571.92,686.01 571.66,686.51 571.41,687.01 571.15,687.51 570.90,688.01 570.65,688.51 570.40,689.01 570.14,689.51 569.89,690.01 569.64,690.51 569.38,691.01 569.13,691.51 568.87,692.01 568.61,692.50 568.36,693.00 568.10,693.50 567.84,694.00 567.59,694.50 567.34,695.00 567.09,695.50 566.84,696.00 566.59,696.50 566.35,697.00 566.11,697.50 565.87,698.00 565.64,698.50 565.41,699.00 565.18,699.50 564.96,700.00 564.75,700.49 564.53,700.99 564.32,701.49 564.10,701.99 563.89,702.49 563.69,702.99 563.48,703.49 563.28,703.99 563.07,704.49 562.87,704.99 562.68,705.49 562.48,705.99 562.29,706.49 562.10,706.99 561.91,707.49 561.72,707.99 561.54,708.49 561.35,708.98 561.17,709.48 561.00,709.98 560.82,710.48 560.65,710.98 560.48,711.48 560.31,711.98 560.15,712.48 559.99,712.98 559.83,713.48 559.67,713.98 559.52,714.48 559.36,714.98 559.21,715.48 559.06,715.98 558.91,716.48 558.76,716.98 558.60,717.47 558.45,717.97 558.30,718.47 558.15,718.97 557.99,719.47 557.83,719.97 557.67,720.47 557.51,720.97 557.35,721.47 557.19,721.97 557.03,722.47 556.86,722.97 556.70,723.47 556.53,723.97 556.37,724.47 556.20,724.97 556.03,725.47 555.87,725.96 555.70,726.46 555.54,726.96 555.37,727.46 555.21,727.96 555.05,728.46 554.89,728.96 554.73,729.46 554.57,729.96 554.42,730.46 554.27,730.96 554.11,731.46 553.97,731.96 553.82,732.46 553.68,732.96 553.54,733.46 553.40,733.96 553.27,734.45 553.14,734.95 553.01,735.45 552.89,735.95 552.77,736.45 552.64,736.95 552.52,737.45 552.40,737.95 552.28,738.45 552.16,738.95 552.04,739.45 551.92,739.95 551.80,740.45 551.68,740.95 551.57,741.45 551.45,741.95 551.34,742.45 551.23,742.94 551.12,743.44 551.01,743.94 550.90,744.44 550.79,744.94 550.69,745.44 550.59,745.94 550.49,746.44 550.39,746.94 550.29,747.44 550.20,747.94 550.11,748.44 550.02,748.94 549.94,749.44 549.86,749.94 549.78,750.44 549.70,750.94 549.63,751.43 549.56,751.93 549.49,752.43 549.43,752.93 549.37,753.43 549.31,753.93 549.26,754.43 549.20,754.93 549.15,755.43 549.09,755.93 549.04,756.43 548.99,756.93 548.94,757.43 548.89,757.93 548.84,758.43 548.79,758.93 548.74,759.43 548.70,759.92 548.65,760.42 548.61,760.92 548.57,761.42 548.52,761.92 548.48,762.42 548.44,762.92 548.40,763.42 548.37,763.92 548.33,764.42 548.29,764.92 548.26,765.42 548.23,765.92 548.19,766.42 548.16,766.92 548.13,767.42 548.11,767.92 548.08,768.41 548.05,768.91 548.03,769.41 548.01,769.91 547.99,770.41 547.97,770.91 547.95,771.41 547.93,771.91 547.92,772.41 547.90,772.91 547.88,773.41 547.86,773.91 547.85,774.41 547.83,774.91 547.81,775.41 547.80,775.91 547.78,776.41 547.77,776.90 547.75,777.40 547.74,777.90 547.72,778.40 547.71,778.90 547.70,779.40 547.68,779.90 547.67,780.40 547.66,780.90 547.65,781.40 547.64,781.90 547.63,782.40 547.62,782.90 547.61,783.40 547.60,783.90 547.59,784.40 547.58,784.90 547.58,785.39 547.57,785.89 547.56,786.39 547.56,786.89 547.56,787.39 547.55,787.89 547.55,788.39 547.55,788.89 547.55,789.39 547.55,789.89 547.55,790.39 547.56,790.89 547.57,791.39 547.58,791.89 547.59,792.39 547.60,792.89 547.61,793.39 547.63,793.88 547.64,794.38 547.66,794.88 547.68,795.38 547.70,795.88 547.73,796.38 547.75,796.88 547.78,797.38 547.80,797.88 547.83,798.38 547.86,798.88 547.89,799.38 547.92,799.88 547.95,800.38 547.98,800.88 548.02,801.38 548.05,801.88 548.09,802.37 548.12,802.87 548.16,803.37 548.20,803.87 548.24,804.37 548.27,804.87 548.31,805.37 548.35,805.87 548.39,806.37 548.43,806.87 548.47,807.37 548.52,807.87 548.57,808.37 548.63,808.87 548.69,809.37 548.76,809.87 548.83,810.36 548.90,810.86 548.98,811.36 549.07,811.86 549.16,812.36 549.25,812.86 549.34,813.36 549.44,813.86 549.54,814.36 549.65,814.86 549.76,815.36 549.86,815.86 549.98,816.36 550.09,816.86 550.21,817.36 550.32,817.86 550.44,818.36 550.56,818.85 550.68,819.35 550.80,819.85 550.92,820.35 551.05,820.85 551.17,821.35 551.29,821.85 551.41,822.35 551.54,822.85 551.66,823.35 551.78,823.85 551.90,824.35 552.01,824.85 552.13,825.35 552.26,825.85 552.38,826.35 552.52,826.85 552.65,827.34 552.80,827.84 552.94,828.34 553.09,828.84 553.24,829.34 553.39,829.84 553.55,830.34 553.71,830.84 553.87,831.34 554.03,831.84 554.19,832.34 554.35,832.84 554.51,833.34 554.67,833.84 554.83,834.34 554.98,834.84 555.14,835.34 555.29,835.83 555.45,836.33 555.59,836.83 555.74,837.33 555.88,837.83 556.02,838.33 556.16,838.83 556.29,839.33 556.41,839.83 556.53,840.33 556.65,840.83 556.75,841.33 556.86,841.83 556.95,842.33 557.04,842.83 557.12,843.33 557.20,843.83 557.28,844.32 557.37,844.82 557.45,845.32 557.53,845.82 557.61,846.32 557.68,846.82 557.76,847.32 557.84,847.82 557.91,848.32 557.99,848.82 558.06,849.32 558.13,849.82 558.20,850.32 558.27,850.82 558.33,851.32 558.40,851.82 558.46,852.32 558.52,852.81 558.58,853.31 558.64,853.81 558.69,854.31 558.74,854.81 558.79,855.31 558.84,855.81 558.88,856.31 558.93,856.81 558.97,857.31 559.00,857.81 559.03,858.31 559.06,858.81 559.09,859.31 559.12,859.81 559.14,860.31 559.15,860.81 559.17,861.30 559.18,861.80 559.20,862.30 559.21,862.80 559.22,863.30 559.23,863.80 559.24,864.30 559.25,864.80 559.25,865.30 L516.65,865.30 516.65,864.80 516.66,864.30 516.67,863.80 516.68,863.30 516.69,862.80 516.70,862.30 516.72,861.80 516.73,861.30 516.75,860.81 516.76,860.31 516.78,859.81 516.81,859.31 516.84,858.81 516.87,858.31 516.90,857.81 516.93,857.31 516.97,856.81 517.02,856.31 517.06,855.81 517.11,855.31 517.16,854.81 517.21,854.31 517.26,853.81 517.32,853.31 517.38,852.81 517.44,852.32 517.50,851.82 517.57,851.32 517.63,850.82 517.70,850.32 517.77,849.82 517.84,849.32 517.91,848.82 517.99,848.32 518.06,847.82 518.14,847.32 518.22,846.82 518.29,846.32 518.37,845.82 518.45,845.32 518.53,844.82 518.62,844.32 518.70,843.83 518.78,843.33 518.86,842.83 518.95,842.33 519.04,841.83 519.15,841.33 519.25,840.83 519.37,840.33 519.49,839.83 519.61,839.33 519.74,838.83 519.88,838.33 520.02,837.83 520.16,837.33 520.31,836.83 520.45,836.33 520.61,835.83 520.76,835.34 520.92,834.84 521.07,834.34 521.23,833.84 521.39,833.34 521.55,832.84 521.71,832.34 521.87,831.84 522.03,831.34 522.19,830.84 522.35,830.34 522.51,829.84 522.66,829.34 522.81,828.84 522.96,828.34 523.10,827.84 523.25,827.34 523.38,826.85 523.52,826.35 523.64,825.85 523.77,825.35 523.89,824.85 524.00,824.35 524.12,823.85 524.24,823.35 524.36,822.85 524.49,822.35 524.61,821.85 524.73,821.35 524.85,820.85 524.98,820.35 525.10,819.85 525.22,819.35 525.34,818.85 525.46,818.36 525.58,817.86 525.69,817.36 525.81,816.86 525.92,816.36 526.04,815.86 526.14,815.36 526.25,814.86 526.36,814.36 526.46,813.86 526.56,813.36 526.65,812.86 526.74,812.36 526.83,811.86 526.92,811.36 527.00,810.86 527.07,810.36 527.14,809.87 527.21,809.37 527.27,808.87 527.33,808.37 527.38,807.87 527.43,807.37 527.47,806.87 527.51,806.37 527.55,805.87 527.59,805.37 527.63,804.87 527.66,804.37 527.70,803.87 527.74,803.37 527.78,802.87 527.81,802.37 527.85,801.88 527.88,801.38 527.92,800.88 527.95,800.38 527.98,799.88 528.01,799.38 528.04,798.88 528.07,798.38 528.10,797.88 528.12,797.38 528.15,796.88 528.17,796.38 528.20,795.88 528.22,795.38 528.24,794.88 528.26,794.38 528.27,793.88 528.29,793.39 528.30,792.89 528.31,792.39 528.32,791.89 528.33,791.39 528.34,790.89 528.35,790.39 528.35,789.89 528.35,789.39 528.35,788.89 528.35,788.39 528.35,787.89 528.34,787.39 528.34,786.89 528.34,786.39 528.33,785.89 528.32,785.39 528.32,784.90 528.31,784.40 528.30,783.90 528.29,783.40 528.28,782.90 528.27,782.40 528.26,781.90 528.25,781.40 528.24,780.90 528.23,780.40 528.22,779.90 528.20,779.40 528.19,778.90 528.18,778.40 528.16,777.90 528.15,777.40 528.13,776.90 528.12,776.41 528.10,775.91 528.09,775.41 528.07,774.91 528.05,774.41 528.04,773.91 528.02,773.41 528.00,772.91 527.98,772.41 527.97,771.91 527.95,771.41 527.93,770.91 527.91,770.41 527.89,769.91 527.87,769.41 527.85,768.91 527.82,768.41 527.79,767.92 527.77,767.42 527.74,766.92 527.71,766.42 527.67,765.92 527.64,765.42 527.61,764.92 527.57,764.42 527.53,763.92 527.50,763.42 527.46,762.92 527.42,762.42 527.38,761.92 527.33,761.42 527.29,760.92 527.25,760.42 527.20,759.92 527.16,759.43 527.11,758.93 527.06,758.43 527.01,757.93 526.96,757.43 526.91,756.93 526.86,756.43 526.81,755.93 526.75,755.43 526.70,754.93 526.64,754.43 526.59,753.93 526.53,753.43 526.47,752.93 526.41,752.43 526.34,751.93 526.27,751.43 526.20,750.94 526.12,750.44 526.04,749.94 525.96,749.44 525.88,748.94 525.79,748.44 525.70,747.94 525.61,747.44 525.51,746.94 525.41,746.44 525.31,745.94 525.21,745.44 525.11,744.94 525.00,744.44 524.89,743.94 524.78,743.44 524.67,742.94 524.56,742.45 524.45,741.95 524.33,741.45 524.22,740.95 524.10,740.45 523.98,739.95 523.86,739.45 523.74,738.95 523.62,738.45 523.50,737.95 523.38,737.45 523.26,736.95 523.13,736.45 523.01,735.95 522.89,735.45 522.76,734.95 522.63,734.45 522.50,733.96 522.36,733.46 522.22,732.96 522.08,732.46 521.93,731.96 521.79,731.46 521.63,730.96 521.48,730.46 521.33,729.96 521.17,729.46 521.01,728.96 520.85,728.46 520.69,727.96 520.53,727.46 520.36,726.96 520.20,726.46 520.03,725.96 519.87,725.47 519.70,724.97 519.53,724.47 519.37,723.97 519.20,723.47 519.04,722.97 518.87,722.47 518.71,721.97 518.55,721.47 518.39,720.97 518.23,720.47 518.07,719.97 517.91,719.47 517.75,718.97 517.60,718.47 517.45,717.97 517.30,717.47 517.14,716.98 516.99,716.48 516.84,715.98 516.69,715.48 516.54,714.98 516.38,714.48 516.23,713.98 516.07,713.48 515.91,712.98 515.75,712.48 515.59,711.98 515.42,711.48 515.25,710.98 515.08,710.48 514.90,709.98 514.73,709.48 514.55,708.98 514.36,708.49 514.18,707.99 513.99,707.49 513.80,706.99 513.61,706.49 513.42,705.99 513.22,705.49 513.03,704.99 512.83,704.49 512.62,703.99 512.42,703.49 512.21,702.99 512.01,702.49 511.80,701.99 511.58,701.49 511.37,700.99 511.15,700.49 510.94,700.00 510.72,699.50 510.49,699.00 510.26,698.50 510.03,698.00 509.79,697.50 509.55,697.00 509.31,696.50 509.06,696.00 508.81,695.50 508.56,695.00 508.31,694.50 508.06,694.00 507.80,693.50 507.54,693.00 507.29,692.50 507.03,692.01 506.77,691.51 506.52,691.01 506.26,690.51 506.01,690.01 505.76,689.51 505.50,689.01 505.25,688.51 505.00,688.01 504.75,687.51 504.49,687.01 504.24,686.51 503.98,686.01 503.73,685.51 503.47,685.01 503.22,684.51 502.96,684.01 502.71,683.52 502.45,683.02 502.20,682.52 501.94,682.02 501.68,681.52 501.43,681.02 501.17,680.52 500.92,680.02 500.67,679.52 500.41,679.02 500.16,678.52 499.91,678.02 499.65,677.52 499.38,677.02 499.12,676.52 498.85,676.02 498.58,675.52 498.31,675.03 498.04,674.53 497.77,674.03 497.50,673.53 497.24,673.03 496.98,672.53 496.72,672.03 496.47,671.53 496.22,671.03 495.98,670.53 495.75,670.03 495.52,669.53 495.30,669.03 495.10,668.53 494.90,668.03 494.71,667.53 494.53,667.03 494.35,666.54 494.18,666.04 494.01,665.54 493.85,665.04 493.69,664.54 493.53,664.04 493.38,663.54 493.23,663.04 493.09,662.54 492.95,662.04 492.81,661.54 492.67,661.04 492.54,660.54 492.41,660.04 492.29,659.54 492.16,659.04 492.03,658.54 491.90,658.05 491.76,657.55 491.63,657.05 491.50,656.55 491.38,656.05 491.25,655.55 491.14,655.05 491.03,654.55 490.93,654.05 490.84,653.55 490.77,653.05 490.71,652.55 490.66,652.05 490.63,651.55 490.59,651.05 490.56,650.55 490.53,650.05 490.50,649.56 490.48,649.06 490.45,648.56 490.43,648.06 490.40,647.56 490.38,647.06 490.36,646.56 490.34,646.06 490.32,645.56 490.31,645.06 490.29,644.56 490.28,644.06 490.27,643.56 490.26,643.06 490.26,642.56 490.25,642.06 490.25,641.56 490.25,641.07 490.26,640.57 490.28,640.07 490.30,639.57 490.34,639.07 490.38,638.57 490.43,638.07 490.48,637.57 490.54,637.07 490.61,636.57 490.68,636.07 490.76,635.57 490.84,635.07 490.92,634.57 491.01,634.07 491.09,633.57 491.19,633.07 491.28,632.58 491.37,632.08 491.47,631.58 491.56,631.08 491.65,630.58 491.75,630.08 491.87,629.58 491.99,629.08 492.12,628.58 492.26,628.08 492.41,627.58 492.56,627.08 492.73,626.58 492.90,626.08 493.07,625.58 493.25,625.08 493.43,624.58 493.62,624.09 493.80,623.59 493.99,623.09 494.18,622.59 494.37,622.09 494.56,621.59 494.75,621.09 494.94,620.59 495.12,620.09 495.30,619.59 495.49,619.09 495.68,618.59 495.88,618.09 496.08,617.59 496.28,617.09 496.48,616.59 496.68,616.09 496.88,615.60 497.07,615.10 497.25,614.60 497.43,614.10 497.60,613.60 497.77,613.10 497.94,612.60 498.10,612.10 498.26,611.60 498.43,611.10 498.59,610.60 498.74,610.10 498.90,609.60 499.06,609.10 499.22,608.60 499.38,608.10 499.55,607.60 499.71,607.11 499.88,606.61 500.05,606.11 500.22,605.61 500.39,605.11 500.57,604.61 500.74,604.11 500.92,603.61 501.09,603.11 501.27,602.61 501.45,602.11 501.62,601.61 501.80,601.11 501.98,600.61 502.16,600.11 502.34,599.61 502.52,599.11 502.70,598.62 502.88,598.12 503.07,597.62 503.25,597.12 503.43,596.62 503.61,596.12 503.80,595.62 503.98,595.12 504.17,594.62 504.35,594.12 504.54,593.62 504.73,593.12 504.91,592.62 505.10,592.12 505.29,591.62 505.47,591.12 505.66,590.62 505.85,590.13 506.04,589.63 506.23,589.13 506.41,588.63 506.60,588.13 506.79,587.63 506.98,587.13 507.17,586.63 507.36,586.13 507.55,585.63 507.74,585.13 507.94,584.63 508.13,584.13 508.32,583.63 508.52,583.13 508.72,582.63 508.91,582.14 509.11,581.64 509.31,581.14 509.51,580.64 509.71,580.14 509.91,579.64 510.11,579.14 510.31,578.64 510.51,578.14 510.71,577.64 510.92,577.14 511.12,576.64 511.32,576.14 511.52,575.64 511.72,575.14 511.93,574.64 512.13,574.14 512.33,573.65 512.53,573.15 512.73,572.65 512.93,572.15 513.13,571.65 513.33,571.15 513.53,570.65 513.73,570.15 513.92,569.65 514.12,569.15 514.32,568.65 514.51,568.15 514.70,567.65 514.90,567.15 515.09,566.65 515.28,566.15 515.47,565.65 515.66,565.16 515.84,564.66 516.03,564.16 516.22,563.66 516.40,563.16 516.59,562.66 516.77,562.16 516.96,561.66 517.14,561.16 517.32,560.66 517.51,560.16 517.69,559.66 517.87,559.16 518.05,558.66 518.23,558.16 518.42,557.66 518.60,557.16 518.78,556.67 518.96,556.17 519.13,555.67 519.31,555.17 519.49,554.67 519.67,554.17 519.85,553.67 520.03,553.17 520.20,552.67 520.38,552.17 520.56,551.67 520.73,551.17 520.91,550.67 521.08,550.17 521.26,549.67 521.43,549.17 521.61,548.67 521.78,548.18 521.96,547.68 522.13,547.18 522.31,546.68 522.48,546.18 522.65,545.68 522.83,545.18 523.00,544.68 523.17,544.18 523.34,543.68 523.52,543.18 523.69,542.68 523.86,542.18 524.03,541.68 524.20,541.18 524.37,540.68 524.54,540.18 524.71,539.69 524.88,539.19 525.05,538.69 525.22,538.19 525.39,537.69 525.55,537.19 525.72,536.69 525.89,536.19 526.06,535.69 526.22,535.19 526.39,534.69 526.56,534.19 526.72,533.69 526.89,533.19 527.05,532.69 527.22,532.19 527.38,531.69 527.55,531.20 527.71,530.70 527.87,530.20 528.04,529.70 528.20,529.20 528.36,528.70 528.53,528.20 528.69,527.70 528.85,527.20 Z" fill="#a35db3" fill-opacity="0.5" stroke="#333" stroke-width="0.7"/>
<line x1="497.25" y1="614.6" x2="578.65" y2="614.6" stroke="#333" stroke-opacity="0.48" stroke-width="1.25"/>
<line x1="492.22" y1="659.3" x2="583.68" y2="659.3" stroke="#333" stroke-opacity="0.48" stroke-width="1.25"/>
<line x1="518.08" y1="720.0" x2="557.82" y2="720.0" stroke="#333" stroke-opacity="0.48" stroke-width="1.25"/>
<line x1="101.10" y1="777.5" x2="127.50" y2="777.5" stroke="#ff0000" stroke-width="2"/>
<line x1="207.00" y1="777.6" x2="233.40" y2="777.6" stroke="#ff0000" stroke-width="2"/>
<line x1="312.95" y1="684.4" x2="339.35" y2="684.4" stroke="#ff0000" stroke-width="2"/>
<line x1="418.85" y1="673.5" x2="445.25" y2="673.5" stroke="#ff0000" stroke-width="2"/>
<line x1="524.75" y1="688.2" x2="551.15" y2="688.2" stroke="#ff0000" stroke-width="2"/>
<g fill="#000" fill-opacity="0.2" stroke="#000" stroke-opacity="0.2" stroke-width="0.55">
<circle cx="97.4" cy="784.6" r="1.3"/>
<circle cx="127.4" cy="789.9" r="1.3"/>
<circle cx="132.4" cy="840.9" r="1.3"/>
<circle cx="131.5" cy="837.9" r="1.3"/>
<circle cx="102.3" cy="812.8" r="1.3"/>
<circle cx="96.7" cy="693.3" r="1.3"/>
<circle cx="98.2" cy="692.9" r="1.3"/>
<circle cx="121.6" cy="786.0" r="1.3"/>
<circle cx="126.0" cy="694.7" r="1.3"/>
<circle cx="125.6" cy="666.6" r="1.3"/>
<circle cx="124.4" cy="837.5" r="1.3"/>
<circle cx="125.5" cy="839.5" r="1.3"/>
<circle cx="93.5" cy="737.8" r="1.3"/>
<circle cx="123.0" cy="741.9" r="1.3"/>
<circle cx="95.9" cy="661.0" r="1.3"/>
<circle cx="114.5" cy="703.3" r="1.3"/>
<circle cx="96.0" cy="703.1" r="1.3"/>
<circle cx="121.4" cy="639.7" r="1.3"/>
<circle cx="109.4" cy="755.5" r="1.3"/>
<circle cx="99.7" cy="863.5" r="1.3"/>
<circle cx="98.2" cy="680.4" r="1.3"/>
<circle cx="103.7" cy="789.1" r="1.3"/>
<circle cx="126.3" cy="789.5" r="1.3"/>
<circle cx="111.5" cy="694.2" r="1.3"/>
<circle cx="95.1" cy="681.4" r="1.3"/>
<circle cx="93.4" cy="725.5" r="1.3"/>
<circle cx="127.7" cy="764.7" r="1.3"/>
<circle cx="113.3" cy="828.2" r="1.3"/>
<circle cx="125.9" cy="781.9" r="1.3"/>
<circle cx="116.4" cy="819.5" r="1.3"/>
<circle cx="123.7" cy="621.1" r="1.3"/>
<circle cx="124.1" cy="819.0" r="1.3"/>
<circle cx="132.4" cy="712.2" r="1.3"/>
<circle cx="129.2" cy="836.8" r="1.3"/>
<circle cx="97.5" cy="781.0" r="1.3"/>
<circle cx="104.5" cy="620.7" r="1.3"/>
<circle cx="101.7" cy="846.1" r="1.3"/>
<circle cx="104.7" cy="844.3" r="1.3"/>
<circle cx="126.2" cy="809.5" r="1.3"/>
<circle cx="116.8" cy="809.9" r="1.3"/>
<circle cx="96.7" cy="632.5" r="1.3"/>
<circle cx="97.8" cy="581.7" r="1.3"/>
<circle cx="95.4" cy="685.6" r="1.3"/>
<circle cx="114.0" cy="802.3" r="1.3"/>
<circle cx="133.9" cy="805.2" r="1.3"/>
<circle cx="109.8" cy="859.1" r="1.3"/>
<circle cx="114.6" cy="847.0" r="1.3"/>
<circle cx="119.0" cy="649.3" r="1.3"/>
<circle cx="117.1" cy="800.9" r="1.3"/>
<circle cx="132.9" cy="844.5" r="1.3"/>
<circle cx="115.7" cy="622.8" r="1.3"/>
<circle cx="102.3" cy="732.1" r="1.3"/>
<circle cx="112.0" cy="825.2" r="1.3"/>
<circle cx="115.0" cy="690.5" r="1.3"/>
<circle cx="123.9" cy="809.4" r="1.3"/>
<circle cx="98.3" cy="831.8" r="1.3"/>
<circle cx="134.1" cy="817.0" r="1.3"/>
<circle cx="132.4" cy="717.7" r="1.3"/>
<circle cx="104.3" cy="653.6" r="1.3"/>
<circle cx="97.5" cy="855.3" r="1.3"/>
<circle cx="96.9" cy="690.8" r="1.3"/>
<circle cx="95.9" cy="644.1" r="1.3"/>
<circle cx="119.9" cy="856.3" r="1.3"/>
<circle cx="123.7" cy="865.2" r="1.3"/>
<circle cx="103.6" cy="745.0" r="1.3"/>
<circle cx="127.4" cy="689.6" r="1.3"/>
<circle cx="126.1" cy="663.2" r="1.3"/>
<circle cx="115.2" cy="763.0" r="1.3"/>
<circle cx="101.0" cy="821.1" r="1.3"/>
<circle cx="114.1" cy="723.5" r="1.3"/>
<circle cx="101.1" cy="804.2" r="1.3"/>
<circle cx="132.9" cy="719.9" r="1.3"/>
<circle cx="105.3" cy="703.8" r="1.3"/>
<circle cx="124.8" cy="848.6" r="1.3"/>
<circle cx="131.0" cy="812.2" r="1.3"/>
<circle cx="96.2" cy="655.9" r="1.3"/>
<circle cx="128.1" cy="657.9" r="1.3"/>
<circle cx="111.8" cy="695.0" r="1.3"/>
<circle cx="115.0" cy="862.0" r="1.3"/>
<circle cx="95.4" cy="651.3" r="1.3"/>
<circle cx="127.8" cy="775.3" r="1.3"/>
<circle cx="124.3" cy="793.4" r="1.3"/>
<circle cx="102.4" cy="618.9" r="1.3"/>
<circle cx="130.1" cy="847.8" r="1.3"/>
<circle cx="113.3" cy="668.0" r="1.3"/>
<circle cx="97.4" cy="738.8" r="1.3"/>
<circle cx="113.7" cy="832.7" r="1.3"/>
<circle cx="107.4" cy="839.0" r="1.3"/>
<circle cx="124.6" cy="861.1" r="1.3"/>
<circle cx="111.8" cy="729.3" r="1.3"/>
<circle cx="108.9" cy="692.5" r="1.3"/>
<circle cx="129.7" cy="761.9" r="1.3"/>
<circle cx="131.7" cy="791.0" r="1.3"/>
<circle cx="96.7" cy="818.9" r="1.3"/>
<circle cx="113.5" cy="865.1" r="1.3"/>
<circle cx="134.4" cy="842.3" r="1.3"/>
<circle cx="119.7" cy="817.5" r="1.3"/>
<circle cx="119.9" cy="807.8" r="1.3"/>
<circle cx="129.2" cy="621.2" r="1.3"/>
<circle cx="95.8" cy="723.7" r="1.3"/>
<circle cx="104.0" cy="845.1" r="1.3"/>
<circle cx="110.4" cy="661.1" r="1.3"/>
<circle cx="114.7" cy="668.4" r="1.3"/>
<circle cx="121.7" cy="814.5" r="1.3"/>
<circle cx="110.8" cy="844.7" r="1.3"/>
<circle cx="107.0" cy="651.0" r="1.3"/>
<circle cx="131.8" cy="665.1" r="1.3"/>
<circle cx="129.3" cy="854.7" r="1.3"/>
<circle cx="103.5" cy="794.4" r="1.3"/>
<circle cx="122.5" cy="714.5" r="1.3"/>
<circle cx="99.4" cy="648.7" r="1.3"/>
<circle cx="134.4" cy="711.0" r="1.3"/>
<circle cx="96.2" cy="844.3" r="1.3"/>
<circle cx="127.2" cy="745.0" r="1.3"/>
<circle cx="132.2" cy="716.6" r="1.3"/>
<circle cx="107.5" cy="796.1" r="1.3"/>
<circle cx="95.5" cy="713.7" r="1.3"/>
<circle cx="98.8" cy="685.4" r="1.3"/>
<circle cx="103.7" cy="813.5" r="1.3"/>
<circle cx="110.2" cy="848.8" r="1.3"/>
<circle cx="125.4" cy="833.1" r="1.3"/>
<circle cx="123.4" cy="667.2" r="1.3"/>
<circle cx="98.0" cy="755.6" r="1.3"/>
<circle cx="110.1" cy="858.4" r="1.3"/>
<circle cx="109.3" cy="775.9" r="1.3"/>
<circle cx="118.6" cy="791.3" r="1.3"/>
<circle cx="105.8" cy="848.2" r="1.3"/>
<circle cx="122.2" cy="706.3" r="1.3"/>
<circle cx="102.5" cy="649.6" r="1.3"/>
<circle cx="101.7" cy="779.3" r="1.3"/>
<circle cx="99.5" cy="798.5" r="1.3"/>
<circle cx="110.7" cy="751.4" r="1.3"/>
<circle cx="130.2" cy="834.4" r="1.3"/>
<circle cx="133.5" cy="643.1" r="1.3"/>
<circle cx="129.2" cy="723.2" r="1.3"/>
<circle cx="99.4" cy="852.3" r="1.3"/>
<circle cx="110.1" cy="849.4" r="1.3"/>
<circle cx="122.6" cy="810.7" r="1.3"/>
<circle cx="95.4" cy="763.6" r="1.3"/>
<circle cx="122.8" cy="807.9" r="1.3"/>
<circle cx="97.0" cy="769.3" r="1.3"/>
<circle cx="105.8" cy="852.9" r="1.3"/>
<circle cx="125.5" cy="763.5" r="1.3"/>
<circle cx="99.3" cy="736.6" r="1.3"/>
<circle cx="117.2" cy="826.0" r="1.3"/>
<circle cx="102.5" cy="696.0" r="1.3"/>
<circle cx="110.8" cy="850.2" r="1.3"/>
<circle cx="119.5" cy="744.2" r="1.3"/>
<circle cx="129.8" cy="754.9" r="1.3"/>
<circle cx="109.3" cy="631.7" r="1.3"/>
<circle cx="130.1" cy="636.6" r="1.3"/>
<circle cx="125.8" cy="740.6" r="1.3"/>
<circle cx="105.5" cy="761.1" r="1.3"/>
<circle cx="95.3" cy="691.0" r="1.3"/>
<circle cx="96.3" cy="830.8" r="1.3"/>
<circle cx="102.3" cy="708.5" r="1.3"/>
<circle cx="127.1" cy="769.2" r="1.3"/>
<circle cx="125.3" cy="717.5" r="1.3"/>
<circle cx="133.8" cy="661.1" r="1.3"/>
<circle cx="119.1" cy="833.5" r="1.3"/>
<circle cx="131.2" cy="771.5" r="1.3"/>
<circle cx="117.0" cy="817.8" r="1.3"/>
<circle cx="122.2" cy="638.6" r="1.3"/>
<circle cx="129.5" cy="836.3" r="1.3"/>
<circle cx="133.9" cy="861.6" r="1.3"/>
<circle cx="127.0" cy="797.6" r="1.3"/>
<circle cx="95.9" cy="828.0" r="1.3"/>
<circle cx="101.1" cy="817.8" r="1.3"/>
<circle cx="108.9" cy="719.3" r="1.3"/>
<circle cx="107.8" cy="760.1" r="1.3"/>
<circle cx="94.0" cy="865.4" r="1.3"/>
<circle cx="95.4" cy="865.2" r="1.3"/>
<circle cx="96.8" cy="865.2" r="1.3"/>
<circle cx="99.1" cy="865.4" r="1.3"/>
<circle cx="100.1" cy="865.4" r="1.3"/>
<circle cx="100.9" cy="865.2" r="1.3"/>
<circle cx="103.0" cy="865.4" r="1.3"/>
<circle cx="104.2" cy="865.2" r="1.3"/>
<circle cx="105.0" cy="865.3" r="1.3"/>
<circle cx="106.9" cy="865.1" r="1.3"/>
<circle cx="108.6" cy="865.3" r="1.3"/>
<circle cx="109.1" cy="865.3" r="1.3"/>
<circle cx="111.3" cy="865.2" r="1.3"/>
<circle cx="112.5" cy="865.1" r="1.3"/>
<circle cx="113.2" cy="865.2" r="1.3"/>
<circle cx="114.6" cy="865.4" r="1.3"/>
<circle cx="116.3" cy="865.2" r="1.3"/>
<circle cx="118.2" cy="865.4" r="1.3"/>
<circle cx="118.7" cy="865.2" r="1.3"/>
<circle cx="120.9" cy="865.2" r="1.3"/>
<circle cx="121.3" cy="865.3" r="1.3"/>
<circle cx="123.6" cy="865.4" r="1.3"/>
<circle cx="124.0" cy="865.2" r="1.3"/>
<circle cx="125.9" cy="865.3" r="1.3"/>
<circle cx="127.5" cy="865.2" r="1.3"/>
<circle cx="128.8" cy="865.2" r="1.3"/>
<circle cx="129.7" cy="865.2" r="1.3"/>
<circle cx="131.9" cy="865.4" r="1.3"/>
<circle cx="132.6" cy="865.4" r="1.3"/>
<circle cx="134.2" cy="865.3" r="1.3"/>
<circle cx="231.0" cy="779.4" r="1.3"/>
<circle cx="205.0" cy="851.7" r="1.3"/>
<circle cx="205.0" cy="792.5" r="1.3"/>
<circle cx="212.9" cy="841.7" r="1.3"/>
<circle cx="222.1" cy="756.3" r="1.3"/>
<circle cx="224.1" cy="821.7" r="1.3"/>
<circle cx="206.3" cy="616.8" r="1.3"/>
<circle cx="222.5" cy="821.2" r="1.3"/>
<circle cx="215.3" cy="839.8" r="1.3"/>
<circle cx="221.1" cy="812.1" r="1.3"/>
<circle cx="207.6" cy="639.7" r="1.3"/>
<circle cx="209.5" cy="855.2" r="1.3"/>
<circle cx="216.9" cy="858.3" r="1.3"/>
<circle cx="206.8" cy="762.6" r="1.3"/>
<circle cx="222.8" cy="768.2" r="1.3"/>
<circle cx="215.3" cy="604.7" r="1.3"/>
<circle cx="199.7" cy="756.1" r="1.3"/>
<circle cx="239.3" cy="787.0" r="1.3"/>
<circle cx="221.9" cy="674.2" r="1.3"/>
<circle cx="237.0" cy="815.6" r="1.3"/>
<circle cx="203.6" cy="835.4" r="1.3"/>
<circle cx="234.3" cy="783.2" r="1.3"/>
<circle cx="234.4" cy="722.6" r="1.3"/>
<circle cx="221.0" cy="804.3" r="1.3"/>
<circle cx="200.1" cy="848.3" r="1.3"/>
<circle cx="210.8" cy="681.0" r="1.3"/>
<circle cx="236.4" cy="800.2" r="1.3"/>
<circle cx="218.9" cy="837.8" r="1.3"/>
<circle cx="220.3" cy="628.0" r="1.3"/>
<circle cx="218.6" cy="768.5" r="1.3"/>
<circle cx="215.8" cy="755.2" r="1.3"/>
<circle cx="239.1" cy="634.5" r="1.3"/>
<circle cx="227.1" cy="671.2" r="1.3"/>
<circle cx="228.0" cy="831.6" r="1.3"/>
<circle cx="236.2" cy="832.1" r="1.3"/>
<circle cx="221.2" cy="830.2" r="1.3"/>
<circle cx="226.0" cy="746.6" r="1.3"/>
<circle cx="202.5" cy="762.2" r="1.3"/>
<circle cx="238.1" cy="723.6" r="1.3"/>
<circle cx="208.1" cy="728.6" r="1.3"/>
<circle cx="208.1" cy="748.0" r="1.3"/>
<circle cx="225.8" cy="793.4" r="1.3"/>
<circle cx="211.4" cy="797.6" r="1.3"/>
<circle cx="221.3" cy="718.2" r="1.3"/>
<circle cx="222.3" cy="801.9" r="1.3"/>
<circle cx="221.6" cy="694.7" r="1.3"/>
<circle cx="236.3" cy="654.7" r="1.3"/>
<circle cx="206.1" cy="810.6" r="1.3"/>
<circle cx="215.5" cy="619.0" r="1.3"/>
<circle cx="225.6" cy="751.8" r="1.3"/>
<circle cx="227.1" cy="708.5" r="1.3"/>
<circle cx="202.6" cy="748.5" r="1.3"/>
<circle cx="211.0" cy="798.4" r="1.3"/>
<circle cx="210.1" cy="789.5" r="1.3"/>
<circle cx="212.7" cy="853.8" r="1.3"/>
<circle cx="205.4" cy="805.0" r="1.3"/>
<circle cx="233.3" cy="697.0" r="1.3"/>
<circle cx="240.8" cy="815.2" r="1.3"/>
<circle cx="203.4" cy="724.5" r="1.3"/>
<circle cx="208.7" cy="713.2" r="1.3"/>
<circle cx="234.4" cy="691.6" r="1.3"/>
<circle cx="231.6" cy="702.0" r="1.3"/>
<circle cx="238.2" cy="815.6" r="1.3"/>
<circle cx="210.5" cy="844.3" r="1.3"/>
<circle cx="230.0" cy="799.7" r="1.3"/>
<circle cx="231.4" cy="635.2" r="1.3"/>
<circle cx="222.4" cy="630.2" r="1.3"/>
<circle cx="227.5" cy="687.6" r="1.3"/>
<circle cx="230.3" cy="702.2" r="1.3"/>
<circle cx="222.6" cy="807.6" r="1.3"/>
<circle cx="200.3" cy="829.0" r="1.3"/>
<circle cx="203.4" cy="747.7" r="1.3"/>
<circle cx="203.7" cy="821.3" r="1.3"/>
<circle cx="230.8" cy="862.1" r="1.3"/>
<circle cx="224.9" cy="852.5" r="1.3"/>
<circle cx="228.9" cy="795.2" r="1.3"/>
<circle cx="202.1" cy="746.2" r="1.3"/>
<circle cx="234.1" cy="639.4" r="1.3"/>
<circle cx="219.5" cy="847.9" r="1.3"/>
<circle cx="200.6" cy="689.1" r="1.3"/>
<circle cx="209.0" cy="608.9" r="1.3"/>
<circle cx="238.9" cy="646.3" r="1.3"/>
<circle cx="206.2" cy="679.8" r="1.3"/>
<circle cx="218.9" cy="769.2" r="1.3"/>
<circle cx="211.4" cy="796.4" r="1.3"/>
<circle cx="217.3" cy="758.7" r="1.3"/>
<circle cx="228.9" cy="589.4" r="1.3"/>
<circle cx="239.5" cy="781.1" r="1.3"/>
<circle cx="209.8" cy="839.0" r="1.3"/>
<circle cx="219.5" cy="669.8" r="1.3"/>
<circle cx="199.9" cy="713.7" r="1.3"/>
<circle cx="234.1" cy="776.1" r="1.3"/>
<circle cx="223.7" cy="816.5" r="1.3"/>
<circle cx="231.7" cy="804.1" r="1.3"/>
<circle cx="224.5" cy="833.9" r="1.3"/>
<circle cx="214.4" cy="793.2" r="1.3"/>
<circle cx="220.3" cy="780.0" r="1.3"/>
<circle cx="238.3" cy="595.6" r="1.3"/>
<circle cx="232.8" cy="606.5" r="1.3"/>
<circle cx="209.6" cy="835.2" r="1.3"/>
<circle cx="238.9" cy="765.3" r="1.3"/>
<circle cx="215.2" cy="833.4" r="1.3"/>
<circle cx="225.4" cy="770.1" r="1.3"/>
<circle cx="241.2" cy="855.2" r="1.3"/>
<circle cx="203.6" cy="605.9" r="1.3"/>
<circle cx="227.8" cy="797.6" r="1.3"/>
<circle cx="231.9" cy="827.1" r="1.3"/>
<circle cx="217.2" cy="859.6" r="1.3"/>
<circle cx="208.2" cy="750.6" r="1.3"/>
<circle cx="238.2" cy="724.4" r="1.3"/>
<circle cx="204.3" cy="809.0" r="1.3"/>
<circle cx="234.1" cy="751.8" r="1.3"/>
<circle cx="225.0" cy="793.2" r="1.3"/>
<circle cx="209.7" cy="847.0" r="1.3"/>
<circle cx="220.7" cy="833.1" r="1.3"/>
<circle cx="239.8" cy="820.3" r="1.3"/>
<circle cx="231.3" cy="654.1" r="1.3"/>
<circle cx="204.6" cy="699.7" r="1.3"/>
<circle cx="209.7" cy="797.8" r="1.3"/>
<circle cx="235.2" cy="841.6" r="1.3"/>
<circle cx="206.0" cy="862.1" r="1.3"/>
<circle cx="224.3" cy="860.6" r="1.3"/>
<circle cx="204.8" cy="745.7" r="1.3"/>
<circle cx="235.9" cy="778.6" r="1.3"/>
<circle cx="239.2" cy="639.7" r="1.3"/>
<circle cx="199.8" cy="860.0" r="1.3"/>
<circle cx="234.6" cy="578.3" r="1.3"/>
<circle cx="209.5" cy="797.8" r="1.3"/>
<circle cx="237.3" cy="735.7" r="1.3"/>
<circle cx="231.1" cy="662.8" r="1.3"/>
<circle cx="213.7" cy="729.7" r="1.3"/>
<circle cx="237.0" cy="661.6" r="1.3"/>
<circle cx="205.0" cy="625.5" r="1.3"/>
<circle cx="216.8" cy="751.3" r="1.3"/>
<circle cx="231.0" cy="839.9" r="1.3"/>
<circle cx="199.5" cy="842.4" r="1.3"/>
<circle cx="216.3" cy="739.6" r="1.3"/>
<circle cx="215.9" cy="776.2" r="1.3"/>
<circle cx="207.3" cy="755.7" r="1.3"/>
<circle cx="212.7" cy="722.8" r="1.3"/>
<circle cx="222.0" cy="677.6" r="1.3"/>
<circle cx="213.7" cy="779.1" r="1.3"/>
<circle cx="206.9" cy="790.3" r="1.3"/>
<circle cx="239.9" cy="751.9" r="1.3"/>
<circle cx="215.6" cy="833.7" r="1.3"/>
<circle cx="212.1" cy="625.4" r="1.3"/>
<circle cx="230.5" cy="847.2" r="1.3"/>
<circle cx="224.4" cy="827.2" r="1.3"/>
<circle cx="201.5" cy="770.7" r="1.3"/>
<circle cx="230.4" cy="752.5" r="1.3"/>
<circle cx="220.5" cy="813.8" r="1.3"/>
<circle cx="212.0" cy="820.2" r="1.3"/>
<circle cx="235.2" cy="810.4" r="1.3"/>
<circle cx="211.7" cy="628.9" r="1.3"/>
<circle cx="237.9" cy="565.7" r="1.3"/>
<circle cx="209.3" cy="695.4" r="1.3"/>
<circle cx="239.8" cy="759.7" r="1.3"/>
<circle cx="233.5" cy="827.5" r="1.3"/>
<circle cx="208.6" cy="769.8" r="1.3"/>
<circle cx="221.0" cy="732.5" r="1.3"/>
<circle cx="209.2" cy="834.8" r="1.3"/>
<circle cx="220.2" cy="681.4" r="1.3"/>
<circle cx="223.8" cy="605.0" r="1.3"/>
<circle cx="217.6" cy="831.2" r="1.3"/>
<circle cx="231.7" cy="715.3" r="1.3"/>
<circle cx="224.9" cy="729.4" r="1.3"/>
<circle cx="231.2" cy="750.2" r="1.3"/>
<circle cx="220.5" cy="792.3" r="1.3"/>
<circle cx="201.6" cy="790.2" r="1.3"/>
<circle cx="219.5" cy="814.9" r="1.3"/>
<circle cx="229.3" cy="679.0" r="1.3"/>
<circle cx="208.3" cy="854.2" r="1.3"/>
<circle cx="199.9" cy="757.6" r="1.3"/>
<circle cx="219.7" cy="769.5" r="1.3"/>
<circle cx="226.5" cy="777.3" r="1.3"/>
<circle cx="225.3" cy="587.2" r="1.3"/>
<circle cx="231.4" cy="785.9" r="1.3"/>
<circle cx="214.8" cy="675.6" r="1.3"/>
<circle cx="237.7" cy="660.0" r="1.3"/>
<circle cx="208.3" cy="817.8" r="1.3"/>
<circle cx="228.3" cy="839.7" r="1.3"/>
<circle cx="220.3" cy="764.2" r="1.3"/>
<circle cx="213.8" cy="824.6" r="1.3"/>
<circle cx="218.3" cy="824.6" r="1.3"/>
<circle cx="214.6" cy="719.0" r="1.3"/>
<circle cx="240.4" cy="750.8" r="1.3"/>
<circle cx="205.2" cy="832.7" r="1.3"/>
<circle cx="208.7" cy="775.4" r="1.3"/>
<circle cx="211.3" cy="717.9" r="1.3"/>
<circle cx="236.3" cy="756.8" r="1.3"/>
<circle cx="200.5" cy="865.4" r="1.3"/>
<circle cx="201.7" cy="865.4" r="1.3"/>
<circle cx="203.7" cy="865.2" r="1.3"/>
<circle cx="205.3" cy="865.5" r="1.3"/>
<circle cx="206.7" cy="865.4" r="1.3"/>
<circle cx="207.6" cy="865.1" r="1.3"/>
<circle cx="208.7" cy="865.4" r="1.3"/>
<circle cx="210.8" cy="865.5" r="1.3"/>
<circle cx="212.7" cy="865.1" r="1.3"/>
<circle cx="213.1" cy="865.1" r="1.3"/>
<circle cx="214.5" cy="865.3" r="1.3"/>
<circle cx="216.9" cy="865.4" r="1.3"/>
<circle cx="218.1" cy="865.4" r="1.3"/>
<circle cx="219.9" cy="865.4" r="1.3"/>
<circle cx="220.5" cy="865.4" r="1.3"/>
<circle cx="222.2" cy="865.2" r="1.3"/>
<circle cx="223.7" cy="865.1" r="1.3"/>
<circle cx="225.6" cy="865.1" r="1.3"/>
<circle cx="226.2" cy="865.2" r="1.3"/>
<circle cx="228.3" cy="865.3" r="1.3"/>
<circle cx="229.7" cy="865.4" r="1.3"/>
<circle cx="231.0" cy="865.5" r="1.3"/>
<circle cx="232.7" cy="865.5" r="1.3"/>
<circle cx="234.2" cy="865.4" r="1.3"/>
<circle cx="235.8" cy="865.5" r="1.3"/>
<circle cx="236.8" cy="865.1" r="1.3"/>
<circle cx="238.0" cy="865.3" r="1.3"/>
<circle cx="239.4" cy="865.4" r="1.3"/>
<circle cx="325.8" cy="528.8" r="1.3"/>
<circle cx="326.8" cy="576.5" r="1.3"/>
<circle cx="329.6" cy="522.5" r="1.3"/>
<circle cx="328.8" cy="725.0" r="1.3"/>
<circle cx="314.5" cy="623.2" r="1.3"/>
<circle cx="319.6" cy="711.0" r="1.3"/>
<circle cx="341.3" cy="655.0" r="1.3"/>
<circle cx="337.5" cy="828.9" r="1.3"/>
<circle cx="330.3" cy="536.5" r="1.3"/>
<circle cx="339.0" cy="735.9" r="1.3"/>
<circle cx="337.1" cy="699.2" r="1.3"/>
<circle cx="305.5" cy="628.7" r="1.3"/>
<circle cx="316.0" cy="660.0" r="1.3"/>
<circle cx="334.2" cy="653.7" r="1.3"/>
<circle cx="342.0" cy="598.8" r="1.3"/>
<circle cx="322.2" cy="787.1" r="1.3"/>
<circle cx="332.3" cy="673.9" r="1.3"/>
<circle cx="314.1" cy="696.7" r="1.3"/>
<circle cx="328.7" cy="668.0" r="1.3"/>
<circle cx="315.9" cy="704.2" r="1.3"/>
<circle cx="318.9" cy="578.2" r="1.3"/>
<circle cx="337.7" cy="813.5" r="1.3"/>
<circle cx="332.5" cy="736.8" r="1.3"/>
<circle cx="334.3" cy="738.5" r="1.3"/>
<circle cx="342.0" cy="543.3" r="1.3"/>
<circle cx="342.2" cy="607.9" r="1.3"/>
<circle cx="307.6" cy="633.7" r="1.3"/>
<circle cx="315.8" cy="539.6" r="1.3"/>
<circle cx="334.2" cy="694.7" r="1.3"/>
<circle cx="305.5" cy="811.5" r="1.3"/>
<circle cx="314.5" cy="714.8" r="1.3"/>
<circle cx="339.9" cy="570.4" r="1.3"/>
<circle cx="343.8" cy="614.7" r="1.3"/>
<circle cx="305.9" cy="662.1" r="1.3"/>
<circle cx="334.9" cy="638.5" r="1.3"/>
<circle cx="322.4" cy="743.0" r="1.3"/>
<circle cx="329.9" cy="759.3" r="1.3"/>
<circle cx="346.6" cy="626.5" r="1.3"/>
<circle cx="340.0" cy="774.9" r="1.3"/>
<circle cx="333.9" cy="597.4" r="1.3"/>
<circle cx="315.4" cy="595.4" r="1.3"/>
<circle cx="324.8" cy="767.1" r="1.3"/>
<circle cx="305.3" cy="682.6" r="1.3"/>
<circle cx="326.8" cy="639.2" r="1.3"/>
<circle cx="343.0" cy="598.2" r="1.3"/>
<circle cx="345.3" cy="578.1" r="1.3"/>
<circle cx="322.1" cy="829.6" r="1.3"/>
<circle cx="326.7" cy="566.3" r="1.3"/>
<circle cx="329.2" cy="763.1" r="1.3"/>
<circle cx="328.5" cy="527.9" r="1.3"/>
<circle cx="333.0" cy="851.4" r="1.3"/>
<circle cx="323.3" cy="648.4" r="1.3"/>
<circle cx="314.1" cy="806.5" r="1.3"/>
<circle cx="334.8" cy="553.4" r="1.3"/>
<circle cx="311.0" cy="610.7" r="1.3"/>
<circle cx="310.7" cy="811.4" r="1.3"/>
<circle cx="316.0" cy="641.6" r="1.3"/>
<circle cx="314.2" cy="626.6" r="1.3"/>
<circle cx="346.3" cy="592.2" r="1.3"/>
<circle cx="330.4" cy="549.5" r="1.3"/>
<circle cx="339.2" cy="553.4" r="1.3"/>
<circle cx="318.7" cy="694.0" r="1.3"/>
<circle cx="337.5" cy="760.1" r="1.3"/>
<circle cx="320.5" cy="663.1" r="1.3"/>
<circle cx="308.1" cy="756.1" r="1.3"/>
<circle cx="318.6" cy="680.6" r="1.3"/>
<circle cx="333.4" cy="757.4" r="1.3"/>
<circle cx="314.4" cy="566.3" r="1.3"/>
<circle cx="331.3" cy="717.1" r="1.3"/>
<circle cx="346.9" cy="756.6" r="1.3"/>
<circle cx="316.6" cy="755.7" r="1.3"/>
<circle cx="315.8" cy="665.8" r="1.3"/>
<circle cx="331.7" cy="568.3" r="1.3"/>
<circle cx="339.7" cy="594.3" r="1.3"/>
<circle cx="329.2" cy="596.4" r="1.3"/>
<circle cx="316.9" cy="559.7" r="1.3"/>
<circle cx="345.8" cy="855.1" r="1.3"/>
<circle cx="320.1" cy="679.3" r="1.3"/>
<circle cx="342.6" cy="762.6" r="1.3"/>
<circle cx="326.6" cy="792.8" r="1.3"/>
<circle cx="343.5" cy="694.1" r="1.3"/>
<circle cx="317.9" cy="722.1" r="1.3"/>
<circle cx="329.4" cy="652.9" r="1.3"/>
<circle cx="346.6" cy="582.4" r="1.3"/>
<circle cx="342.2" cy="648.8" r="1.3"/>
<circle cx="308.9" cy="625.4" r="1.3"/>
<circle cx="338.7" cy="681.1" r="1.3"/>
<circle cx="326.8" cy="590.8" r="1.3"/>
<circle cx="322.4" cy="673.6" r="1.3"/>
<circle cx="306.7" cy="641.2" r="1.3"/>
<circle cx="309.2" cy="579.4" r="1.3"/>
<circle cx="336.2" cy="768.5" r="1.3"/>
<circle cx="342.6" cy="630.3" r="1.3"/>
<circle cx="317.2" cy="842.7" r="1.3"/>
<circle cx="328.2" cy="642.1" r="1.3"/>
<circle cx="333.0" cy="540.1" r="1.3"/>
<circle cx="318.0" cy="634.2" r="1.3"/>
<circle cx="318.3" cy="614.0" r="1.3"/>
<circle cx="329.4" cy="634.1" r="1.3"/>
<circle cx="316.9" cy="553.3" r="1.3"/>
<circle cx="332.4" cy="561.8" r="1.3"/>
<circle cx="313.7" cy="658.2" r="1.3"/>
<circle cx="305.2" cy="658.0" r="1.3"/>
<circle cx="326.4" cy="751.1" r="1.3"/>
<circle cx="321.3" cy="616.4" r="1.3"/>
<circle cx="318.9" cy="615.3" r="1.3"/>
<circle cx="328.4" cy="813.1" r="1.3"/>
<circle cx="331.6" cy="764.1" r="1.3"/>
<circle cx="327.4" cy="622.4" r="1.3"/>
<circle cx="338.8" cy="648.1" r="1.3"/>
<circle cx="343.4" cy="642.1" r="1.3"/>
<circle cx="323.8" cy="616.1" r="1.3"/>
<circle cx="337.1" cy="573.6" r="1.3"/>
<circle cx="311.4" cy="661.2" r="1.3"/>
<circle cx="346.9" cy="682.4" r="1.3"/>
<circle cx="342.7" cy="605.9" r="1.3"/>
<circle cx="338.5" cy="733.0" r="1.3"/>
<circle cx="308.0" cy="680.9" r="1.3"/>
<circle cx="344.1" cy="768.3" r="1.3"/>
<circle cx="312.5" cy="767.7" r="1.3"/>
<circle cx="325.1" cy="539.4" r="1.3"/>
<circle cx="317.0" cy="841.8" r="1.3"/>
<circle cx="340.2" cy="821.8" r="1.3"/>
<circle cx="305.6" cy="561.3" r="1.3"/>
<circle cx="311.8" cy="745.7" r="1.3"/>
<circle cx="320.1" cy="643.6" r="1.3"/>
<circle cx="332.8" cy="755.4" r="1.3"/>
<circle cx="328.9" cy="687.3" r="1.3"/>
<circle cx="314.8" cy="611.6" r="1.3"/>
<circle cx="315.8" cy="617.7" r="1.3"/>
<circle cx="321.7" cy="642.0" r="1.3"/>
<circle cx="317.1" cy="799.3" r="1.3"/>
<circle cx="306.4" cy="690.4" r="1.3"/>
<circle cx="307.6" cy="685.8" r="1.3"/>
<circle cx="341.5" cy="705.5" r="1.3"/>
<circle cx="330.6" cy="685.4" r="1.3"/>
<circle cx="319.8" cy="674.3" r="1.3"/>
<circle cx="338.4" cy="697.7" r="1.3"/>
<circle cx="320.3" cy="547.5" r="1.3"/>
<circle cx="329.0" cy="600.7" r="1.3"/>
<circle cx="315.6" cy="595.2" r="1.3"/>
<circle cx="310.5" cy="668.7" r="1.3"/>
<circle cx="332.5" cy="685.2" r="1.3"/>
<circle cx="344.8" cy="731.0" r="1.3"/>
<circle cx="305.7" cy="565.8" r="1.3"/>
<circle cx="336.7" cy="563.0" r="1.3"/>
<circle cx="342.4" cy="771.2" r="1.3"/>
<circle cx="332.9" cy="565.9" r="1.3"/>
<circle cx="315.8" cy="646.2" r="1.3"/>
<circle cx="317.0" cy="696.4" r="1.3"/>
<circle cx="325.1" cy="806.6" r="1.3"/>
<circle cx="345.0" cy="675.5" r="1.3"/>
<circle cx="309.1" cy="536.5" r="1.3"/>
<circle cx="313.5" cy="532.6" r="1.3"/>
<circle cx="328.6" cy="598.5" r="1.3"/>
<circle cx="318.8" cy="618.9" r="1.3"/>
<circle cx="319.1" cy="564.8" r="1.3"/>
<circle cx="309.0" cy="645.1" r="1.3"/>
<circle cx="326.6" cy="675.3" r="1.3"/>
<circle cx="345.7" cy="807.0" r="1.3"/>
<circle cx="334.3" cy="647.3" r="1.3"/>
<circle cx="313.9" cy="635.4" r="1.3"/>
<circle cx="338.3" cy="737.1" r="1.3"/>
<circle cx="322.3" cy="834.1" r="1.3"/>
<circle cx="324.3" cy="668.7" r="1.3"/>
<circle cx="318.2" cy="807.3" r="1.3"/>
<circle cx="307.7" cy="582.2" r="1.3"/>
<circle cx="323.3" cy="748.4" r="1.3"/>
<circle cx="346.1" cy="698.4" r="1.3"/>
<circle cx="314.7" cy="708.3" r="1.3"/>
<circle cx="323.3" cy="758.4" r="1.3"/>
<circle cx="319.2" cy="642.0" r="1.3"/>
<circle cx="323.1" cy="634.5" r="1.3"/>
<circle cx="323.7" cy="721.0" r="1.3"/>
<circle cx="317.4" cy="735.7" r="1.3"/>
<circle cx="330.3" cy="613.7" r="1.3"/>
<circle cx="328.9" cy="634.6" r="1.3"/>
<circle cx="320.4" cy="722.0" r="1.3"/>
<circle cx="322.7" cy="553.0" r="1.3"/>
<circle cx="341.5" cy="558.1" r="1.3"/>
<circle cx="312.5" cy="736.1" r="1.3"/>
<circle cx="314.6" cy="782.0" r="1.3"/>
<circle cx="345.2" cy="679.4" r="1.3"/>
<circle cx="310.9" cy="676.8" r="1.3"/>
<circle cx="342.1" cy="619.3" r="1.3"/>
<circle cx="343.3" cy="802.2" r="1.3"/>
<circle cx="326.8" cy="846.7" r="1.3"/>
<circle cx="314.2" cy="752.8" r="1.3"/>
<circle cx="325.7" cy="673.1" r="1.3"/>
<circle cx="323.3" cy="654.6" r="1.3"/>
<circle cx="316.2" cy="643.1" r="1.3"/>
<circle cx="314.9" cy="569.7" r="1.3"/>
<circle cx="331.8" cy="691.7" r="1.3"/>
<circle cx="320.8" cy="718.2" r="1.3"/>
<circle cx="305.5" cy="668.4" r="1.3"/>
<circle cx="312.1" cy="599.0" r="1.3"/>
<circle cx="307.7" cy="536.5" r="1.3"/>
<circle cx="339.1" cy="722.7" r="1.3"/>
<circle cx="330.2" cy="662.1" r="1.3"/>
<circle cx="313.0" cy="698.1" r="1.3"/>
<circle cx="307.8" cy="865.2" r="1.3"/>
<circle cx="309.3" cy="865.5" r="1.3"/>
<circle cx="314.1" cy="865.2" r="1.3"/>
<circle cx="315.0" cy="865.5" r="1.3"/>
<circle cx="318.1" cy="865.3" r="1.3"/>
<circle cx="321.0" cy="865.5" r="1.3"/>
<circle cx="324.9" cy="865.2" r="1.3"/>
<circle cx="328.7" cy="865.3" r="1.3"/>
<circle cx="330.1" cy="865.3" r="1.3"/>
<circle cx="332.7" cy="865.3" r="1.3"/>
<circle cx="335.8" cy="865.4" r="1.3"/>
<circle cx="338.5" cy="865.2" r="1.3"/>
<circle cx="343.1" cy="865.2" r="1.3"/>
<circle cx="346.0" cy="865.5" r="1.3"/>
<circle cx="411.7" cy="666.4" r="1.3"/>
<circle cx="439.8" cy="630.0" r="1.3"/>
<circle cx="436.0" cy="554.0" r="1.3"/>
<circle cx="448.4" cy="665.8" r="1.3"/>
<circle cx="438.8" cy="566.3" r="1.3"/>
<circle cx="447.5" cy="551.4" r="1.3"/>
<circle cx="412.6" cy="634.7" r="1.3"/>
<circle cx="423.5" cy="694.8" r="1.3"/>
<circle cx="414.4" cy="782.3" r="1.3"/>
<circle cx="440.9" cy="680.6" r="1.3"/>
<circle cx="419.0" cy="575.8" r="1.3"/>
<circle cx="449.0" cy="683.8" r="1.3"/>
<circle cx="413.0" cy="590.9" r="1.3"/>
<circle cx="439.0" cy="722.7" r="1.3"/>
<circle cx="446.7" cy="548.9" r="1.3"/>
<circle cx="447.3" cy="687.3" r="1.3"/>
<circle cx="442.6" cy="690.6" r="1.3"/>
<circle cx="445.3" cy="562.5" r="1.3"/>
<circle cx="415.8" cy="686.2" r="1.3"/>
<circle cx="449.2" cy="635.5" r="1.3"/>
<circle cx="437.8" cy="630.1" r="1.3"/>
<circle cx="439.2" cy="639.8" r="1.3"/>
<circle cx="452.4" cy="802.4" r="1.3"/>
<circle cx="411.8" cy="624.4" r="1.3"/>
<circle cx="450.0" cy="630.7" r="1.3"/>
<circle cx="430.1" cy="645.4" r="1.3"/>
<circle cx="429.2" cy="589.8" r="1.3"/>
<circle cx="428.9" cy="598.3" r="1.3"/>
<circle cx="438.0" cy="698.7" r="1.3"/>
<circle cx="417.3" cy="585.4" r="1.3"/>
<circle cx="432.2" cy="681.0" r="1.3"/>
<circle cx="438.6" cy="548.8" r="1.3"/>
<circle cx="449.6" cy="833.7" r="1.3"/>
<circle cx="450.3" cy="828.6" r="1.3"/>
<circle cx="427.7" cy="783.1" r="1.3"/>
<circle cx="436.3" cy="655.5" r="1.3"/>
<circle cx="449.9" cy="745.0" r="1.3"/>
<circle cx="437.9" cy="854.3" r="1.3"/>
<circle cx="411.6" cy="729.9" r="1.3"/>
<circle cx="451.6" cy="694.1" r="1.3"/>
<circle cx="450.1" cy="631.0" r="1.3"/>
<circle cx="434.5" cy="726.4" r="1.3"/>
<circle cx="442.1" cy="684.0" r="1.3"/>
<circle cx="439.8" cy="671.4" r="1.3"/>
<circle cx="445.1" cy="577.5" r="1.3"/>
<circle cx="451.0" cy="581.0" r="1.3"/>
<circle cx="439.4" cy="721.4" r="1.3"/>
<circle cx="435.4" cy="619.7" r="1.3"/>
<circle cx="440.8" cy="653.9" r="1.3"/>
<circle cx="415.4" cy="584.9" r="1.3"/>
<circle cx="416.2" cy="597.6" r="1.3"/>
<circle cx="438.0" cy="532.8" r="1.3"/>
<circle cx="451.6" cy="589.0" r="1.3"/>
<circle cx="440.1" cy="612.9" r="1.3"/>
<circle cx="415.0" cy="636.0" r="1.3"/>
<circle cx="411.5" cy="686.4" r="1.3"/>
<circle cx="443.6" cy="824.9" r="1.3"/>
<circle cx="438.2" cy="678.0" r="1.3"/>
<circle cx="416.8" cy="604.7" r="1.3"/>
<circle cx="436.7" cy="569.8" r="1.3"/>
<circle cx="414.7" cy="585.7" r="1.3"/>
<circle cx="419.5" cy="618.2" r="1.3"/>
<circle cx="412.6" cy="839.5" r="1.3"/>
<circle cx="418.6" cy="601.8" r="1.3"/>
<circle cx="448.6" cy="680.7" r="1.3"/>
<circle cx="432.7" cy="538.4" r="1.3"/>
<circle cx="423.2" cy="652.6" r="1.3"/>
<circle cx="426.8" cy="580.0" r="1.3"/>
<circle cx="440.8" cy="808.3" r="1.3"/>
<circle cx="419.6" cy="825.4" r="1.3"/>
<circle cx="420.5" cy="680.8" r="1.3"/>
<circle cx="416.6" cy="716.3" r="1.3"/>
<circle cx="425.4" cy="668.1" r="1.3"/>
<circle cx="430.0" cy="680.7" r="1.3"/>
<circle cx="440.8" cy="562.9" r="1.3"/>
<circle cx="413.4" cy="661.3" r="1.3"/>
<circle cx="449.0" cy="639.7" r="1.3"/>
<circle cx="441.0" cy="544.3" r="1.3"/>
<circle cx="423.4" cy="661.5" r="1.3"/>
<circle cx="441.2" cy="636.2" r="1.3"/>
<circle cx="444.9" cy="665.3" r="1.3"/>
<circle cx="427.2" cy="674.1" r="1.3"/>
<circle cx="426.2" cy="673.4" r="1.3"/>
<circle cx="428.0" cy="588.0" r="1.3"/>
<circle cx="447.2" cy="618.0" r="1.3"/>
<circle cx="448.0" cy="577.7" r="1.3"/>
<circle cx="421.2" cy="640.0" r="1.3"/>
<circle cx="443.3" cy="703.2" r="1.3"/>
<circle cx="413.6" cy="860.1" r="1.3"/>
<circle cx="411.1" cy="564.7" r="1.3"/>
<circle cx="448.8" cy="660.5" r="1.3"/>
<circle cx="430.2" cy="733.2" r="1.3"/>
<circle cx="431.2" cy="670.3" r="1.3"/>
<circle cx="447.7" cy="688.2" r="1.3"/>
<circle cx="416.4" cy="662.9" r="1.3"/>
<circle cx="428.4" cy="746.0" r="1.3"/>
<circle cx="442.5" cy="678.6" r="1.3"/>
<circle cx="413.9" cy="608.8" r="1.3"/>
<circle cx="432.6" cy="600.7" r="1.3"/>
<circle cx="450.3" cy="733.9" r="1.3"/>
<circle cx="436.5" cy="579.2" r="1.3"/>
<circle cx="446.8" cy="722.5" r="1.3"/>
<circle cx="416.9" cy="709.3" r="1.3"/>
<circle cx="444.7" cy="570.1" r="1.3"/>
<circle cx="427.8" cy="705.0" r="1.3"/>
<circle cx="435.1" cy="612.2" r="1.3"/>
<circle cx="445.7" cy="532.7" r="1.3"/>
<circle cx="451.9" cy="577.5" r="1.3"/>
<circle cx="446.5" cy="603.2" r="1.3"/>
<circle cx="423.8" cy="634.4" r="1.3"/>
<circle cx="436.5" cy="683.4" r="1.3"/>
<circle cx="452.7" cy="685.6" r="1.3"/>
<circle cx="424.4" cy="705.9" r="1.3"/>
<circle cx="448.0" cy="713.6" r="1.3"/>
<circle cx="451.1" cy="558.6" r="1.3"/>
<circle cx="439.0" cy="830.1" r="1.3"/>
<circle cx="430.1" cy="689.0" r="1.3"/>
<circle cx="418.5" cy="543.6" r="1.3"/>
<circle cx="436.3" cy="602.2" r="1.3"/>
<circle cx="411.4" cy="691.3" r="1.3"/>
<circle cx="449.7" cy="654.2" r="1.3"/>
<circle cx="418.4" cy="809.1" r="1.3"/>
<circle cx="433.2" cy="674.9" r="1.3"/>
<circle cx="450.0" cy="607.7" r="1.3"/>
<circle cx="433.9" cy="700.1" r="1.3"/>
<circle cx="451.5" cy="633.5" r="1.3"/>
<circle cx="434.3" cy="610.5" r="1.3"/>
<circle cx="417.3" cy="644.3" r="1.3"/>
<circle cx="423.5" cy="580.6" r="1.3"/>
<circle cx="418.9" cy="631.8" r="1.3"/>
<circle cx="422.0" cy="692.5" r="1.3"/>
<circle cx="430.7" cy="556.8" r="1.3"/>
<circle cx="422.9" cy="567.4" r="1.3"/>
<circle cx="416.9" cy="558.9" r="1.3"/>
<circle cx="443.5" cy="530.6" r="1.3"/>
<circle cx="415.9" cy="686.1" r="1.3"/>
<circle cx="451.2" cy="649.4" r="1.3"/>
<circle cx="438.3" cy="743.3" r="1.3"/>
<circle cx="438.7" cy="680.3" r="1.3"/>
<circle cx="452.5" cy="575.5" r="1.3"/>
<circle cx="424.3" cy="811.3" r="1.3"/>
<circle cx="451.9" cy="646.6" r="1.3"/>
<circle cx="446.9" cy="826.7" r="1.3"/>
<circle cx="411.4" cy="767.0" r="1.3"/>
<circle cx="431.0" cy="652.0" r="1.3"/>
<circle cx="438.9" cy="573.3" r="1.3"/>
<circle cx="423.8" cy="551.8" r="1.3"/>
<circle cx="415.4" cy="599.8" r="1.3"/>
<circle cx="417.3" cy="675.6" r="1.3"/>
<circle cx="449.8" cy="527.6" r="1.3"/>
<circle cx="419.0" cy="720.2" r="1.3"/>
<circle cx="451.4" cy="772.6" r="1.3"/>
<circle cx="437.8" cy="672.5" r="1.3"/>
<circle cx="450.9" cy="667.3" r="1.3"/>
<circle cx="444.1" cy="614.6" r="1.3"/>
<circle cx="417.6" cy="588.3" r="1.3"/>
<circle cx="411.4" cy="647.3" r="1.3"/>
<circle cx="449.9" cy="600.7" r="1.3"/>
<circle cx="422.6" cy="642.5" r="1.3"/>
<circle cx="452.7" cy="605.6" r="1.3"/>
<circle cx="415.0" cy="865.2" r="1.3"/>
<circle cx="420.1" cy="865.4" r="1.3"/>
<circle cx="427.9" cy="865.2" r="1.3"/>
<circle cx="431.3" cy="865.2" r="1.3"/>
<circle cx="439.9" cy="865.5" r="1.3"/>
<circle cx="442.1" cy="865.3" r="1.3"/>
<circle cx="448.5" cy="865.4" r="1.3"/>
<circle cx="542.2" cy="544.3" r="1.3"/>
<circle cx="547.9" cy="692.6" r="1.3"/>
<circle cx="520.1" cy="549.0" r="1.3"/>
<circle cx="554.3" cy="601.7" r="1.3"/>
<circle cx="554.5" cy="832.5" r="1.3"/>
<circle cx="544.6" cy="681.0" r="1.3"/>
<circle cx="527.5" cy="597.3" r="1.3"/>
<circle cx="543.8" cy="572.3" r="1.3"/>
<circle cx="557.3" cy="553.9" r="1.3"/>
<circle cx="537.9" cy="620.0" r="1.3"/>
<circle cx="525.4" cy="595.7" r="1.3"/>
<circle cx="529.4" cy="557.5" r="1.3"/>
<circle cx="530.1" cy="853.5" r="1.3"/>
<circle cx="548.2" cy="567.4" r="1.3"/>
<circle cx="526.7" cy="651.3" r="1.3"/>
<circle cx="552.2" cy="638.7" r="1.3"/>
<circle cx="550.0" cy="631.8" r="1.3"/>
<circle cx="524.2" cy="694.6" r="1.3"/>
<circle cx="530.6" cy="695.7" r="1.3"/>
<circle cx="527.5" cy="574.0" r="1.3"/>
<circle cx="542.7" cy="632.3" r="1.3"/>
<circle cx="530.6" cy="709.7" r="1.3"/>
<circle cx="536.3" cy="838.1" r="1.3"/>
<circle cx="521.2" cy="747.9" r="1.3"/>
<circle cx="526.2" cy="779.6" r="1.3"/>
<circle cx="557.2" cy="605.4" r="1.3"/>
<circle cx="532.1" cy="629.4" r="1.3"/>
<circle cx="557.9" cy="641.6" r="1.3"/>
<circle cx="538.3" cy="657.2" r="1.3"/>
<circle cx="528.2" cy="611.8" r="1.3"/>
<circle cx="548.8" cy="607.1" r="1.3"/>
<circle cx="548.0" cy="693.9" r="1.3"/>
<circle cx="520.1" cy="688.1" r="1.3"/>
<circle cx="544.1" cy="565.9" r="1.3"/>
<circle cx="550.2" cy="632.2" r="1.3"/>
<circle cx="540.8" cy="647.3" r="1.3"/>
<circle cx="521.4" cy="602.7" r="1.3"/>
<circle cx="517.4" cy="603.0" r="1.3"/>
<circle cx="549.4" cy="645.7" r="1.3"/>
<circle cx="524.0" cy="635.6" r="1.3"/>
<circle cx="533.1" cy="687.6" r="1.3"/>
<circle cx="532.7" cy="621.4" r="1.3"/>
<circle cx="532.5" cy="654.8" r="1.3"/>
<circle cx="551.5" cy="550.0" r="1.3"/>
<circle cx="538.6" cy="612.8" r="1.3"/>
<circle cx="548.9" cy="846.0" r="1.3"/>
<circle cx="525.4" cy="633.6" r="1.3"/>
<circle cx="542.4" cy="864.7" r="1.3"/>
<circle cx="551.9" cy="830.0" r="1.3"/>
<circle cx="550.4" cy="571.5" r="1.3"/>
<circle cx="525.5" cy="686.1" r="1.3"/>
<circle cx="556.0" cy="656.9" r="1.3"/>
<circle cx="527.8" cy="576.1" r="1.3"/>
<circle cx="521.6" cy="613.4" r="1.3"/>
<circle cx="528.6" cy="648.8" r="1.3"/>
<circle cx="530.9" cy="650.2" r="1.3"/>
<circle cx="551.5" cy="692.7" r="1.3"/>
<circle cx="533.1" cy="669.6" r="1.3"/>
<circle cx="517.3" cy="620.6" r="1.3"/>
<circle cx="528.9" cy="804.5" r="1.3"/>
<circle cx="536.5" cy="566.3" r="1.3"/>
<circle cx="534.7" cy="690.0" r="1.3"/>
<circle cx="520.7" cy="757.6" r="1.3"/>
<circle cx="554.2" cy="543.3" r="1.3"/>
<circle cx="535.8" cy="823.0" r="1.3"/>
<circle cx="558.5" cy="641.9" r="1.3"/>
<circle cx="535.4" cy="690.9" r="1.3"/>
<circle cx="545.2" cy="595.8" r="1.3"/>
<circle cx="543.7" cy="741.3" r="1.3"/>
<circle cx="554.7" cy="578.8" r="1.3"/>
<circle cx="534.3" cy="612.3" r="1.3"/>
<circle cx="522.4" cy="608.8" r="1.3"/>
<circle cx="555.0" cy="632.3" r="1.3"/>
<circle cx="556.6" cy="601.0" r="1.3"/>
<circle cx="531.2" cy="569.4" r="1.3"/>
<circle cx="531.8" cy="760.7" r="1.3"/>
<circle cx="529.2" cy="563.8" r="1.3"/>
<circle cx="542.8" cy="663.4" r="1.3"/>
<circle cx="546.9" cy="636.1" r="1.3"/>
<circle cx="530.6" cy="682.2" r="1.3"/>
<circle cx="557.0" cy="654.5" r="1.3"/>
<circle cx="524.9" cy="859.6" r="1.3"/>
<circle cx="542.1" cy="654.4" r="1.3"/>
<circle cx="553.1" cy="838.7" r="1.3"/>
<circle cx="542.1" cy="607.1" r="1.3"/>
<circle cx="520.0" cy="831.9" r="1.3"/>
<circle cx="519.6" cy="641.8" r="1.3"/>
<circle cx="521.8" cy="620.1" r="1.3"/>
<circle cx="536.0" cy="568.0" r="1.3"/>
<circle cx="523.4" cy="731.7" r="1.3"/>
<circle cx="544.8" cy="573.1" r="1.3"/>
<circle cx="531.2" cy="693.1" r="1.3"/>
<circle cx="530.0" cy="587.7" r="1.3"/>
<circle cx="541.4" cy="651.8" r="1.3"/>
<circle cx="521.7" cy="854.0" r="1.3"/>
<circle cx="537.7" cy="814.0" r="1.3"/>
<circle cx="539.4" cy="593.2" r="1.3"/>
<circle cx="528.5" cy="659.7" r="1.3"/>
<circle cx="521.5" cy="588.0" r="1.3"/>
<circle cx="536.0" cy="674.5" r="1.3"/>
<circle cx="552.6" cy="637.6" r="1.3"/>
<circle cx="529.6" cy="812.1" r="1.3"/>
<circle cx="537.2" cy="645.2" r="1.3"/>
<circle cx="518.0" cy="549.7" r="1.3"/>
<circle cx="553.4" cy="586.6" r="1.3"/>
<circle cx="532.0" cy="769.8" r="1.3"/>
<circle cx="523.3" cy="705.8" r="1.3"/>
<circle cx="555.2" cy="659.1" r="1.3"/>
<circle cx="540.8" cy="587.2" r="1.3"/>
<circle cx="532.9" cy="640.3" r="1.3"/>
<circle cx="548.7" cy="687.1" r="1.3"/>
<circle cx="517.9" cy="555.9" r="1.3"/>
<circle cx="532.5" cy="598.6" r="1.3"/>
<circle cx="524.3" cy="820.1" r="1.3"/>
<circle cx="526.2" cy="862.7" r="1.3"/>
<circle cx="528.2" cy="619.7" r="1.3"/>
<circle cx="524.2" cy="595.8" r="1.3"/>
<circle cx="539.6" cy="578.8" r="1.3"/>
<circle cx="530.9" cy="608.4" r="1.3"/>
<circle cx="522.1" cy="631.9" r="1.3"/>
<circle cx="526.3" cy="704.5" r="1.3"/>
<circle cx="554.9" cy="653.8" r="1.3"/>
<circle cx="538.4" cy="659.4" r="1.3"/>
<circle cx="545.9" cy="651.4" r="1.3"/>
<circle cx="528.7" cy="556.3" r="1.3"/>
<circle cx="530.2" cy="767.3" r="1.3"/>
<circle cx="532.1" cy="637.3" r="1.3"/>
<circle cx="555.7" cy="710.1" r="1.3"/>
<circle cx="540.0" cy="609.0" r="1.3"/>
<circle cx="557.2" cy="588.0" r="1.3"/>
<circle cx="518.7" cy="865.2" r="1.3"/>
<circle cx="521.1" cy="865.2" r="1.3"/>
<circle cx="525.0" cy="865.2" r="1.3"/>
<circle cx="527.3" cy="865.3" r="1.3"/>
<circle cx="531.7" cy="865.4" r="1.3"/>
<circle cx="534.0" cy="865.3" r="1.3"/>
<circle cx="537.5" cy="865.4" r="1.3"/>
<circle cx="539.9" cy="865.2" r="1.3"/>
<circle cx="544.6" cy="865.3" r="1.3"/>
<circle cx="546.4" cy="865.4" r="1.3"/>
<circle cx="549.7" cy="865.3" r="1.3"/>
<circle cx="554.5" cy="865.2" r="1.3"/>
<circle cx="555.7" cy="865.5" r="1.3"/>
</g>
<line x1="50.75" y1="503.5" x2="601.5" y2="503.5" stroke="#f0f0f0" stroke-width="1"/>
<path d="M50.75,503.5 L50.75,882.7 L601.5,882.7 L601.5,503.5" fill="none" stroke="#dedede" stroke-width="1"/>
<text x="41.55" y="870.50" font-size="17" text-anchor="end" fill="#1a1a1a">0</text>
<text x="41.55" y="800.00" font-size="17" text-anchor="end" fill="#1a1a1a">1</text>
<text x="41.55" y="729.50" font-size="17" text-anchor="end" fill="#1a1a1a">2</text>
<text x="41.55" y="659.00" font-size="17" text-anchor="end" fill="#1a1a1a">3</text>
<text x="41.55" y="588.50" font-size="17" text-anchor="end" fill="#1a1a1a">4</text>
<text x="41.55" y="518.00" font-size="17" text-anchor="end" fill="#1a1a1a">5</text>
<text x="114.3" y="906.00" font-size="17" text-anchor="middle" fill="#1a1a1a">Pre</text>
<text x="220.2" y="906.00" font-size="17" text-anchor="middle" fill="#1a1a1a">m1</text>
<text x="326.15" y="906.00" font-size="17" text-anchor="middle" fill="#1a1a1a">m3</text>
<text x="432.05" y="906.00" font-size="17" text-anchor="middle" fill="#1a1a1a">m6</text>
<text x="537.95" y="906.00" font-size="17" text-anchor="middle" fill="#1a1a1a">m12</text>
<text x="325.7" y="931.70" font-size="17" text-anchor="middle" fill="#000">Time point</text>
<text transform="translate(20.2,693.1) rotate(-90)" font-size="17" text-anchor="middle" fill="#000">log10(KRECs) value</text>
<text x="50.9" y="500.9" font-size="17" fill="#000">Distribution of KRECs values by time point</text>
<text transform="translate(0.1,501.0) scale(0.282,0.2836)" font-size="100" font-weight="bold" fill="#000">b</text>
<text x="614.2" y="664.1" font-size="14" fill="#000">IdMomento</text>
<rect x="614.6" y="668.10" width="10.8" height="11.8" fill="#ef7e9e" stroke="#666" stroke-width="0.9"/>
<rect x="615.2" y="670.60" width="9.6" height="6.5" fill="#e8003c" stroke="#ee1111" stroke-opacity="0.75" stroke-width="0.9"/>
<line x1="615.2" y1="673.85" x2="624.8" y2="673.85" stroke="#ee1111" stroke-opacity="0.75" stroke-width="0.8"/>
<circle cx="620.0" cy="673.80" r="1.2" fill="#000" fill-opacity="0.28"/>
<text x="632.3" y="678.30" font-size="14" fill="#000">Pre</text>
<rect x="614.6" y="680.70" width="10.8" height="11.8" fill="#f8cd8a" stroke="#666" stroke-width="0.9"/>
<rect x="615.2" y="683.20" width="9.6" height="6.5" fill="#f5a30a" stroke="#ee1111" stroke-opacity="0.75" stroke-width="0.9"/>
<line x1="615.2" y1="686.45" x2="624.8" y2="686.45" stroke="#ee1111" stroke-opacity="0.75" stroke-width="0.8"/>
<circle cx="620.0" cy="686.40" r="1.2" fill="#000" fill-opacity="0.28"/>
<text x="632.3" y="690.90" font-size="14" fill="#000">m1</text>
<rect x="614.6" y="693.30" width="10.8" height="11.8" fill="#bfd6a0" stroke="#666" stroke-width="0.9"/>
<rect x="615.2" y="695.80" width="9.6" height="6.5" fill="#7cbf3e" stroke="#ee1111" stroke-opacity="0.75" stroke-width="0.9"/>
<line x1="615.2" y1="699.05" x2="624.8" y2="699.05" stroke="#ee1111" stroke-opacity="0.75" stroke-width="0.8"/>
<circle cx="620.0" cy="699.00" r="1.2" fill="#000" fill-opacity="0.28"/>
<text x="632.3" y="703.50" font-size="14" fill="#000">m3</text>
<rect x="614.6" y="705.90" width="10.8" height="11.8" fill="#7eb5d4" stroke="#666" stroke-width="0.9"/>
<rect x="615.2" y="708.40" width="9.6" height="6.5" fill="#1a78c0" stroke="#ee1111" stroke-opacity="0.75" stroke-width="0.9"/>
<line x1="615.2" y1="711.65" x2="624.8" y2="711.65" stroke="#ee1111" stroke-opacity="0.75" stroke-width="0.8"/>
<circle cx="620.0" cy="711.60" r="1.2" fill="#000" fill-opacity="0.28"/>
<text x="632.3" y="716.10" font-size="14" fill="#000">m6</text>
<rect x="614.6" y="718.50" width="10.8" height="11.8" fill="#d1aed9" stroke="#666" stroke-width="0.9"/>
<rect x="615.2" y="721.00" width="9.6" height="6.5" fill="#a060c0" stroke="#ee1111" stroke-opacity="0.75" stroke-width="0.9"/>
<line x1="615.2" y1="724.25" x2="624.8" y2="724.25" stroke="#ee1111" stroke-opacity="0.75" stroke-width="0.8"/>
<circle cx="620.0" cy="724.20" r="1.2" fill="#000" fill-opacity="0.28"/>
<text x="632.3" y="728.70" font-size="14" fill="#000">m12</text>
</svg></body></html>
